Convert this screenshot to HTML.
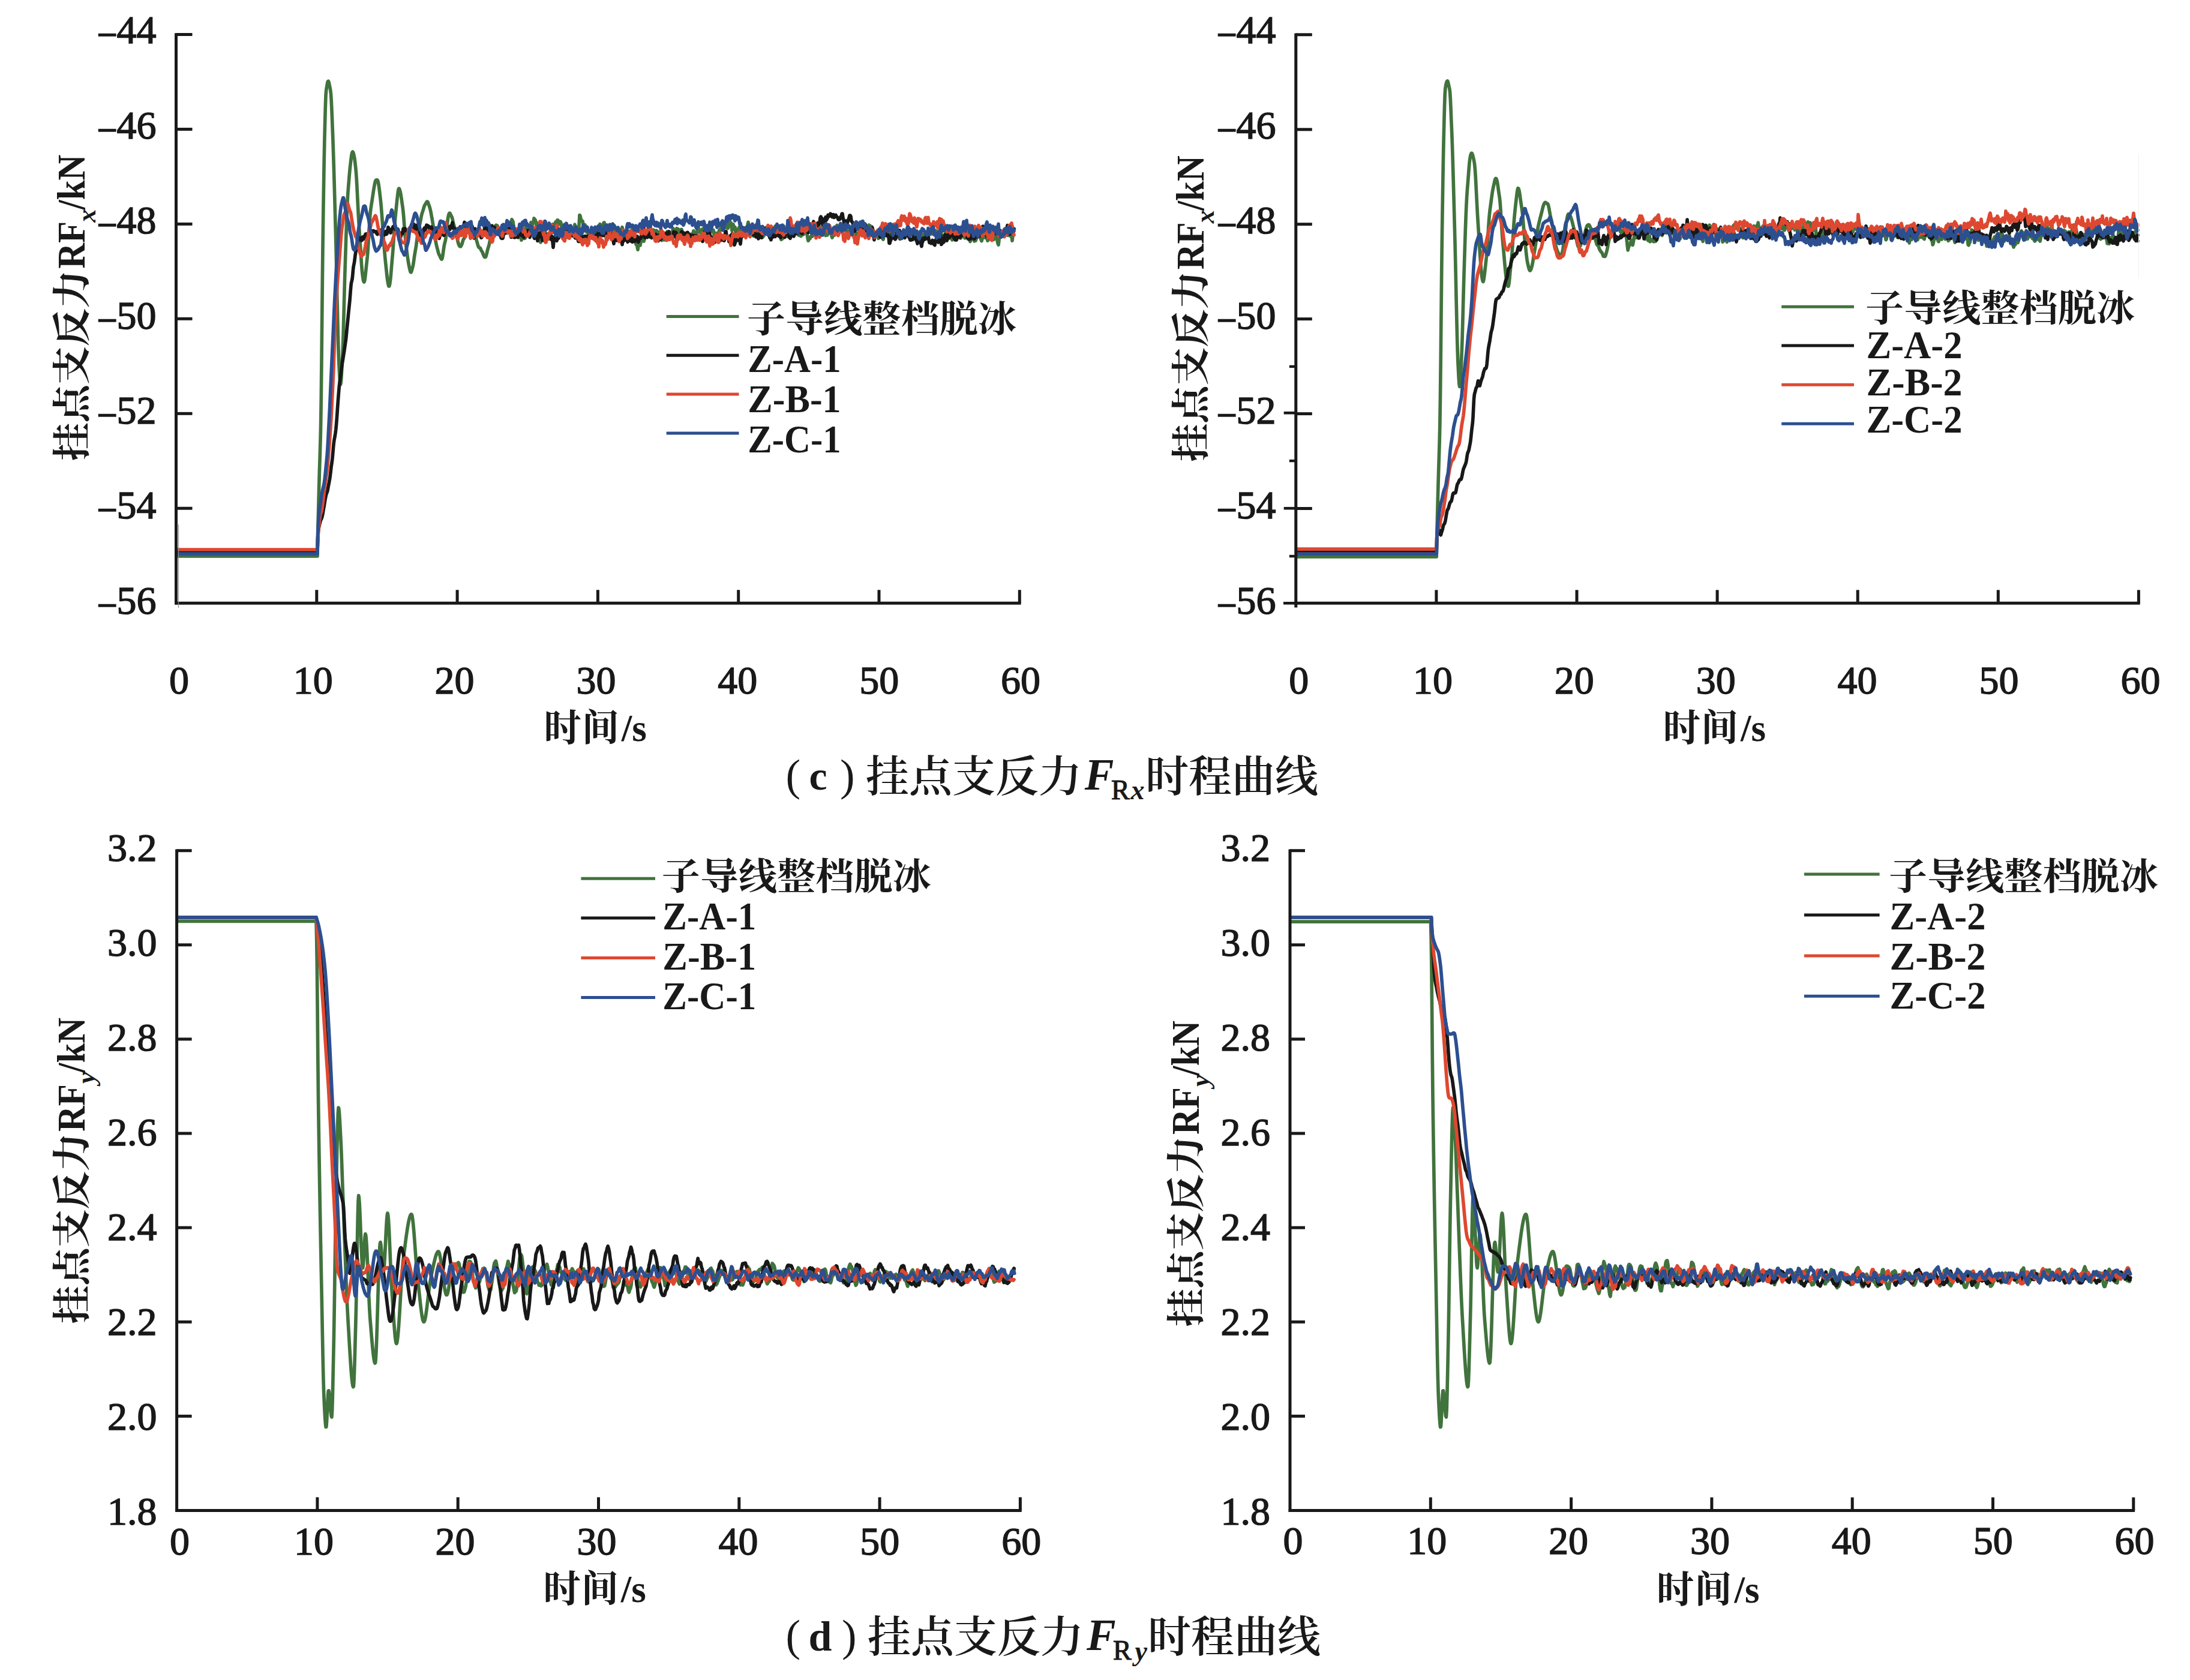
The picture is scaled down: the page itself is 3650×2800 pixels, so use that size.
<!DOCTYPE html>
<html><head><meta charset="utf-8"><title>挂点支反力时程曲线</title>
<style>html,body{margin:0;padding:0;background:#fff;width:3650px;height:2800px;overflow:hidden}svg{display:block}</style>
</head><body>
<svg width="3650" height="2800" viewBox="0 0 3650 2800">
<rect width="3650" height="2800" fill="#fff"/>
<path d="M296.0 927.0l233 0 0.7 -35.1 0.7 -30.7 0.7 -27.8 0.7 -26.4 0.7 -24.6 0.7 -21.3 0.7 -22.9 0.7 -29.4 0.7 -45.7 0.7 -62.4 0.7 -70.3 0.7 -69.1 0.7 -59.1 0.7 -48.3 0.7 -45.4 0.7 -40.8 0.7 -34.8 0.7 -28.2 0.7 -25.9 0.7 -19.6 0.7 -9 0.7 -4.1 0.7 -4.3 0.7 -3.9 0.7 -2.3 0.7 -0.4 0.7 1.4 0.7 2.7 0.7 3.3 0.7 3.6 0.7 3.8 0.7 5.5 0.7 10.4 0.7 14.2 0.7 17 0.7 18 0.7 18.5 0.7 20.8 0.7 22.5 0.7 23.8 0.7 24.9 0.7 25.7 0.7 25.9 0.7 25.8 0.7 29 0.7 31.7 0.7 32.5 0.7 31.5 0.7 29 0.7 25.4 0.7 20.2 0.7 14 0.7 11.9 0.7 8.9 0.7 3.7 0.7 -2.8 0.7 -8.5 0.7 -12.6 0.7 -14.4 0.7 -14.4 0.7 -17.4 0.7 -23.1 0.7 -26.6 0.7 -27.8 0.7 -26.4 0.7 -22.7 0.7 -21.8 0.7 -22 0.7 -21.2 0.7 -19.3 0.7 -16.9 0.7 -13.9 0.7 -10.4 0.7 -8.9 0.7 -8.8 0.7 -8.6 0.7 -7.9 0.7 -6.8 0.7 -6.1 0.7 -5.9 0.7 -5.6 0.7 -4 0.7 -2.2 0.7 -0.7 0.7 0.8 0.7 2 0.7 2.8 0.7 3.6 0.7 4.6 0.7 5.8 0.7 6.6 0.7 7.1 0.7 9.9 0.7 12.2 0.7 13.7 0.7 14.3 0.7 14.1 0.7 13.2 0.7 11.1 0.7 10.9 0.7 10.9 0.7 10.8 0.7 10.8 0.7 11 0.7 10.6 0.7 9.1 0.7 7.1 0.7 5.4 0.7 4.3 0.7 3.1 0.7 1.1 0.7 -1 0.7 -3.3 0.7 -5.3 0.7 -6.7 0.7 -6.8 0.7 -6.5 0.7 -6.3 0.7 -6.5 0.7 -8.8 0.7 -10.8 0.7 -11.9 0.7 -11.9 0.7 -11.3 0.7 -10 0.7 -8.3 0.7 -6.3 0.7 -4.7 0.7 -4.6 0.7 -4.5 0.7 -4.4 0.7 -4.8 0.7 -4.7 0.7 -4.5 0.7 -4 0.7 -3.9 0.7 -3.6 0.7 -2.7 0.7 -1.5 0.7 -0.4 0.7 -0.1 0.7 0 0.7 0.4 0.7 1.4 0.7 2.8 0.7 4.1 0.7 4.9 0.7 5.6 0.7 6 0.7 5.9 0.7 6.5 0.7 7.8 0.7 8.8 0.7 9.4 0.7 10.4 0.7 10.9 0.7 10.4 0.7 9 0.7 7.9 0.7 8.2 0.7 8.2 0.7 7.2 0.7 6.4 0.7 6.7 0.7 6.9 0.7 6.4 0.7 5.2 0.7 4.1 0.7 3.5 0.7 2.1 0.7 -0.1 0.7 -2.4 0.7 -4.1 0.7 -5.6 0.7 -7.4 0.7 -8.5 0.7 -8.7 0.7 -8.2 0.7 -7.4 0.7 -8.8 0.7 -10.4 0.7 -11.1 0.7 -10.7 0.7 -9.4 0.7 -8.1 0.7 -7.1 0.7 -7.1 0.7 -7.2 0.7 -6.9 0.7 -6.6 0.7 -6.2 0.7 -5.4 0.7 -3.9 0.7 -1.6 0.7 0.5 0.7 1.7 0.7 2.5 0.7 3.2 0.7 4 0.7 4.7 0.7 5 0.7 4.9 0.7 4.6 0.7 5.7 0.7 7.4 0.7 8.8 0.7 9.4 0.7 9.4 0.7 8.6 0.7 7.5 0.7 6.4 0.7 5.5 0.7 5.6 0.7 5.3 0.7 5.1 0.7 4.7 0.7 4.3 0.7 3.7 0.7 3.3 0.7 3.2 0.7 2.8 0.7 1.8 0.7 0.1 0.7 -1.5 0.7 -2.5 0.7 -2.5 0.7 -2.6 0.7 -3.2 0.7 -4.4 0.7 -5 0.7 -4.9 0.7 -4.5 0.7 -4.1 0.7 -4 0.7 -4.4 0.7 -5.1 0.7 -5.5 0.7 -5.4 0.7 -4.8 0.7 -4.1 0.7 -3.4 0.7 -3.2 0.7 -3.1 0.7 -3 0.7 -2.9 0.7 -3.7 0.7 -3.9 0.7 -3.5 0.7 -2.7 0.7 -2.1 0.7 -2.1 0.7 -2.2 0.7 -2.5 0.7 -2.5 0.7 -1.8 0.7 -1.2 0.7 -1.1 0.7 -1.1 0.7 -1.3 0.7 -1.2 0.7 -0.8 0.7 0 0.7 1.1 0.7 1.8 0.7 2 0.7 1.9 0.7 2 0.7 2.3 0.7 2.8 0.7 3.4 0.7 3.7 0.7 3.9 0.7 3.7 0.7 4.1 0.7 4.4 0.7 4.1 0.7 3.5 0.7 3.9 0.7 4.8 0.7 5.2 0.7 4.8 0.7 4 0.7 3.6 0.7 3.3 0.7 2.7 0.7 2.6 0.7 2.6 0.7 2.8 0.7 2.2 0.7 1.4 0.7 1.3 0.7 1.5 0.7 1.6 0.7 1.4 0.7 1.2 0.7 0.5 0.7 -1.2 0.7 -3.3 0.7 -4.6 0.7 -5.2 0.7 -4.9 0.7 -4.2 0.7 -3.1 0.7 -2.6 0.7 -2.9 0.7 -4.8 0.7 -6.3 0.7 -7.2 0.7 -7.3 0.7 -6.5 0.7 -5 0.7 -3.4 0.7 -2.5 0.7 -1.6 0.7 -0.3 0.7 0.8 0.7 1.5 0.7 1.5 0.7 1.2 0.7 1.3 0.7 2.1 0.7 2.9 0.7 3.3 0.7 2.9 0.7 2.5 0.7 2.5 0.7 2.3 0.7 2.2 0.7 2.6 0.7 3.2 0.7 3.6 0.7 3.4 0.7 3.1 0.7 3.1 0.7 2.9 0.7 2.4 0.7 1.9 0.7 1.3 0.7 0.8 0.7 0.4 0.7 -0.1 0.7 -0.8 0.7 -1.3 0.7 -1.7 0.7 -2.1 0.7 -2.7 0.7 -2.2 0.7 -1.4 0.7 -0.9 0.7 -1.3 0.7 -2.2 0.7 -2.8 0.7 -2.7 0.7 -2.4 0.7 -2.6 0.7 -2.7 0.7 -2.4 0.7 -2.2 0.7 -1.9 0.7 -1.5 0.7 -0.9 0.7 -0.2 0.7 0.7 0.7 1.4 0.7 1.8 0.7 1.5 0.7 0.9 0.7 0.7 0.7 1.4 0.7 2.5 0.7 2.8 0.7 2.3 0.7 2.1 0.7 2.2 0.7 1.5 0.7 1.1 0.7 1.5 0.7 2 0.7 2.4 0.7 2.5 0.7 2.5 0.7 2.4 0.7 2.2 0.7 1.6 0.7 0.9 0.7 0.2 0.7 0 0.7 0.7 0.7 1.8 0.7 1.8 0.7 1.1 0.7 0.8 0.7 1.3 0.7 1.9 0.7 1.9 0.7 1.7 0.7 1.4 0.7 1 0.7 0.2 0.7 -0.2 0.7 -0.7 0.7 -1.8 0.7 -2.8 0.7 -3.1 0.7 -3 0.7 -2.6 0.7 -2.2 0.7 -2.3 0.7 -2.8 0.7 -3.2 0.7 -3.5 0.7 -3.2 0.7 -2.5 0.7 -1.8 0.7 -1.4 0.7 -1.2 0.7 -1.7 0.7 -2.1 0.7 -1.8 0.7 -1.4 0.7 -1.1 0.7 -1.4 0.7 -2.3 0.7 -2.5 1.2 -0.8 1 0.5 1 0.7 1 2.2 1 1.2 1 1.6 1 0.9 1 0.6 1 -1.3 1 3.4 1 -5 1 -2.3 1 0.5 1 3.4 1 -1.6 1 2.4 1 -8 1 4.3 1 -4.8 1 -3.8 1 2 1 1.2 1 -2.8 1 3.5 1 -1.6 1 -2.1 1 -4.5 1 2 1 1.6 1 7.7 1 10.2 1 5 1 -6 1 0.3 1 8.6 1 -0.8 1 -2.5 1 3.9 1 -4.7 1 -1.4 1 1.7 1 2.7 1 6.1 1 -2.7 1 -0.6 1 -6.2 1 -2.7 1 9.3 1 -0.1 1 -11.6 1 -7.1 1 -2.1 1 1.1 1 -0.8 1 8.5 1 -8.4 1 3.8 1 -3.5 1 -6.4 1 2.5 1 2.8 1 -5.7 1 -0.1 1 -6.2 1 1.3 1 1.1 1 3.5 1 7.3 1 -5.1 1 0.1 1 3.6 1 1.9 1 7.5 1 10.1 1 8.5 1 -7.7 1 -5.7 1 3.8 1 -8.7 1 9 1 -8.2 1 -0.6 1 2.3 1 5 1 -2.4 1 2.8 1 -0.2 1 -3.5 1 -0.4 1 -0.6 1 7.5 1 -4.1 1 -6.6 1 -7.5 1 1.6 1 -6 1 0.3 1 6.3 1 -5.4 1 -4.8 1 7.6 1 2.1 1 -12.9 1 0.2 1 3.2 1 3 1 -2.8 1 -1 1 2.5 1 6.5 1 -1.5 1 3.3 1 -3.5 1 1.2 1 -4 1 2.6 1 5.5 1 2 1 1.7 1 8.4 1 1.9 1 -6 1 -4.7 1 -0.1 1 0.9 1 2.5 1 1.9 1 1.7 1 -1.5 1 -0.1 1 -8.6 1 -7.8 1 3.5 1 6 1 2.8 1 -5.1 1 -0.2 1 -2.9 1 -1.6 1 -18.2 1 1.4 1 4.6 1 4.4 1 -0.8 1 0.5 1 5.2 1 4.6 1 -1 1 -2.7 1 3.4 1 2.6 1 6.3 1 -2.4 1 3.1 1 0.6 1 -2.2 1 2 1 2.5 1 4.5 1 -9.2 1 1.9 1 3.3 1 -4.1 1 -1.4 1 2.3 1 7.8 1 5.9 1 -13.6 1 -5.5 1 6.4 1 -5.4 1 -5.2 1 -2.5 1 -2.3 1 12 1 0.7 1 -3.2 1 -3.1 1 -4.1 1 -4.2 1 -0.7 1 8.6 1 9.2 1 -1 1 -7.3 1 2.1 1 -2 1 3 1 -4.5 1 -4.6 1 0.2 1 8.3 1 3.6 1 -2 1 -3.6 1 1.1 1 5.2 1 8 1 -9.9 1 3.6 1 1.4 1 0.1 1 -1.6 1 6.2 1 -1.7 1 -3.1 1 -0.2 1 -0.6 1 -1 1 -5.4 1 -4.3 1 4.2 1 5.8 1 -2.4 1 0.6 1 7.1 1 -5 1 3.1 1 -9.2 1 8.4 1 7.5 1 -5.3 1 -7.6 1 1.4 1 3.2 1 1.2 1 -3.9 1 -6.5 1 9.3 1 2.1 1 -1.1 1 3 1 2.8 1 9.9 1 -5.8 1 9.1 1 5.5 1 -9.1 1 -0.7 1 -5.6 1 8.3 1 -6.3 1 -0.6 1 -1.9 1 -7.8 1 3.7 1 6 1 -3.3 1 -2.5 1 -9.7 1 -1.2 1 6.1 1 -0.4 1 -1.6 1 0.2 1 0.4 1 4.8 1 -3 1 0.8 1 -1.2 1 -2.3 1 -0.2 1 -5.9 1 1.2 1 3.9 1 -1.9 1 4.9 1 -7 1 1.3 1 1.3 1 1.8 1 3.9 1 -6.2 1 3.1 1 10.1 1 -1.9 1 3 1 -6.7 1 6 1 -4.1 1 0.5 1 3.5 1 -5.8 1 -5.3 1 3 1 -5.8 1 3.8 1 3.9 1 0.2 1 -2.5 1 3.4 1 -1.1 1 -1.3 1 -5 1 -2.5 1 -4 1 3.6 1 2.2 1 6.6 1 -2.5 1 -6.2 1 -3.8 1 6.1 1 -5.2 1 4.5 1 4.4 1 -1.2 1 -5.7 1 -1 1 -0.2 1 5.9 1 4.2 1 -1.8 1 2.1 1 3.1 1 -4.2 1 -2 1 -0.5 1 -0.8 1 0 1 0.7 1 3.8 1 -3.1 1 3.4 1 4.8 1 -0.2 1 0.7 1 -9.3 1 -0.5 1 -3.9 1 2.9 1 4.9 1 -4.9 1 0.9 1 3 1 -4.5 1 -11 1 2.1 1 7.1 1 1 1 -3 1 5.2 1 -2.5 1 -2.7 1 -1.7 1 1.8 1 -0.6 1 -5.1 1 3.6 1 1.7 1 -1.1 1 -1 1 5.6 1 -11 1 3.4 1 14.5 1 -7.2 1 0.5 1 -2.1 1 -1.6 1 1.7 1 0.3 1 -1.5 1 8 1 0.3 1 -3.6 1 1.8 1 2.6 1 -2.5 1 -1.7 1 -0.2 1 -1.4 1 -3.7 1 1.6 1 -3.4 1 -10.3 1 1.5 1 5.2 1 -1.4 1 -3 1 -1.2 1 7.8 1 -4.4 1 -0.2 1 0.5 1 -5.8 1 10.6 1 -3.3 1 -2.2 1 -1 1 2.4 1 -5.8 1 4.4 1 9.3 1 -4.8 1 -5.8 1 5.8 1 -1.7 1 0.8 1 7.8 1 0.7 1 6.4 1 -5.8 1 0.7 1 -7.7 1 -2 1 4.7 1 -3.6 1 2.7 1 0.9 1 1.5 1 -3 1 -1.4 1 1 1 1 1 -1 1 -1.6 1 5 1 -7.3 1 -2.8 1 -4.5 1 4.2 1 3.8 1 2.3 1 -1 1 3.7 1 -0.5 1 -1.1 1 10.9 1 0.7 1 -1.7 1 -8 1 4.4 1 -5.1 1 4.9 1 2.6 1 -12.7 1 8.2 1 5.9 1 -3.9 1 0 1 1.4 1 5 1 1.6 1 -0.4 1 -4.9 1 2.6 1 -9.4 1 -3.4 1 0.6 1 -1.8 1 2.1 1 4.4 1 4.9 1 1.4 1 -2 1 -2.8 1 -8.4 1 5.6 1 5.9 1 -7.8 1 0 1 1.1 1 2.8 1 -2 1 -7.6 1 4.9 1 2.3 1 2.5 1 -4 1 -0.5 1 3.8 1 3.2 1 3.5 1 -3 1 9.7 1 -3.8 1 2.7 1 -4.8 1 -2.4 1 2.7 1 -1.2 1 1.9 1 -5.2 1 -0.5 1 5.1 1 -9.1 1 4.1 1 -3.3 1 1.9 1 -3.7 1 -2.7 1 -0.7 1 0.2 1 5.6 1 -2.6 1 -6 1 1.5 1 8.7 1 -2.2 1 2.6 1 -1.8 1 -1.2 1 -1.4 1 8.2 1 0.4 1 -8.1 1 5.3 1 4.1 1 -4.3 1 -3.6 1 -0.8 1 6.1 1 -2.4 1 -0.5 1 -4.5 1 -3 1 3.7 1 5.7 1 6.4 1 4.9 1 -1.8 1 -2.1 1 0.2 1 -3.3 1 0.3 1 -3.2 1 2.5 1 -5 1 0.4 1 1.4 1 0.1 1 -2.2 1 -0.7 1 0.5 1 -0.6 1 1.4 1 -0.9 1 -3.1 1 -6 1 7.3 1 -4.8 1 -3.2 1 5.4 1 -2.4 1 -3.8 1 3.1 1 4.8 1 1.6 1 5.3 1 -3.7 1 -6 1 9.1 1 -7.5 1 -5 1 4.8 1 3.9 1 -5.8 1 2.9 1 8 1 2.9 1 -3.2 1 -5.5 1 1.9 1 2.7 1 -3.7 1 0.7 1 -4.8 1 -8.9 1 4.1 1 5.9 1 -4.1 1 -2.1 1 4.4 1 -1.8 1 3.8 1 -4.9 1 1.7 1 -1.9 1 3.3 1 -4.2 1 1.1 1 0 1 3.4 1 0.7 1 2.3 1 -1.5 1 0.2 1 4.8 1 -1 1 -0.6 1 -6.7 1 4.8 1 -4 1 -2.6 1 -2.3 1 1.8 1 8.1 1 4.8 1 0.2 1 0.8 1 -4.9 1 2.2 1 0.4 1 2.6 1 -8.6 1 -1.4 1 4.7 1 0.5 1 -1.7 1 0.8 1 0 1 -1.7 1 5 1 -7.1 1 1.6 1 -8.5 1 7.3 1 -4.8 1 0.6 1 -1.9 1 -3.8 1 1 1 0.1 1 2.3 1 3.7 1 -4.5 1 6.4 1 -0.5 1 4.6 1 0.5 1 0.8 1 -1.4 1 1.4 1 -0.2 1 2.1 1 3.5 1 2.5 1 -2.8 1 -5.3 1 -4.2 1 3.9 1 2.7 1 0.9 1 5.5 1 1 1 -4.8 1 -5.7 1 1.6 1 -4.6 1 -6.4 1 1.9 1 -0.3 1 0.8 1 -7.7 1 0.9 1 9.2 1 5.9 1 -4.2 1 -1.8 1 -0.9 1 -4.3 1 -4.5 1 4.6 1 -0.5 1 -0.5 1 8.7 1 -5.7 1 7.2 1 7.3 1 -5.9 1 -2 1 1.5 1 5.7 1 0.7 1 -1.9 1 -6.4 1 7.1 1 0.6 1 0.1 1 -5.8 1 2.1 1 1.6 1 0.7 1 -1 1 -4.9 1 5.6 1 -0.8 1 -5.9 1 3.3 1 1.5 1 -2.5 1 -5.4 1 7 1 2.6 1 -7.7 1 6.5 1 5.5 1 -5.5 1 6.1 1 3.3 1 -6.4 1 2.2 1 0.4 1 -6.3 1 1.5 1 2.5 1 -1.4 1 -3.9 1 -0.2 1 8.5 1 4.8 1 -3.7 1 -1.9 1 -5.6 1 -0.9 1 2 1 3.7 1 -0.5 1 -5 1 -4.7 1 -0.1 1 0.6 1 -3.3 1 0 1 6.6 1 -8.5 1 2.4 1 6.1 1 -2.7 1 3.5 1 -1.9 1 -4.5 1 1 1 0.2 1 6.2 1 1.9 1 -3.5 1 2.5 1 -5.7 1 -9.8 1 2.9 1 12.1 1 6.8 1 1.1 1 -7.6 1 5.3 1 -0.6 1 -3 1 -6.2 1 5.2 1 -2.9 1 -0.6 1 3.3 1 -1.6 1 -2.2 1 7.6 1 -7.9 1 3.7 1 2.3 1 5 1 -8.5 1 -4 1 4.4 1 -6.7 1 -6.2 1 4 1 4.1 1 0.5 1 7.9 1 -6.8 1 -0.3 1 2.7 1 4.6 1 1.4 1 -4.4 1 -1.6 1 -4.5 1 7.8 1 0.3 1 -0.1 1 2.3 1 -2.4 1 -4.6 1 0.9 1 5.1 1 2.2 1 -5.8 1 2.9 1 -0.9 1 8.4 1 -2 1 -7.5 1 4.3 1 -6.9 1 1.5 1 6.4 1 3.5 1 -6.5 1 5.8 1 -2.8 1 -3.8 1 -1.3 1 -0.3 1 -2.2 1 -1.1 1 1.3 1 0.5 1 7.9 1 2.3 1 -3.8 1 -2.1 1 0.2 1 -6.7 1 2.2 1 2.1 1 3 1 -6.9 1 6.6 1 4.9 1 -2.8 1 0.5 1 -2.7 1 -6.6 1 0.7 1 5.6 1 2.6 1 -10.6 1 3.8 1 7.6 1 -1.9 1 0 1 0 1 -3.5 1 -1.9 1 8.8 1 4.6 1 2.7 1 -7.6 1 -14.1 1 5.7 1 -0.5 1 2.6 1 -0.9 1 -7.5 1 3.4 1 -0.7 1 1.7 1 0.2 1 -0.6 1 -5 1 3.8 1 3.4 1 -2.2 1 2.5 1 -7.2 1 3.2 1 4.3 1 1.7 1 -2.6 1 9.4 1 -7.9 1 -8 1 -3" fill="none" stroke="#41733d" stroke-width="5.7" stroke-linejoin="round" stroke-linecap="round"/>
<path d="M296.0 919.0l233 0 0.7 -23.4 0.7 -9 0.7 -5.1 0.7 -3.9 0.7 -3 0.7 -3 0.7 -2.8 0.7 -2.1 0.7 -1.2 0.7 -1.5 0.7 -2.2 0.7 -2.9 0.7 -3.5 0.7 -4.1 0.7 -4 0.7 -3.8 0.7 -4.4 0.7 -4.6 0.7 -3.8 0.7 -3.4 0.7 -3.1 0.7 -2.2 0.7 -1.3 0.7 -2.2 0.7 -3.7 0.7 -4.2 0.7 -3.6 0.7 -3.5 0.7 -3.9 0.7 -4.4 0.7 -5.4 0.7 -6.2 0.7 -5.9 0.7 -4.7 0.7 -4.8 0.7 -6.6 0.7 -8.2 0.7 -8.2 0.7 -6.9 0.7 -5 0.7 -3.7 0.7 -3.7 0.7 -4.7 0.7 -5.7 0.7 -7.1 0.7 -8.8 0.7 -9.9 0.7 -10.4 0.7 -9.9 0.7 -9.1 0.7 -8.7 0.7 -8 0.7 -6.1 0.7 -4.9 0.7 -5 0.7 -5.6 0.7 -5.6 0.7 -5.2 0.7 -4.9 0.7 -4.3 0.7 -4.2 0.7 -4.5 0.7 -4.4 0.7 -4.4 0.7 -5 0.7 -5 0.7 -4.6 0.7 -5 0.7 -6.9 0.7 -7.8 0.7 -7.1 0.7 -6.9 0.7 -7.1 0.7 -7.3 0.7 -6.9 0.7 -6.8 0.7 -7 0.7 -8.4 0.7 -9.3 0.7 -8 0.7 -5 0.7 -2.5 0.7 -3.3 0.7 -6.6 0.7 -8.1 0.7 -6 0.7 -3.4 0.7 -3.5 0.7 -5.3 0.7 -5.8 0.7 -4.8 0.7 -4.2 0.7 -3.9 0.7 -3.1 0.7 -2.4 0.7 -2.7 0.7 -3.5 0.7 -3.5 0.7 -1.9 0.7 0.1 0.7 0.6 0.7 -0.1 0.7 0.4 0.7 2 0.7 2 0.7 -0.4 0.7 -2.9 0.7 -2.7 0.7 0.2 0.7 2.3 0.7 0.6 0.7 -2.3 0.7 -2.9 0.7 -1.8 0.7 -0.9 0.7 -0.2 0.7 0.9 0.7 1.6 0.7 1 0.7 -0.3 0.7 -1.8 0.7 -3 0.7 -3.7 0.7 -2.6 0.7 0 0.7 2.1 0.7 2.5 0.7 2.1 0.7 1.7 1.7 -5.5 1 -0.3 1 0.2 1 0.7 1 0.6 1 0.8 1 -1 1 3.6 1 1 1 -4.6 1 -0.3 1 1.5 1 2.3 1 -0.3 1 -5.7 1 8.3 1 -0.9 1 -2.4 1 4.2 1 -3.5 1 2.2 1 -3 1 -2.7 1 4.8 1 -0.8 1 -6.2 1 -4.7 1 3.3 1 3.5 1 -1.6 1 4.2 1 -4.8 1 -1.8 1 -0.2 1 -3.4 1 2.2 1 -1.8 1 -4.9 1 4.4 1 10.4 1 -1.2 1 -1.1 1 -4.2 1 3.4 1 5.7 1 -1.5 1 -0.7 1 5.8 1 -4.8 1 -2 1 1.9 1 -8.2 1 4.1 1 -4.3 1 -0.3 1 1.2 1 2.6 1 0.1 1 -0.5 1 -0.2 1 3.8 1 0.6 1 -3.9 1 -2.1 1 -5.5 1 -2.9 1 4.7 1 -0.3 1 0.2 1 -4.9 1 11.7 1 -9.1 1 2.8 1 3.1 1 -6.9 1 0.7 1 -2.5 1 2.9 1 3.1 1 9.6 1 3 1 -1 1 4.4 1 -1 1 -7.3 1 -4.1 1 -2.6 1 -1 1 3.9 1 -4.3 1 -3.9 1 0.4 1 2.5 1 -1.5 1 2.5 1 1.7 1 5.9 1 -0.9 1 -7.8 1 4.3 1 4.4 1 -1.8 1 3.5 1 -0.2 1 0.2 1 -1.2 1 2.3 1 0.8 1 -5.6 1 1.1 1 2.9 1 8.7 1 -3.6 1 -2 1 -2 1 -3.3 1 -0.1 1 4.6 1 -2.2 1 3.6 1 -5.6 1 -4 1 -2.8 1 -0.8 1 1.7 1 6.8 1 1.6 1 -11 1 2.6 1 1.3 1 -5.6 1 -0.4 1 -0.9 1 -4.4 1 9.4 1 0.3 1 -0.2 1 1.4 1 3.4 1 6.7 1 -5.5 1 -1 1 -4.2 1 0.9 1 -1.7 1 -0.4 1 -2 1 1.6 1 5.6 1 1.7 1 -2.6 1 -5 1 -1.2 1 -7.7 1 9.1 1 -0.1 1 2.1 1 4 1 -2.2 1 3.8 1 -2.7 1 1 1 -3.3 1 1.5 1 2 1 -7.4 1 -0.9 1 3.1 1 7.2 1 9.2 1 -9.8 1 -5.7 1 3.5 1 -1.6 1 3 1 1.5 1 -3.2 1 -0.7 1 -1.7 1 6.9 1 0.8 1 6.4 1 -0.6 1 -8.3 1 -1.5 1 0.6 1 -1 1 -8.4 1 5.2 1 7.1 1 -5.3 1 -0.8 1 -1.7 1 -2.7 1 6.7 1 -0.4 1 -0.3 1 1.9 1 -2.1 1 -8.5 1 5.2 1 -1.2 1 1.1 1 -2.3 1 1 1 6.7 1 -1.3 1 -0.7 1 1.5 1 2.7 1 -1 1 -6.6 1 4.8 1 5.2 1 5.1 1 1 1 -6 1 6 1 -5.4 1 -2.8 1 -5.1 1 -0.6 1 5.2 1 -5.1 1 -0.5 1 5 1 -0.1 1 -10.7 1 2.4 1 4.2 1 8.7 1 2.9 1 -7.5 1 1 1 4.3 1 2 1 -2.4 1 3 1 -6.1 1 -7.5 1 4.7 1 7.9 1 0.6 1 -10.9 1 0.1 1 3.6 1 -8.2 1 11.6 1 0.8 1 -12 1 9.4 1 1.4 1 4.5 1 -3.3 1 -2.8 1 1.4 1 2.5 1 -2.5 1 -2.9 1 -4.2 1 5.4 1 1.6 1 4.6 1 -5.9 1 -3 1 -1.4 1 3.6 1 -2.5 1 0.1 1 9.4 1 1.5 1 -8.5 1 -2 1 6.2 1 -1.6 1 10 1 -6.5 1 -0.6 1 -6.7 1 3.2 1 4.3 1 -2.7 1 -1.3 1 9.8 1 -3.6 1 -4.7 1 -1.4 1 2.3 1 4 1 -6.4 1 0 1 -0.5 1 6.2 1 -1.9 1 2.9 1 -0.7 1 -3 1 4.5 1 0.8 1 -5.3 1 8.5 1 9.7 1 -10.9 1 -1.7 1 -4.7 1 4.4 1 -1 1 3 1 -4.1 1 -4.7 1 4.5 1 -5.4 1 -4.7 1 1.5 1 -2.4 1 3 1 -1.5 1 -1.3 1 1.6 1 -4.2 1 4.4 1 -5.5 1 9.9 1 -2.7 1 -3.7 1 -1 1 4.2 1 -1 1 0.9 1 3.5 1 -4.6 1 -0.4 1 3.2 1 2.2 1 -3.2 1 0.7 1 1.1 1 3.7 1 1.3 1 -7.8 1 1.2 1 2.6 1 4.9 1 4.7 1 -2.9 1 1.5 1 1.7 1 -8.7 1 -1.4 1 0.8 1 1.5 1 0.4 1 -0.4 1 5.8 1 -7.1 1 0.3 1 4.5 1 -1.4 1 -3.6 1 0.7 1 1.4 1 -1.7 1 0.9 1 -4.1 1 0.5 1 -5.8 1 0 1 1 1 7.2 1 -2.8 1 1.8 1 -1.4 1 3.1 1 0.5 1 -1.4 1 2.2 1 -7.7 1 7 1 6.1 1 -10.8 1 -1.2 1 -3.4 1 3.2 1 -2.6 1 6.8 1 -3 1 -5.2 1 1.5 1 1.6 1 6.8 1 5 1 -4.3 1 -3.9 1 1.2 1 1.2 1 -6.6 1 8.8 1 -0.2 1 -6.7 1 10.4 1 -4.3 1 5.9 1 5.2 1 -9.2 1 -2.6 1 2.6 1 1.3 1 2.6 1 -1.6 1 -1.2 1 -0.1 1 0.5 1 -0.8 1 4.4 1 -0.4 1 -1.1 1 7.1 1 -7.9 1 2.3 1 -4.3 1 1.4 1 0.3 1 0.6 1 -0.8 1 -5.4 1 9.4 1 -7.7 1 -7.9 1 0.1 1 13.7 1 0.3 1 -4.9 1 3.5 1 3 1 -3.8 1 -2.5 1 2 1 3.2 1 -3.2 1 -3.2 1 4.6 1 -6.7 1 2.9 1 6.8 1 -3.3 1 -2.6 1 -1.4 1 0.8 1 -6.7 1 -7.7 1 2.5 1 -10.3 1 4.5 1 15.6 1 1.3 1 -4.8 1 0.8 1 1.9 1 1.5 1 -6.5 1 -1.9 1 2.1 1 4.1 1 1.3 1 -0.8 1 2.4 1 -4.9 1 1.3 1 -2.1 1 0.1 1 6.8 1 -4.4 1 -2.7 1 3.1 1 -0.7 1 6.1 1 2.7 1 -1.8 1 -8.3 1 2.1 1 5.5 1 -5.5 1 3.5 1 -0.8 1 -9.3 1 5.9 1 -0.1 1 0 1 1.6 1 -4.5 1 -1.7 1 1.6 1 -1.2 1 1.4 1 -4 1 11.3 1 -3.4 1 2.4 1 0.1 1 -1 1 -0.6 1 -2.3 1 -6.3 1 3.4 1 5 1 -7.4 1 0.8 1 11.8 1 0.1 1 -1.1 1 -5.8 1 -0.1 1 2.1 1 -0.5 1 -3.4 1 -5 1 0.7 1 0.2 1 8.5 1 -5.5 1 -1.3 1 1.4 1 0 1 1.3 1 -3.8 1 -0.2 1 10.8 1 -5.2 1 -1.1 1 -0.5 1 1.3 1 3 1 1.6 1 -5.1 1 2.7 1 -0.5 1 4.4 1 -6.1 1 3.9 1 2.2 1 -5.6 1 3.9 1 0.4 1 -3.6 1 1.9 1 4.2 1 -2.4 1 -2.8 1 1.2 1 3.5 1 2.8 1 -2.2 1 -1.3 1 -1.1 1 -12.2 1 -3.9 1 -0.6 1 8 1 -7 1 6.8 1 4 1 -5.3 1 3 1 5.3 1 4 1 -4.4 1 6.3 1 2.8 1 -2.3 1 -0.4 1 2.3 1 -3.8 1 -2.3 1 -0.4 1 2.8 1 -1.7 1 2.3 1 -0.3 1 1.5 1 -5.9 1 1.2 1 1.2 1 0.2 1 1.2 1 -2.7 1 1.3 1 2.5 1 -5.8 1 -9 1 -0.7 1 7.9 1 -0.1 1 2.6 1 1.2 1 5.5 1 -1.5 1 -8.5 1 1.8 1 -2.2 1 -2.4 1 6.6 1 0.2 1 4 1 7.5 1 -2.7 1 -3.5 1 -6.8 1 -1.9 1 7.4 1 -3 1 -0.2 1 -0.6 1 3.5 1 6.3 1 -9.3 1 -3.5 1 0.2 1 -2.6 1 -7.9 1 -3.7 1 3.8 1 2 1 -1.4 1 -0.5 1 1.2 1 2.7 1 0.3 1 -4.5 1 3.7 1 4.2 1 -2.2 1 -4.5 1 2.6 1 2.6 1 1.1 1 -6 1 6.1 1 -0.9 1 2.7 1 1.7 1 -4.6 1 0.3 1 4.2 1 3.2 1 -4.8 1 -4.1 1 2.3 1 4.3 1 0.6 1 -7.5 1 -2.7 1 -0.9 1 -1.6 1 -3 1 1.8 1 3.2 1 0.5 1 -1.1 1 -3.5 1 0.8 1 2.1 1 8.1 1 4 1 -0.6 1 4 1 -4.3 1 -1.8 1 -2.4 1 3.6 1 -1.8 1 0.7 1 0.6 1 -3.5 1 -3 1 3.3 1 0.9 1 0.5 1 0.9 1 -3.5 1 0.1 1 6.2 1 -2.3 1 -6.4 1 -4.5 1 1.3 1 3.6 1 3.7 1 3.9 1 -7.8 1 -0.7 1 -0.1 1 1.9 1 -0.7 1 0.1 1 7.1 1 0 1 1.9 1 -5.2 1 1.3 1 -0.2 1 -8.6 1 1.8 1 7.7 1 -2.8 1 -7.6 1 1 1 -1.1 1 1.9 1 4.1 1 -5.8 1 4.2 1 -7.3 1 -1.6 1 8.2 1 0.5 1 1.2 1 0.4 1 -4.3 1 -4.6 1 -11.1 1 1.6 1 5.9 1 1.8 1 1.7 1 -1.9 1 5.9 1 3.5 1 -4.6 1 -0.8 1 -0.8 1 0.7 1 -3 1 -3 1 1.1 1 -2.3 1 -5.9 1 4.1 1 0.8 1 0.3 1 -1.2 1 3.6 1 -0.2 1 -5 1 1.6 1 0.9 1 -2.9 1 -7.9 1 -2.2 1 2.3 1 0.3 1 10.1 1 -7.8 1 -0.1 1 5.6 1 -3.7 1 -5.9 1 5.3 1 -1.9 1 -1.7 1 -5.2 1 0.3 1 1.9 1 -0.9 1 -3.5 1 0.8 1 1.2 1 3.5 1 -1.3 1 -2.7 1 4.8 1 -2.5 1 1.5 1 -3.2 1 3 1 0 1 1.4 1 2.7 1 0.8 1 -0.4 1 -0.8 1 -3.6 1 1.8 1 -6.6 1 -0.5 1 7 1 3.3 1 5.8 1 -0.7 1 0.3 1 -3.6 1 2.2 1 1.9 1 -3.4 1 -2.9 1 -2.9 1 -3.9 1 -0.1 1 1.6 1 8 1 1 1 0.9 1 4.4 1 0.1 1 6.7 1 3.4 1 -6.2 1 -6.9 1 -1.3 1 10.8 1 -3.9 1 -4.9 1 5.4 1 -6.1 1 3.3 1 2.3 1 -0.9 1 -0.1 1 9.4 1 -6.9 1 0 1 -1.5 1 -4.2 1 4.7 1 6.3 1 3.9 1 -1.7 1 2.4 1 0.2 1 1.4 1 -6.8 1 8.3 1 -1.6 1 -3.4 1 -7.5 1 5.7 1 9.3 1 5.1 1 -9.8 1 -1.8 1 3.7 1 -1.4 1 -4.1 1 -0.2 1 0.2 1 3.6 1 2.4 1 2.8 1 -3.2 1 -3.3 1 -2.7 1 -0.4 1 -4.4 1 8.4 1 -2.3 1 2.1 1 -3.7 1 6.4 1 0.8 1 -1.2 1 -0.5 1 3.1 1 10.9 1 0.2 1 -4.3 1 -1.6 1 -4.5 1 -4.8 1 0.4 1 5 1 1.5 1 -2.7 1 4.5 1 -1.5 1 -5.3 1 -7.8 1 3.4 1 0.9 1 -4.8 1 0 1 14.3 1 -1.9 1 -3.9 1 5 1 -1.7 1 -3.6 1 -0.9 1 3 1 2.2 1 -4.6 1 -1.3 1 0.2 1 -8.7 1 8.6 1 2.6 1 2.4 1 1.7 1 2.7 1 0.3 1 -0.4 1 -0.7 1 0.2 1 -2.9 1 1.3 1 -7.2 1 5.5 1 2.4 1 -4 1 4.7 1 7.1 1 -4.4 1 -6.5 1 -5.9 1 10.4 1 3 1 3.6 1 4.2 1 -6.7 1 -3.1 1 -3.9 1 0.1 1 0 1 1.8 1 -2 1 -5.3 1 1.3 1 5.2 1 -5.2 1 6.2 1 5.4 1 -1.8 1 -0.3 1 3.4 1 -3 1 -2.3 1 0.7 1 5.4 1 1 1 1.1 1 -6.9 1 -2.7 1 -0.6 1 1.4 1 -1.2 1 5.4 1 -1.2 1 -6.8 1 -7.2 1 6 1 12.7 1 -1.9 1 -0.7 1 -1.2 1 -0.1 1 -9 1 -3.4 1 1.5 1 5.9 1 2.4 1 -2.2 1 -4.6 1 -3.8 1 5.5 1 -2 1 0.1 1 -0.2 1 -1.6 1 -0.8 1 0.1 1 -0.4 1 5.5 1 1.4 1 1.7 1 -7 1 7.3 1 -2.3 1 -2.5 1 -3 1 -1.7 1 -1.1 1 6.4 1 -2.8 1 0.5 1 -2.1 1 -6.3 1 -1.1 1 1.3 1 5.2 1 -1.2 1 0.5 1 1.7 1 -0.3 1 5 1 -6.2 1 7.1 1 1.8 1 -6.5 1 5.4 1 0.1 1 -0.9 1 -7 1 1.6 1 -3 1 3.3 1 6.4 1 -6 1 -8.7 1 1.3 1 3.6 1 6.7 1 -5.7 1 -3 1 7.8 1 -1.6 1 -2.4 1 -3 1 5.2 1 -6.6 1 -8.9 1 0.6 1 1.5 1 3 1 2.8 1 -4.1 1 3.1 1 10.4 1 -4.4 1 -2.6 1 0.8 1 -2.8 1 5.4 1 1.3 1 -4.4 1 3.3 1 -2.8 1 0.3 1 -3.2 1 -1.5 1 -0.6 1 6 1 0.3 1 -0.6 1 -3.2 1 -0.8 1 2.3 1 3.4 1 -1.8 1 -4.3 1 2.8 1 3.7 1 -4.1 1 3.6 1 -3.6 1 0.4 1 -4.1 1 3.4 1 -5.2 1 3.2 1 -2.4 1 -6.5 1 3 1 9.5 1 0.7 1 1.4 1 -6.5 1 -10.1 1 8.4 1 0.1 1 0 1 0.4 1 -1.2" fill="none" stroke="#181818" stroke-width="5.7" stroke-linejoin="round" stroke-linecap="round"/>
<path d="M296.0 916.0l233 0 0.7 -18.1 0.7 -10 0.7 -7.2 0.7 -6.5 0.7 -6.4 0.7 -5.8 0.7 -4.2 0.7 -2.2 0.7 -1.3 0.7 -2.5 0.7 -3.9 0.7 -4.7 0.7 -5 0.7 -5.7 0.7 -6.4 0.7 -6 0.7 -5.5 0.7 -5.2 0.7 -4.9 0.7 -4.6 0.7 -4.7 0.7 -5.2 0.7 -5.7 0.7 -6.3 0.7 -7.3 0.7 -8.1 0.7 -8.4 0.7 -8.5 0.7 -9 0.7 -10 0.7 -10.5 0.7 -10.8 0.7 -11.8 0.7 -13.4 0.7 -14.3 0.7 -14.2 0.7 -14.1 0.7 -15.5 0.7 -18.6 0.7 -20.6 0.7 -20.4 0.7 -18.5 0.7 -16.6 0.7 -14.9 0.7 -12.8 0.7 -11.5 0.7 -10.6 0.7 -9.4 0.7 -8.9 0.7 -8.9 0.7 -8.6 0.7 -8.4 0.7 -8.5 0.7 -9.2 0.7 -9.3 0.7 -9 0.7 -8.4 0.7 -6.9 0.7 -4.9 0.7 -4 0.7 -4.8 0.7 -5.3 0.7 -4.2 0.7 -2.4 0.7 -1.4 0.7 -1.2 0.7 -1.4 0.7 -2.3 0.7 -3.2 0.7 -3.9 0.7 -3 0.7 -0.9 0.7 1.7 0.7 2.8 0.7 2.9 0.7 2.5 0.7 1.8 0.7 1.2 0.7 1.8 0.7 3.5 0.7 4.7 0.7 4.6 0.7 4.1 0.7 3.9 0.7 3.8 0.7 3.4 0.7 2.9 0.7 2.4 0.7 2.4 0.7 2.4 0.7 2.1 0.7 1.2 0.7 1.1 0.7 2 0.7 3.3 0.7 3.8 0.7 3.4 0.7 3.1 0.7 3.2 0.7 3.1 0.7 2.5 0.7 1.8 0.7 1.7 0.7 2 0.7 0.9 0.7 -0.7 0.7 -1.4 0.7 -0.8 0.7 0.1 0.7 -0.6 0.7 -2.3 0.7 -3.7 0.7 -3.6 0.7 -3.1 0.7 -3.7 0.7 -4.3 0.7 -3.3 0.7 -1.4 0.7 -0.8 0.7 -1.9 0.7 -3.8 0.7 -4.4 0.7 -3.9 0.7 -2.5 0.7 -1.1 0.7 -1 0.7 -2.5 0.7 -3.2 0.7 -2.2 0.7 -0.9 0.7 -0.9 0.7 -1.5 0.7 -1.8 0.7 -1.3 0.7 -1.2 0.7 -1.5 0.7 -1.5 0.7 -1 0.7 0.8 0.7 2.3 0.7 3 0.7 3.4 0.7 4 0.7 3.9 0.7 3.2 0.7 2.3 0.7 1.8 0.7 1.3 0.7 1.5 0.7 2.2 0.7 2.2 0.7 1.3 0.7 0.6 0.7 0.6 0.7 1.2 0.7 2 0.7 2.7 0.7 2.3 0.7 1.2 0.7 1.1 0.7 2.3 0.7 3.2 0.7 3.1 0.7 2.3 0.7 1.4 0.7 0.2 0.7 -0.9 0.7 -1.8 0.7 -2.1 0.7 -2 0.7 -1.1 0.7 0.3 0.7 -0.1 0.7 -1.9 0.7 -2.2 0.7 -0.7 0.7 -0.2 0.7 -1.5 0.7 -2.7 0.7 -2.6 0.7 -1.8 0.7 -1.3 0.7 -1.7 0.7 -1.7 0.7 -1.5 0.7 -1.3 0.7 -1.3 0.7 -0.6 0.7 0 0.7 0.7 0.7 0.7 0.7 0 0.7 -0.4 0.7 0.8 0.7 2.6 0.7 3.2 0.7 2.7 0.7 2.2 0.7 2 0.7 1.7 0.7 0.8 0.7 0.3 0.7 0.3 0.7 0.6 0.7 0.3 0.7 -0.1 0.7 -0.2 0.7 -0.1 0.7 -1.2 0.7 -2.6 0.7 -2.9 0.7 -2.3 0.7 -1.3 0.7 -1.1 0.7 -2.1 0.7 -3.4 0.7 -3.7 0.7 -2.7 0.7 -0.9 0.7 0.6 0.7 1 0.7 0.5 0.7 0.1 0.7 0.2 0.7 0.6 0.7 1.2 0.7 1.2 0.7 0.4 0.7 -0.1 0.7 0.1 0.7 0.3 0.7 0.1 0.7 0.3 0.7 1.1 0.7 1.4 0.7 0.9 0.7 1 0.7 2.1 0.7 3.2 0.7 2.8 0.7 1 0.7 -1.3 0.7 -1.5 0.7 0 0.7 1.9 0.7 2.7 0.7 2.2 0.7 1.3 0.7 -0.1 0.7 -1.6 0.7 -3.1 0.7 -3.4 0.7 -2.1 0.7 -0.5 0.7 0.5 0.7 0.2 0.7 -1.4 0.7 -2.5 0.7 -2 0.7 -0.4 0.7 -0.3 1.3 -3.7 1 -0.1 1 0.3 1 0.1 1 0.2 1 1.4 1 2.5 1 2.9 1 -2.3 1 -1.9 1 7 1 1.7 1 2.3 1 -0.4 1 -1.7 1 -5.5 1 4.4 1 -4.6 1 0.9 1 -7 1 7.3 1 -5.3 1 -8.4 1 6.5 1 0.9 1 -2.7 1 -3.5 1 7.6 1 -7.3 1 -0.5 1 -9 1 9.8 1 3.6 1 1 1 4.9 1 -2.9 1 3.9 1 0.7 1 0.8 1 -2.4 1 5.5 1 1.4 1 -0.9 1 -1.2 1 -3.7 1 -2 1 1 1 0.7 1 -4.6 1 4.8 1 7.3 1 -3.4 1 -5.9 1 3.2 1 -9.2 1 3.5 1 5.7 1 -1 1 -2.8 1 -5.9 1 -0.9 1 8.1 1 2.3 1 2.3 1 -9.1 1 -4.5 1 0.3 1 -2.6 1 5.8 1 3.2 1 2 1 7.5 1 -0.5 1 -9.1 1 -0.9 1 8 1 0.6 1 -6.8 1 1.4 1 0.7 1 -1.2 1 1.1 1 -1.4 1 5 1 -3.5 1 -10.4 1 0.3 1 2.2 1 6.2 1 -4 1 5.8 1 2.9 1 -7.3 1 3.2 1 1.1 1 1.6 1 -5.7 1 2.3 1 -0.1 1 7.3 1 -4.8 1 5.1 1 -2.8 1 2.2 1 1.2 1 3.2 1 2 1 1.4 1 -1.6 1 -8 1 -4.8 1 4.9 1 -7.1 1 1.1 1 -2.6 1 -1.1 1 0.3 1 -5 1 1.9 1 2 1 5 1 1.8 1 -1.1 1 -0.8 1 5.5 1 -3.9 1 -8.8 1 3.6 1 0.7 1 -3.6 1 3.4 1 -0.7 1 -0.7 1 3.8 1 -1.4 1 -1 1 3 1 -3.2 1 8.3 1 -3.2 1 0.4 1 3.1 1 -1.2 1 -5.2 1 1.2 1 3.1 1 0.1 1 -7.3 1 1.1 1 -4.1 1 0.2 1 3 1 -1.2 1 -4.1 1 0 1 1.4 1 -3.6 1 3.2 1 -1.6 1 8.1 1 -1.4 1 0.9 1 -1 1 6.2 1 1.1 1 1 1 -1.2 1 0.7 1 -2.5 1 0.3 1 -4.1 1 -1.6 1 0.7 1 -1.1 1 -2.5 1 -3.5 1 1.7 1 3.7 1 -2.7 1 -1.3 1 -1.5 1 5.5 1 -3.4 1 1.3 1 -0.2 1 1.4 1 -10.8 1 -3.2 1 4.5 1 -4.2 1 6.5 1 4.7 1 5.6 1 5.1 1 -2.6 1 8.5 1 6.6 1 -0.2 1 -10.5 1 1 1 4.8 1 -9.8 1 2.7 1 -2.6 1 -3.6 1 -9.7 1 -1.4 1 3.6 1 7.1 1 1.8 1 -3.7 1 4.1 1 0.1 1 -4.8 1 -3.3 1 -4 1 1.6 1 3.7 1 8.9 1 1 1 -1.7 1 2.4 1 -3.5 1 -3 1 10.1 1 2.8 1 -3.2 1 6.2 1 0.8 1 -4.3 1 -10 1 4.9 1 1.8 1 -6.1 1 0.1 1 5.7 1 3.5 1 -5.6 1 -5 1 -3.9 1 -2.2 1 2.6 1 5.2 1 0.4 1 4.7 1 -7.8 1 0.4 1 6.3 1 3.5 1 -0.2 1 -3.7 1 2.3 1 6.1 1 -3.4 1 0 1 5 1 1 1 0.9 1 4.1 1 -8.4 1 3 1 -1 1 2.9 1 -5.6 1 2.7 1 -0.4 1 8.1 1 -4.9 1 2.1 1 -10.5 1 -2.9 1 0.3 1 -8.1 1 2.3 1 9.8 1 -0.1 1 -3.2 1 4.9 1 0.3 1 -0.4 1 -2.9 1 5.7 1 -1.7 1 5.4 1 -3.6 1 9.7 1 -9.4 1 -5.6 1 1.5 1 5.8 1 -0.2 1 -2.7 1 6.3 1 4.7 1 -5.4 1 0.7 1 0.3 1 -4.2 1 -9.5 1 6.2 1 -5.4 1 -1.5 1 -0.2 1 -10.9 1 10.3 1 3.3 1 3.6 1 -3.4 1 1.8 1 -2.4 1 -7.5 1 3.2 1 0.7 1 2.5 1 -2.4 1 -1.6 1 4.8 1 1.2 1 3.8 1 2.7 1 -7.8 1 -1 1 4.7 1 -2.9 1 -9.6 1 1.8 1 -3.9 1 1.5 1 2.4 1 1.4 1 0.1 1 1.8 1 2.1 1 4.4 1 -3.8 1 -6 1 6.8 1 -3.3 1 -6.6 1 0.4 1 4.6 1 1.6 1 -0.8 1 -6.5 1 4.6 1 6.2 1 -13.8 1 -1.9 1 5.3 1 1.3 1 -2.1 1 2.7 1 -0.1 1 -1.5 1 2.6 1 0.3 1 2.3 1 -0.2 1 -5.8 1 0.8 1 -1.9 1 2.9 1 3.5 1 1 1 -5.1 1 2.1 1 -3.2 1 -2.4 1 -0.9 1 -0.7 1 2 1 -3.4 1 4.9 1 0.6 1 6.4 1 -3.6 1 3.2 1 4 1 2.9 1 4.6 1 0.6 1 -6.4 1 -0.6 1 6.2 1 -3.2 1 -3.9 1 -0.2 1 2.6 1 -2.9 1 -10.8 1 2.4 1 1.4 1 0.2 1 8.2 1 1.5 1 -3 1 4.2 1 -2.6 1 5.4 1 -0.6 1 -2.2 1 -0.4 1 -2.2 1 4.2 1 -3.3 1 1.4 1 -3.9 1 0.4 1 4.4 1 3.1 1 4.1 1 -3.4 1 1.3 1 2.5 1 4.5 1 -7.5 1 -8 1 -2.6 1 3.4 1 1.1 1 -4.5 1 -0.8 1 2 1 4.6 1 2.2 1 -4.7 1 0.3 1 8.5 1 2.5 1 -5.7 1 -5.8 1 0.3 1 3.3 1 -7 1 2.2 1 9.3 1 -5.2 1 3.4 1 8.9 1 -6.5 1 2.1 1 -6.5 1 -3.9 1 4.5 1 0 1 0.7 1 -6.8 1 4.7 1 0.5 1 0.7 1 -3.5 1 -3.9 1 7.1 1 0.3 1 -0.6 1 -0.9 1 -1.4 1 -4 1 -4.4 1 1.6 1 3.9 1 -5.6 1 5.6 1 5.6 1 -2.9 1 6.2 1 -8.9 1 3.9 1 -4.7 1 9.5 1 7 1 -6.8 1 -5.8 1 0.6 1 6.8 1 2 1 -2.3 1 -4.8 1 -3.7 1 -1.2 1 -2.7 1 -1.3 1 9.4 1 3 1 0.8 1 -0.5 1 -10.1 1 -4.9 1 6.7 1 -0.9 1 -2.6 1 4.4 1 -0.9 1 3.3 1 -1.3 1 -4.4 1 1.6 1 -0.4 1 2.9 1 -1.2 1 -2.2 1 4.7 1 -0.6 1 0.6 1 3.7 1 7.2 1 -5.9 1 -5 1 -4.4 1 -4.1 1 4.1 1 -0.2 1 -2.4 1 2.9 1 -1 1 -1.2 1 -2.3 1 5.1 1 -3 1 -5 1 2.3 1 3 1 -3.5 1 4.8 1 -5.6 1 -3.9 1 8.3 1 -1.2 1 1.2 1 0.9 1 3.1 1 -3.3 1 -0.8 1 -6.7 1 0.1 1 -1.7 1 3.9 1 7 1 -7.6 1 1.5 1 -1.2 1 0.4 1 -5.4 1 -3 1 -3.3 1 7.7 1 -3.1 1 -3 1 -4 1 8.9 1 0.2 1 -4.4 1 2.4 1 1.7 1 3.2 1 -7.6 1 7.2 1 3.3 1 0.8 1 -6.3 1 -0.6 1 1.1 1 6.6 1 -0.8 1 -0.1 1 -2.6 1 -4.1 1 -7 1 3.8 1 6.7 1 -2.9 1 -5.7 1 -0.6 1 1.4 1 1.1 1 1.2 1 0.4 1 2.5 1 2.7 1 -2.3 1 -4 1 7.8 1 -7.3 1 -3.1 1 6.4 1 2.4 1 -1.4 1 2.5 1 -3.3 1 -0.8 1 -0.7 1 7.1 1 0 1 2.3 1 -5.9 1 1.8 1 -2.3 1 2.2 1 -5.7 1 -0.9 1 -10.2 1 -2.2 1 0.6 1 3 1 -9 1 3.5 1 7.6 1 1.7 1 1.1 1 1.6 1 -1.3 1 3.2 1 0.9 1 -6.4 1 4.1 1 -6.5 1 -2.6 1 5.2 1 2.8 1 1.6 1 -2.9 1 2.9 1 0.7 1 4.7 1 -3.7 1 -4.5 1 -1.5 1 5.4 1 5.1 1 -11.7 1 2 1 7.7 1 -0.8 1 -5.8 1 -1.9 1 -1.8 1 -1.2 1 3.4 1 4.3 1 -1.1 1 -6.1 1 2.6 1 1 1 4.4 1 -7.9 1 -1 1 5.5 1 19.2 1 -2.2 1 -6.5 1 1.3 1 -7.6 1 5.4 1 8.4 1 -8.8 1 -6.5 1 1.7 1 1.1 1 1.3 1 -0.6 1 -2.8 1 -3.2 1 4.7 1 -0.2 1 -4.8 1 5.1 1 -0.5 1 4.1 1 -5.1 1 -5.7 1 1.7 1 11.6 1 1.5 1 -1.1 1 -0.5 1 -5.4 1 6.6 1 -2.8 1 0 1 3.9 1 -2.6 1 -6 1 6.4 1 0.5 1 3.5 1 -2.9 1 -1.6 1 -6.4 1 -1.4 1 1 1 5.4 1 -1.7 1 4.8 1 10.2 1 -0.2 1 2.4 1 -10.5 1 -2.8 1 2.7 1 2.9 1 -2.9 1 5.9 1 -7.7 1 3.2 1 -7.3 1 -0.2 1 5.2 1 0.4 1 -0.4 1 1.3 1 3.4 1 0.8 1 8.3 1 -2.1 1 -3.9 1 -2.9 1 11.1 1 -7.4 1 -6.6 1 -3.5 1 -5 1 3.7 1 -4.7 1 1.8 1 8.1 1 -6 1 -1.8 1 7.5 1 -3.6 1 7.2 1 -5.2 1 0.4 1 -1.9 1 -0.1 1 4.3 1 3.7 1 -6.2 1 -8 1 -2.6 1 8.4 1 -4.9 1 -0.7 1 7.7 1 3.8 1 0.9 1 -5.2 1 -4.1 1 6.9 1 -1.9 1 -3.8 1 -4.4 1 2.2 1 -2.4 1 -0.2 1 1.6 1 -5.5 1 -1.9 1 -1.4 1 -4 1 4.8 1 6.3 1 -1 1 -6.5 1 -2.6 1 5.4 1 0.4 1 1.9 1 4.6 1 -3.3 1 3.4 1 -1.4 1 -0.5 1 -5.6 1 0.9 1 1.4 1 -1.3 1 0.1 1 1.1 1 4.2 1 -11.1 1 7.2 1 -2.1 1 -6.5 1 -1.7 1 -2.2 1 6.7 1 1.7 1 -0.7 1 0.3 1 -13.3 1 -2.7 1 3.1 1 4 1 -1.7 1 -4.8 1 4.8 1 3.5 1 -5 1 6.8 1 3.5 1 0.4 1 -2 1 -7.9 1 -8.4 1 1.5 1 3.3 1 4.3 1 4.2 1 -1.3 1 1.8 1 2 1 -8.9 1 4.7 1 3.9 1 3.6 1 2.9 1 -6 1 -8.1 1 3.2 1 -2.6 1 3.2 1 -2.1 1 1.1 1 3.4 1 -1.2 1 2.3 1 0.9 1 0.7 1 -5 1 -4.5 1 -1 1 8.6 1 1.2 1 -7.4 1 -2.4 1 9 1 0.9 1 2 1 -0.7 1 3.7 1 -2.4 1 -1.2 1 2 1 -6.1 1 2.9 1 1.9 1 -0.2 1 1.9 1 -3.4 1 -2.9 1 10.1 1 -6 1 -5.3 1 -4.3 1 4 1 -0.6 1 -2.1 1 9.9 1 0.2 1 -7.4 1 7.3 1 -1.1 1 4.9 1 1.6 1 2.2 1 0.5 1 2.2 1 -5.9 1 -1.8 1 -0.2 1 2 1 8.4 1 -4.1 1 1.8 1 -3.2 1 -0.9 1 2.7 1 -3.3 1 5.2 1 3.5 1 -3.3 1 -1.1 1 -1.1 1 3.7 1 1.6 1 -1.3 1 -6 1 -1.1 1 -2.3 1 4.2 1 2.1 1 -1.3 1 0.8 1 3.8 1 2.2 1 0.8 1 -4.4 1 -1.9 1 -0.2 1 -1.4 1 4.7 1 4.7 1 -8.9 1 -9 1 0.6 1 0.9 1 4.9 1 1.4 1 3.7 1 -5.8 1 -1.5 1 3.2 1 -5.6 1 4.2 1 6.4 1 -1 1 -1.3 1 -6.4 1 -3.4 1 5 1 5.2 1 -4.2 1 -2.2 1 2.7 1 11.1 1 -8.7 1 0 1 0.4 1 4.3 1 -7.4 1 0.5 1 5 1 -3.3 1 7.7 1 4.2 1 -5.4 1 -8.9 1 6 1 5.4 1 6.7 1 0.8 1 -4.5 1 -6.5 1 -3.8 1 -1.8 1 -2.8 1 -0.6 1 -0.1 1 3.5 1 3.8 1 -5.2 1 10.2 1 -0.5 1 0 1 -2.9 1 0.8 1 3.7 1 -5.7 1 -2.9 1 2.4 1 0.8 1 6.3 1 -2.5 1 -0.5 1 -2.7 1 -1.3 1 2 1 -2.7 1 -0.7 1 -10.8 1 5.6 1 2.4 1 -5.4 1 -6.3 1 5.5 1 3.4 1 7.6 1 3.3" fill="none" stroke="#de4830" stroke-width="5.7" stroke-linejoin="round" stroke-linecap="round"/>
<path d="M296.0 923.0l233 0 0.7 -33.9 0.7 -15.3 0.7 -9.7 0.7 -8 0.7 -6.5 0.7 -5.2 0.7 -4.2 0.7 -4.5 0.7 -5.2 0.7 -5.2 0.7 -4.1 0.7 -3.4 0.7 -2.9 0.7 -2.9 0.7 -3 0.7 -3.4 0.7 -4.6 0.7 -5.8 0.7 -6.6 0.7 -7 0.7 -7.3 0.7 -7.2 0.7 -7.6 0.7 -9.3 0.7 -11.7 0.7 -13.5 0.7 -13.6 0.7 -12.9 0.7 -13.4 0.7 -14.9 0.7 -16.3 0.7 -16.3 0.7 -15.6 0.7 -14.9 0.7 -15 0.7 -14.7 0.7 -14.6 0.7 -15.3 0.7 -15.9 0.7 -15.8 0.7 -14.5 0.7 -13.3 0.7 -13.1 0.7 -13.6 0.7 -13.3 0.7 -12.1 0.7 -10.9 0.7 -10.5 0.7 -10.6 0.7 -10.6 0.7 -10.7 0.7 -10.3 0.7 -8.7 0.7 -6.8 0.7 -6.2 0.7 -5.6 0.7 -4.3 0.7 -2.9 0.7 -2.7 0.7 -2.9 0.7 -2.4 0.7 -0.2 0.7 2.5 0.7 4.4 0.7 5.4 0.7 5 0.7 3.7 0.7 3.3 0.7 3.6 0.7 3.6 0.7 2.9 0.7 2.6 0.7 2.2 0.7 1.8 0.7 2.4 0.7 4.2 0.7 5.5 0.7 4.4 0.7 2.7 0.7 2.3 0.7 3 0.7 4.3 0.7 5.2 0.7 4.9 0.7 3.5 0.7 2.1 0.7 1.1 0.7 0.6 0.7 -0.5 0.7 -1.5 0.7 -1.7 0.7 -1.5 0.7 -1.8 0.7 -3.7 0.7 -6.1 0.7 -7.2 0.7 -6.5 0.7 -4.7 0.7 -3.4 0.7 -3.2 0.7 -3.5 0.7 -3.2 0.7 -2.7 0.7 -2.3 0.7 -2.6 0.7 -3.1 0.7 -3.2 0.7 -3.6 0.7 -3.6 0.7 -2.7 0.7 -1 0.7 -0.1 0.7 0 0.7 0.9 0.7 2.9 0.7 3.7 0.7 3.1 0.7 2.3 0.7 2 0.7 1.9 0.7 2.3 0.7 2.9 0.7 4.1 0.7 5.5 0.7 5.9 0.7 4 0.7 1.7 0.7 1 0.7 2.2 0.7 3 0.7 2.7 0.7 2.5 0.7 3 0.7 4.1 0.7 3.9 0.7 2.7 0.7 2 0.7 2.1 0.7 1.9 0.7 0.8 0.7 -0.4 0.7 -0.7 0.7 -0.6 0.7 -0.6 0.7 -1 0.7 -1.3 0.7 -1.7 0.7 -1.5 0.7 -0.5 0.7 -0.8 0.7 -2.3 0.7 -4 0.7 -5.7 0.7 -7.2 0.7 -7 0.7 -4.2 0.7 -1 0.7 0.1 0.7 -0.7 0.7 -1.9 0.7 -2 0.7 -1.6 0.7 -1.3 0.7 -1.3 0.7 -2.1 0.7 -2.8 0.7 -2.8 0.7 -1.8 0.7 -0.1 0.7 0.9 0.7 1 0.7 -0.1 0.7 -1.3 0.7 -2.1 0.7 -2.7 0.7 -3.3 0.7 -2.1 0.7 1.1 0.7 4 0.7 4.4 0.7 3.5 0.7 3.3 0.7 3.8 0.7 3.4 0.7 2.3 0.7 1.9 0.7 2.5 0.7 1.9 0.7 0.2 0.7 -0.1 0.7 2.2 0.7 5 0.7 5.4 0.7 3.7 0.7 2.3 0.7 2.3 0.7 3.1 0.7 3.1 0.7 2.9 0.7 2.7 0.7 2.5 0.7 1.5 0.7 0.8 0.7 0.9 0.7 1.7 0.7 1.7 0.7 1 0.7 -0.2 0.7 -1.2 0.7 -2.4 0.7 -3.4 0.7 -3.8 0.7 -3.3 0.7 -2.7 0.7 -2.3 0.7 -2.6 0.7 -4.2 0.7 -6.2 0.7 -6.5 0.7 -4.5 0.7 -2.4 0.7 -1.1 0.7 -0.7 0.7 -1.1 0.7 -2.5 0.7 -3.2 0.7 -2.7 0.7 -2.2 0.7 -2.4 0.7 -2.8 0.7 -2.7 0.7 -2 0.7 -0.6 0.7 0.5 0.7 1.4 0.7 1.6 0.7 2.1 0.7 2.7 0.7 3 0.7 3 0.7 2.6 0.7 2.5 0.7 2.8 0.7 3 0.7 2.4 0.7 1 0.7 0.4 0.7 1.3 0.7 3.1 0.7 4.6 0.7 5.1 0.7 4.3 0.7 2.3 0.7 0.7 0.7 1 0.7 3.4 0.7 4.5 0.7 2.5 0.7 -0.2 0.7 -1.3 0.7 -1.3 0.7 -1.3 0.7 -1.2 0.7 -1.3 0.7 -1.9 0.7 -2 0.7 -1.6 0.7 -1.9 0.7 -2.7 0.7 -2.7 0.7 -1.9 0.7 -1.5 0.7 -1.6 0.7 -1.7 0.7 -1.5 0.7 -1.6 0.7 -1.5 0.7 -1.1 0.7 -1.4 0.7 -2.1 0.7 -1.8 0.7 -0.4 0.7 0.8 0.7 0.5 0.7 -0.4 0.7 -0.7 0.7 -0.1 0.7 -0.2 0.7 -1.2 0.7 -2.5 0.7 -3.1 0.7 -2.7 0.7 -1.5 0.7 -0.1 0.7 0.8 0.7 0.9 0.7 0.3 0.7 -0.5 0.7 -0.4 0.7 0.7 0.7 1.8 0.7 2.3 0.7 2.3 0.7 2.5 0.7 2.8 0.7 2.1 0.7 0.8 0.7 -0.1 0.7 0.1 0.7 0.8 0.7 0.9 0.7 0.6 0.7 1.2 0.7 2.4 0.7 2.2 0.7 0.3 0.7 -1.5 0.7 -1.9 0.7 -0.4 0.7 1.2 0.7 1.1 0.7 -0.8 0.7 -1.9 0.7 -1.8 0.7 -1.6 0.7 -0.9 0.7 0.8 0.7 1.8 0.7 1.1 0.7 -0.3 0.7 -1.1 0.7 -1.5 0.7 -1.8 0.7 -1.7 0.7 -0.9 0.7 0.4 0.7 0.7 1.1 -2.3 1 -0.1 1 0.1 1 -0.7 1 -0.3 1 -1.4 1 -1.7 1 -0.3 1 -0.1 1 -0.9 1 -0.3 1 -0.5 1 -1.1 1 5.2 1 -2.2 1 -3.1 1 -1.3 1 2.2 1 -3.2 1 -0.8 1 6.7 1 8.5 1 -0.2 1 2.4 1 0.2 1 5.4 1 -2.3 1 -1.9 1 -1.5 1 -0.2 1 -4.5 1 -0.7 1 -1.3 1 -5.9 1 -4.4 1 4.7 1 -6.8 1 -4.1 1 6 1 2.3 1 4.5 1 -1.6 1 -12 1 3.8 1 3.5 1 -2.6 1 8 1 -0.9 1 -3.3 1 2 1 7.4 1 10.1 1 0.3 1 -9.4 1 3.9 1 -4.2 1 2.6 1 -1 1 2.1 1 1.2 1 2.4 1 -2 1 3.7 1 -3 1 -2.3 1 6.4 1 -3.9 1 -4.4 1 -0.2 1 0.2 1 -4.5 1 -3.3 1 0.2 1 -1.3 1 1.9 1 7.5 1 -0.9 1 -0.9 1 -8.3 1 -5.8 1 4.8 1 3.7 1 -2.5 1 0.5 1 -2.3 1 4.1 1 -1 1 2.7 1 3.5 1 -3.3 1 -0.6 1 3.3 1 5.6 1 -0.5 1 4 1 -0.9 1 -0.3 1 -3.4 1 1.3 1 -4.4 1 -8.3 1 9.7 1 0.1 1 -6 1 -5 1 -2.2 1 4.9 1 -3.8 1 -3.2 1 -0.9 1 0 1 8 1 -3.2 1 2.2 1 1.9 1 0.4 1 -0.9 1 2.6 1 -0.9 1 7.6 1 -7.7 1 8.6 1 6.2 1 -7.9 1 7.1 1 2.3 1 -7.4 1 3 1 -5.9 1 0.5 1 -2.5 1 -3.9 1 -1 1 0.9 1 -1.8 1 5.1 1 1.5 1 2 1 -3.5 1 -4.4 1 0.2 1 5.7 1 -13.5 1 0.3 1 13.8 1 -0.8 1 -3 1 1.6 1 -0.2 1 -8.5 1 2.8 1 5.1 1 1.8 1 1.8 1 -2.6 1 -2.4 1 0.4 1 5.1 1 0.1 1 3.4 1 5.2 1 -0.8 1 -6.5 1 5.6 1 -6.6 1 -1.7 1 11.1 1 -5.7 1 -6.1 1 0.6 1 6.4 1 4.9 1 -3.6 1 -8.7 1 -5.6 1 2.5 1 3.6 1 -3.4 1 -6.3 1 5.1 1 2.6 1 -3.4 1 6.2 1 3.3 1 -3.4 1 -6.5 1 1.8 1 2.4 1 1.7 1 4.7 1 -1.3 1 -0.8 1 0.2 1 -3.8 1 -2.9 1 4.6 1 0.9 1 3.7 1 -0.7 1 -0.7 1 3.8 1 -4.4 1 -3.9 1 8.7 1 -0.9 1 -7.3 1 -7 1 2.5 1 7.4 1 -2.6 1 -1.6 1 1.4 1 -3.9 1 0.7 1 6.3 1 -0.4 1 0.6 1 0.3 1 1.6 1 -2 1 -6.2 1 2.3 1 6.2 1 -2.3 1 3.4 1 -6.6 1 -3.6 1 5.3 1 -0.5 1 -1.2 1 -2 1 -3.2 1 7.5 1 -1.4 1 -4.4 1 -1.1 1 8.3 1 1.1 1 2.2 1 -0.2 1 -0.3 1 -5.3 1 -6.2 1 4.5 1 1.2 1 -7.8 1 3.1 1 5.9 1 -5.7 1 6 1 -6.3 1 -3.3 1 3.7 1 1.9 1 2.6 1 -9.7 1 1.3 1 1.1 1 0.8 1 3.9 1 -0.7 1 1.1 1 0.5 1 3 1 -5 1 2.1 1 4.5 1 0.5 1 0.2 1 3.9 1 0.4 1 -0.2 1 -0.6 1 2.7 1 -0.9 1 -5.9 1 1.9 1 -0.4 1 -2.2 1 -7.8 1 -4.4 1 2.7 1 2.8 1 -5.5 1 5.1 1 -0.9 1 0.4 1 -0.1 1 -2.1 1 0.5 1 4.3 1 3.3 1 -3.4 1 -0.7 1 -3.2 1 3.1 1 5.5 1 -0.2 1 -5.7 1 -1.6 1 -2.6 1 -1.3 1 3.9 1 -0.3 1 3.5 1 -11.8 1 -1.4 1 3.6 1 5.3 1 -0.5 1 -5.3 1 -7.3 1 8.4 1 -1.4 1 8.3 1 -3.5 1 -4.9 1 2.1 1 5.1 1 -7.3 1 -7 1 -4.7 1 7.2 1 2 1 6.7 1 -0.2 1 2.2 1 -4.7 1 -0.7 1 6.1 1 -2.6 1 -2.3 1 2.8 1 2.9 1 -3.6 1 6.5 1 -5.1 1 -7.9 1 0.4 1 4.9 1 1.3 1 1.2 1 2.3 1 1.6 1 -2.7 1 -4.5 1 -4.3 1 9.2 1 -3.1 1 -0.2 1 0.8 1 3.9 1 -1.8 1 2 1 -6.4 1 -1.4 1 1.4 1 -0.2 1 -0.3 1 -5.7 1 1.9 1 -2.7 1 -0.9 1 8.7 1 -2.1 1 -4.4 1 0.4 1 3.9 1 -1.4 1 0.1 1 3.2 1 -2.1 1 -3.6 1 8.3 1 -2.2 1 -3.2 1 -9.6 1 -3.3 1 10.4 1 0.4 1 0.3 1 0.7 1 1.7 1 1.3 1 -2.4 1 -7.9 1 0.7 1 6.5 1 6.9 1 -0.5 1 -6.6 1 -1.9 1 5.8 1 2 1 4.6 1 2 1 -2.5 1 -5.9 1 -2.6 1 2.6 1 1.8 1 -2 1 0.6 1 -2.5 1 4.2 1 -1.7 1 -3 1 -0.7 1 3.6 1 4.7 1 6.7 1 -1.7 1 -0.2 1 -6.1 1 8.5 1 -2.3 1 -6.3 1 -5.8 1 4.8 1 7.8 1 -3.4 1 -4.5 1 -5.5 1 2.8 1 1.3 1 -1.7 1 -4.6 1 0.1 1 3.9 1 7.8 1 -13.4 1 8.9 1 1.5 1 -3.6 1 1.9 1 0.2 1 0.3 1 -4.9 1 -1.8 1 15.8 1 -2.8 1 -11.4 1 4.3 1 -4.1 1 -1.1 1 -6.9 1 -0.7 1 7.4 1 -7.5 1 -1.2 1 3.5 1 1.9 1 -5.8 1 2.8 1 0.7 1 -4.7 1 0.5 1 4.6 1 0.8 1 3.7 1 -8.3 1 6.3 1 -0.7 1 -3.6 1 2.9 1 -2.4 1 5.3 1 6.6 1 -2 1 5.9 1 1.9 1 -1.3 1 1.9 1 2.6 1 0.3 1 -2.6 1 1.8 1 2.7 1 -5.8 1 -0.8 1 5.8 1 -0.8 1 -8.6 1 7.7 1 6.4 1 -2.7 1 -5.3 1 -1.4 1 -6.3 1 5.4 1 0.5 1 0.5 1 -2.9 1 1.1 1 -2.3 1 3.9 1 -3.4 1 -9.3 1 0.6 1 9.7 1 4.9 1 1 1 -4.9 1 1.5 1 -1.1 1 -1.1 1 3 1 5.4 1 -1.9 1 5.6 1 -7.6 1 2.9 1 5.1 1 0.8 1 -3.2 1 -6.3 1 4.9 1 6.7 1 -2.1 1 -2.1 1 -1.8 1 -2.9 1 -1.6 1 -1.2 1 5.2 1 -2.7 1 -2 1 -1.7 1 -2.9 1 -3.5 1 4.1 1 -1.1 1 0.2 1 3.7 1 2.6 1 -7.1 1 3.3 1 4.3 1 -8.4 1 2.7 1 -1.1 1 5 1 3.8 1 -3.5 1 2.8 1 0.2 1 0.1 1 -17.7 1 4.8 1 5.6 1 3.7 1 7.1 1 -0.3 1 -5.7 1 -2.1 1 8.2 1 -2.9 1 -4.1 1 2.5 1 1.9 1 -4.4 1 -0.3 1 -8.9 1 8.7 1 7.1 1 -5.1 1 -9.3 1 -3 1 3.4 1 -3.8 1 -1.3 1 -3.4 1 4 1 6.1 1 -3.8 1 -2.6 1 -1.8 1 4 1 2.6 1 -2.9 1 -8.3 1 8.3 1 0.7 1 2.3 1 -0.3 1 9.2 1 4.9 1 -1.6 1 1.9 1 -4.5 1 -3.9 1 -4.9 1 5.1 1 4.6 1 6.1 1 -7 1 2.4 1 2.8 1 -1.7 1 -0.1 1 1.7 1 -6.5 1 1.2 1 2.6 1 5.5 1 -0.1 1 -3.2 1 -3.1 1 -10.4 1 4.1 1 -3.3 1 -3 1 6.9 1 -1.4 1 -2.2 1 -1.6 1 8.1 1 5.5 1 -2.2 1 1.8 1 0.8 1 -4.1 1 -3 1 -1.7 1 -0.3 1 -1 1 0.9 1 -0.4 1 3.6 1 -3.8 1 6 1 -5.7 1 -1 1 2.9 1 -5.6 1 -3.1 1 10.4 1 2.2 1 -9.8 1 5.5 1 -1.9 1 1.2 1 3.3 1 -10.3 1 1 1 6.2 1 -1.6 1 0.1 1 -2.4 1 0.3 1 2.4 1 3.9 1 -0.8 1 4.4 1 4.4 1 -14.3 1 2 1 -1.8 1 -4.1 1 2.3 1 -3.7 1 -1.5 1 6.4 1 5.8 1 -4.8 1 -0.1 1 -3.5 1 -1.9 1 -1.5 1 5.4 1 1.2 1 -8 1 -0.1 1 8.7 1 -2.7 1 -2.1 1 7.8 1 -0.8 1 -0.4 1 1.4 1 2.1 1 9.5 1 -13.2 1 4.1 1 6.7 1 -0.8 1 -6 1 1.1 1 2.3 1 5.6 1 2.5 1 -0.7 1 -3.9 1 3 1 -2.2 1 -3.6 1 0.2 1 3.4 1 -1.6 1 -4.6 1 -2.9 1 1.8 1 7.9 1 -3.6 1 1.2 1 5.7 1 0.4 1 -4 1 -4.8 1 -5.3 1 -0.4 1 0.5 1 0.1 1 -3.2 1 5.1 1 2.3 1 -3.4 1 -7.8 1 -1.2 1 7 1 -5.2 1 8 1 9.6 1 -10.1 1 -5.4 1 6.3 1 -2.7 1 -1 1 -4.3 1 5.7 1 8.9 1 -3.2 1 -0.7 1 4.2 1 3.7 1 3.8 1 0.1 1 -1.6 1 -8.5 1 -1 1 -3.4 1 8.6 1 -6.3 1 -0.5 1 6.2 1 -4.4 1 -7 1 -2 1 0.8 1 7.9 1 6.9 1 -11.1 1 7.6 1 0.4 1 -6.4 1 1.1 1 -0.4 1 -3.5 1 2 1 8 1 -1.7 1 -3.6 1 -0.6 1 4 1 3.1 1 4.4 1 1.9 1 -7.2 1 -5.6 1 1.5 1 -2.7 1 -3.6 1 2.6 1 -1.3 1 2 1 1.4 1 3.7 1 1.1 1 -3.4 1 4.9 1 -4.1 1 -7.4 1 3.8 1 6.4 1 -0.6 1 -7.4 1 0.4 1 -2.6 1 4.2 1 -6.8 1 3 1 9.7 1 1.5 1 -3.3 1 4.3 1 3.8 1 -4.7 1 0 1 -5.3 1 -0.7 1 8.9 1 -5.9 1 -8.1 1 -5.5 1 6.1 1 2.4 1 0.5 1 -4 1 3.2 1 -2.3 1 -3.4 1 1.8 1 -2 1 -1.7 1 2.1 1 5.2 1 -2.8 1 -4.1 1 0.6 1 -0.1 1 0.1 1 0.6 1 -0.4 1 6.1 1 -6.7 1 -0.4 1 -1.1 1 3.6 1 1.6 1 1.7 1 -3.8 1 3.6 1 -2.9 1 7.9 1 -3.3 1 4.3 1 -1.1 1 -8.6 1 7 1 -7.4 1 -8.4 1 7.9 1 4.5 1 3.4 1 -13.2 1 -4.7 1 10.5 1 0.7 1 -1.6 1 4.7 1 6 1 -4.4 1 0.8 1 -5.4 1 -2.2 1 6.1 1 10.6 1 0.7 1 -3.1 1 -3.8 1 2.3 1 0 1 -6.7 1 5.2 1 6.9 1 -9.5 1 1.9 1 -1.8 1 0.4 1 2.9 1 -5 1 2.9 1 -1.6 1 0.9 1 -5.6 1 4.2 1 -4.1 1 -4.2 1 -3.1 1 -2.9 1 8.7 1 -2.4 1 7.5 1 3.2 1 -11.9 1 3.7 1 -0.6 1 3 1 0.5 1 -4.5 1 5.9 1 -1.5 1 3.7 1 -5.3 1 -1.3 1 2.6 1 8.8 1 -10.9 1 -5.8 1 12.2 1 1.8 1 3.7 1 3.2 1 0.9 1 -4.5 1 -0.3 1 2.1 1 -2.1 1 -8.6 1 6.8 1 -7.9 1 3 1 3 1 -6.3 1 -0.1 1 8 1 -0.6 1 -10 1 3.2 1 3.7 1 2.7 1 -3.6 1 -0.3 1 -1.4 1 2.8" fill="none" stroke="#2c4f8f" stroke-width="5.7" stroke-linejoin="round" stroke-linecap="round"/>
<path d="M2162.3 927.8l231.9 0 0 -0.8 0.7 -35.4 0.7 -30.8 0.7 -27.4 0.7 -26 0.7 -24.5 0.7 -21.8 0.7 -23.3 0.7 -29.3 0.7 -45 0.7 -61.7 0.7 -70.2 0.7 -69.6 0.7 -59.5 0.7 -48 0.7 -45 0.7 -40.8 0.7 -34.9 0.7 -28.7 0.7 -26.8 0.7 -21.1 0.7 -9.9 0.7 -4.4 0.7 -3.5 0.7 -2.4 0.7 -1.6 0.7 -0.5 0.7 1 0.7 2.7 0.7 3.4 0.7 3.2 0.7 3 0.7 5.1 0.7 11.1 0.7 15.6 0.7 17.4 0.7 16.8 0.7 17.2 0.7 20.5 0.7 23.2 0.7 24.7 0.7 25.4 0.7 25.7 0.7 26.4 0.7 26.8 0.7 29.7 0.7 32 0.7 32.6 0.7 31.6 0.7 29.2 0.7 25.1 0.7 19.4 0.7 13.7 0.7 13.1 0.7 10.1 0.7 3.8 0.7 -3.9 0.7 -9.6 0.7 -12.9 0.7 -14.5 0.7 -15.1 0.7 -18.6 0.7 -23.7 0.7 -26.2 0.7 -26.9 0.7 -25.9 0.7 -22.8 0.7 -22.4 0.7 -22.4 0.7 -21.1 0.7 -18.9 0.7 -16.5 0.7 -13.8 0.7 -10.6 0.7 -8.9 0.7 -8.9 0.7 -9 0.7 -9.3 0.7 -8.6 0.7 -6.9 0.7 -4.7 0.7 -3.2 0.7 -2.2 0.7 -1.5 0.7 -0.1 0.7 1.2 0.7 2.1 0.7 2.5 0.7 2.8 0.7 3.1 0.7 3.9 0.7 5.5 0.7 7.7 0.7 11.5 0.7 13.3 0.7 13.8 0.7 13.9 0.7 13.5 0.7 12.4 0.7 10.7 0.7 11.1 0.7 11.6 0.7 11.6 0.7 11 0.7 10.2 0.7 9.5 0.7 8.7 0.7 7.8 0.7 6.3 0.7 4.5 0.7 2.9 0.7 1 0.7 -1.7 0.7 -3.9 0.7 -5.3 0.7 -5.8 0.7 -6.1 0.7 -6.4 0.7 -6.5 0.7 -6.2 0.7 -8 0.7 -10 0.7 -11.2 0.7 -11.5 0.7 -11.2 0.7 -9.8 0.7 -8.3 0.7 -6.5 0.7 -5.2 0.7 -5.2 0.7 -5.1 0.7 -5.3 0.7 -5.1 0.7 -4.8 0.7 -4.1 0.7 -3.5 0.7 -3 0.7 -3.2 0.7 -3.4 0.7 -3 0.7 -2 0.7 -0.8 0.7 0.3 0.7 1.4 0.7 2.3 0.7 3.4 0.7 4.6 0.7 5.1 0.7 5.1 0.7 4.7 0.7 4.4 0.7 5.9 0.7 8.5 0.7 10.8 0.7 11.6 0.7 11.4 0.7 10.7 0.7 9.8 0.7 8.5 0.7 7.2 0.7 7.3 0.7 7.9 0.7 8.2 0.7 7.9 0.7 7.3 0.7 6.8 0.7 6 0.7 4.8 0.7 3.6 0.7 2.7 0.7 1.7 0.7 0 0.7 -2.4 0.7 -4.7 0.7 -6.7 0.7 -7.6 0.7 -7.6 0.7 -7.1 0.7 -6.6 0.7 -6.5 0.7 -8.2 0.7 -10.5 0.7 -11.8 0.7 -12 0.7 -11 0.7 -9.5 0.7 -7.7 0.7 -7 0.7 -6.7 0.7 -6.2 0.7 -6.2 0.7 -6 0.7 -5.4 0.7 -4 0.7 -2 0.7 0.3 0.7 1.6 0.7 2.8 0.7 4.2 0.7 5 0.7 5.2 0.7 4.9 0.7 4.7 0.7 4.5 0.7 5.2 0.7 6.4 0.7 7.8 0.7 8.8 0.7 8.7 0.7 7.9 0.7 7.1 0.7 6.6 0.7 6 0.7 6.4 0.7 6.6 0.7 5.8 0.7 4.7 0.7 3.7 0.7 3.2 0.7 2.9 0.7 2.7 0.7 2.1 0.7 1.2 0.7 0.2 0.7 -0.9 0.7 -1.6 0.7 -2 0.7 -2.4 0.7 -2.9 0.7 -3.6 0.7 -4.2 0.7 -4.6 0.7 -4.5 0.7 -4.1 0.7 -4 0.7 -4.3 0.7 -4.6 0.7 -4.8 0.7 -5.4 0.7 -5.7 0.7 -5.3 0.7 -4.5 0.7 -3.8 0.7 -3.3 0.7 -3 0.7 -2.8 0.7 -3.1 0.7 -2.8 0.7 -2.6 0.7 -2.7 0.7 -2.7 0.7 -2.7 0.7 -2.9 0.7 -3 0.7 -2.6 0.7 -2 0.7 -1.7 0.7 -1.3 0.7 -0.9 0.7 -0.4 0.7 0.2 0.7 0.7 0.7 0.6 0.7 0.4 0.7 0.1 0.7 0.6 0.7 1.7 0.7 2.8 0.7 3.5 0.7 3.9 0.7 3.9 0.7 3.8 0.7 3.4 0.7 2.7 0.7 2.4 0.7 3.1 0.7 4.2 0.7 5.1 0.7 5.2 0.7 4.8 0.7 4.5 0.7 4.1 0.7 3.7 0.7 3.4 0.7 3.3 0.7 2.9 0.7 2.7 0.7 2 0.7 1.6 0.7 1.6 0.7 1.5 0.7 1.3 0.7 1.1 0.7 1.4 0.7 1.8 0.7 1.6 0.7 0.3 0.7 -1.7 0.7 -2.9 0.7 -2.7 0.7 -2.9 0.7 -3.8 0.7 -5 0.7 -5.4 0.7 -4.7 0.7 -4 0.7 -4.8 0.7 -5.7 0.7 -6.2 0.7 -6.4 0.7 -5.9 0.7 -4.3 0.7 -3 0.7 -2 0.7 -1.1 0.7 0.2 0.7 0.7 0.7 0.8 0.7 0.9 0.7 1.4 0.7 1.8 0.7 2.1 0.7 2.4 0.7 2.6 0.7 2.8 0.7 2.8 0.7 2.8 0.7 2.4 0.7 2.1 0.7 1.9 0.7 2.3 0.7 2.9 0.7 3.9 0.7 4.4 0.7 4.1 0.7 3.4 0.7 3 0.7 2.2 0.7 0.9 0.7 -0.1 0.7 -0.2 0.7 -0.4 0.7 -0.8 0.7 -1.5 0.7 -1.9 0.7 -1.6 0.7 -1.5 0.7 -1.6 0.7 -2 0.7 -2.1 0.7 -2 0.7 -2.2 0.7 -2.4 0.7 -2.2 0.7 -2.5 0.7 -2.7 0.7 -2.6 0.7 -2.3 0.7 -1.9 0.7 -1.2 0.7 -0.6 0.7 -0.4 0.7 -0.2 0.7 0.2 0.7 0.8 0.7 1.4 0.7 1.5 0.7 1.5 0.7 1.3 0.7 1.5 0.7 1.6 0.7 1.6 0.7 1.5 0.7 1.5 0.7 1.9 0.7 2.1 0.7 2 0.7 2 0.7 1.7 0.7 2 0.7 2.5 0.7 2.6 0.7 1.9 0.7 0.9 0.7 0.4 0.7 0.6 0.7 1.5 0.7 2.2 0.7 2 0.7 1.4 0.7 1.1 0.7 1.1 0.7 0.9 0.7 0.6 0.7 0.9 0.7 1.6 0.7 2 0.7 1.6 0.7 0.8 0.7 0.1 0.7 0 0.7 0 0.7 -0.9 0.7 -2 0.7 -2.6 0.7 -2.5 0.7 -2.5 0.7 -3.2 0.7 -3.9 0.7 -4 0.7 -3.6 0.7 -3 0.7 -2.6 0.7 -2 0.7 -1.6 0.7 -1.4 0.7 -1.5 0.7 -1.6 0.7 -1.7 0.7 -1.7 0.7 -1.9 0.7 -1.8 0.7 -1.7 0.7 -1.7 0.7 -1.5 1.2 -1.4 1 0.4 1 0.4 1 1 1 -0.3 1 1.9 1 2.1 1 1.8 1 1.7 1 2.9 1 -0.3 1 -2.5 1 1.5 1 4.8 1 0.5 1 0.1 1 1.4 1 -2.8 1 1.5 1 8 1 9.4 1 8.3 1 -4.8 1 -2.4 1 -1.5 1 -1.7 1 -4.4 1 -1.5 1 7 1 0.7 1 -4.7 1 -6.3 1 -7.2 1 -2.4 1 6.7 1 1.8 1 -0.8 1 -11.2 1 3.7 1 -1.6 1 1.5 1 -1.9 1 4.6 1 -4.9 1 0 1 2.7 1 -1.7 1 -5.8 1 3.7 1 6.6 1 7.4 1 -2.4 1 -2.2 1 0.9 1 4.9 1 1.4 1 -4.9 1 -2.7 1 9.3 1 -1.2 1 -2.2 1 0.1 1 1.1 1 1.6 1 0.5 1 -3.2 1 -0.1 1 3 1 -2.7 1 0.1 1 -3 1 -4.8 1 -9.9 1 0.5 1 5.1 1 -3.6 1 -1.1 1 1.9 1 7.6 1 -5.2 1 -4.6 1 5.4 1 -10 1 -2.8 1 -2.3 1 -4.1 1 6.5 1 1.6 1 -3.1 1 1.1 1 6.2 1 -0.2 1 -0.7 1 -1.8 1 9.3 1 -1.6 1 -2.7 1 3.6 1 4.9 1 -6.5 1 -1.6 1 5.2 1 2.2 1 2.1 1 4.4 1 1.4 1 -0.1 1 -0.4 1 -0.9 1 -7.3 1 -3.1 1 1.9 1 3.8 1 -8.1 1 0.3 1 1.9 1 -4.7 1 2.7 1 -0.5 1 -2.7 1 -2.6 1 1.2 1 0.6 1 -3 1 4.1 1 -7 1 3.9 1 2.1 1 -8.3 1 7.7 1 3.1 1 -1.3 1 1.9 1 1.6 1 1.8 1 -10 1 5.1 1 -2.2 1 7.7 1 4.6 1 1.1 1 1.2 1 2.5 1 -11.7 1 -2 1 12.5 1 5.7 1 -7.7 1 -4.8 1 -2.9 1 -1.9 1 -0.4 1 -1.8 1 2 1 -4 1 0.6 1 -3.1 1 -3.2 1 4.2 1 3.5 1 -4.7 1 5.7 1 4.1 1 -4 1 -9.9 1 1.4 1 0.7 1 11.8 1 1.5 1 -5 1 1.3 1 -4.1 1 7.5 1 1.4 1 -0.2 1 -1 1 -3.1 1 4.7 1 5.7 1 6.7 1 -9.1 1 -3.1 1 9.7 1 -3.4 1 1.4 1 -4.4 1 8.9 1 -8.1 1 -4.7 1 -4.4 1 4.4 1 8.3 1 -2.2 1 -1.1 1 -4.2 1 -5.8 1 -4.5 1 -5.1 1 -1.2 1 1.5 1 -3.5 1 1.4 1 6.6 1 -0.1 1 1.2 1 -5.3 1 5.1 1 -1.7 1 3 1 7.5 1 0.5 1 -8.6 1 1.7 1 12.5 1 -2.5 1 -4.1 1 1.5 1 -0.4 1 -7 1 2.8 1 -0.9 1 3.4 1 5.2 1 -5.6 1 -7.1 1 5.9 1 -6.1 1 6.4 1 3.8 1 0.7 1 -12.8 1 -3 1 3.8 1 3.3 1 -4.5 1 -0.5 1 -2.9 1 1.9 1 -6.7 1 6.8 1 5.1 1 -3.3 1 2.3 1 -1.1 1 -0.5 1 -0.7 1 -2.7 1 8.8 1 1.2 1 1.7 1 -8.3 1 0.6 1 4.3 1 -4.8 1 2.3 1 -4.6 1 6.5 1 -2.7 1 -1 1 1.9 1 -1.6 1 3.9 1 -1.3 1 2.7 1 0.6 1 6.4 1 0.9 1 -7.3 1 -2.4 1 1.9 1 -0.3 1 -4.9 1 3.7 1 -7.5 1 -0.8 1 -4.2 1 1.9 1 1.5 1 5.3 1 -2.2 1 -6.4 1 6.9 1 4 1 -6.6 1 1.5 1 0.2 1 -1.3 1 2.8 1 -4.6 1 4.7 1 -1.2 1 -6.4 1 6.7 1 1.9 1 -2.2 1 -2.2 1 2.9 1 -3 1 1.6 1 4.7 1 -2.6 1 -5.7 1 1.9 1 3.6 1 5.3 1 -2.4 1 -2 1 3.8 1 3.8 1 -6.1 1 4.4 1 0.3 1 -7.4 1 0 1 -2.8 1 -8.1 1 6.9 1 0.5 1 0.1 1 0.1 1 1.3 1 -8.2 1 1.4 1 2.8 1 0.6 1 -3.4 1 11.6 1 -4.5 1 0.2 1 2.2 1 3.2 1 -9.7 1 1.6 1 -1.3 1 6 1 12.5 1 -3.5 1 3.2 1 6.5 1 -3.1 1 1.7 1 -2 1 -0.1 1 -1.7 1 -9.5 1 3.5 1 3.1 1 0.3 1 0.5 1 -1.7 1 -0.2 1 5.7 1 -3.7 1 -8.3 1 3.7 1 -8 1 -0.9 1 -0.7 1 -2.7 1 4.2 1 -0.6 1 -5 1 -3.4 1 6.1 1 7.2 1 -1.2 1 -3.2 1 5 1 -3.4 1 8.3 1 3.1 1 -2.7 1 -7 1 0.6 1 0.4 1 -0.8 1 2.8 1 -0.3 1 0.9 1 3.8 1 -8 1 -6.6 1 10 1 9 1 -3.6 1 -5.1 1 1.5 1 6.1 1 -1.9 1 -6.9 1 -0.8 1 5.1 1 3.5 1 -5.6 1 -6.6 1 3.5 1 3.1 1 -4.5 1 -2.1 1 -1.4 1 -2 1 2.6 1 3.1 1 -4 1 -1.8 1 4.4 1 5 1 -1.6 1 -0.6 1 -2.3 1 2.7 1 -5.6 1 7.3 1 1.1 1 3.1 1 -2 1 -2.7 1 -2.4 1 3.3 1 1 1 2.1 1 -8.1 1 0.6 1 1.6 1 3.7 1 6.4 1 -1.7 1 2.2 1 7.2 1 -3.5 1 -8 1 3.7 1 -3.4 1 -0.4 1 1.5 1 -0.7 1 4.9 1 -1.4 1 -10.2 1 -0.6 1 1.1 1 -3.9 1 -2.2 1 4.4 1 -0.6 1 -3.5 1 7.5 1 -2 1 -0.6 1 4.1 1 6.8 1 5.4 1 -1.7 1 -7.1 1 -5.7 1 4.4 1 2.6 1 0.1 1 -10.5 1 3.3 1 3.1 1 3.5 1 7.2 1 -9.9 1 -4.6 1 4.2 1 2.9 1 -0.1 1 -4.7 1 6.1 1 2.4 1 -2.4 1 2.7 1 -0.7 1 -3.9 1 -2 1 2.5 1 1.2 1 -0.4 1 1.2 1 -3.5 1 -5.9 1 -1.2 1 3.8 1 1.3 1 7.8 1 0.6 1 -7 1 4 1 3.7 1 7.8 1 -7.3 1 0.3 1 -2 1 3.5 1 -6.7 1 2.3 1 -0.4 1 -1.1 1 1.2 1 5 1 -5.8 1 -0.7 1 5.7 1 0.6 1 -5 1 -2.4 1 -3.7 1 6.6 1 0.5 1 -5.1 1 1.9 1 2.3 1 2.1 1 1 1 1 1 -7.1 1 -4.9 1 2.6 1 -3.3 1 7 1 -4.1 1 -1.8 1 -2.6 1 8.5 1 1.5 1 2.1 1 4.2 1 -2 1 9.2 1 -2.1 1 -5.9 1 -5.8 1 4 1 -6.7 1 -1.6 1 2.6 1 2.4 1 7.1 1 0.6 1 -9.4 1 0.8 1 0.7 1 1.5 1 3 1 -5 1 -3.3 1 -2.2 1 -0.6 1 3 1 7.6 1 -1.4 1 0.5 1 -2.7 1 2.5 1 3.8 1 -1.4 1 -1.1 1 -7.7 1 1.8 1 4.3 1 -3.9 1 2 1 -2.5 1 3 1 4.2 1 4.2 1 -11.5 1 -1.2 1 -2.3 1 3.4 1 4.9 1 -1.4 1 -1.9 1 4.5 1 -5.2 1 5.1 1 1.9 1 2 1 -9.2 1 -0.8 1 -2 1 6.3 1 0.7 1 -2.6 1 1 1 0.9 1 1 1 10 1 0.9 1 -4.6 1 0 1 -5 1 -3.1 1 -12.9 1 0.6 1 3.6 1 1.5 1 -2.4 1 2.9 1 5.2 1 3 1 -3.7 1 -4.7 1 4.2 1 7.1 1 -3.9 1 -3.1 1 1.6 1 -2.2 1 4.4 1 2.1 1 -7.6 1 10.5 1 -0.1 1 -3.2 1 3.7 1 0.7 1 -2.5 1 9.3 1 -1.1 1 -5.8 1 -9 1 5.7 1 3.4 1 1.7 1 -0.5 1 -1.5 1 1.6 1 0.6 1 -6 1 2.9 1 -7.2 1 -0.3 1 1.7 1 -2.6 1 -2.3 1 -1.7 1 10.2 1 -10.6 1 0.7 1 2.1 1 -1.5 1 6 1 -2.5 1 -4.2 1 5.5 1 -1.2 1 8.2 1 -4 1 0.2 1 -2.8 1 -3.1 1 5.7 1 2.2 1 -3.9 1 2.1 1 -5.5 1 4.3 1 8.4 1 -2 1 0.6 1 1.3 1 3.4 1 2.6 1 -4.8 1 1.2 1 -1.5 1 -5.1 1 -3.7 1 1.4 1 5 1 -3 1 -3.2 1 -5.8 1 -4 1 -1.9 1 -1.7 1 5 1 -2.5 1 0.9 1 2.9 1 5.1 1 3.4 1 -2.4 1 0.4 1 -0.1 1 0.6 1 -5 1 -4.2 1 4.2 1 1.2 1 -0.6 1 -1.8 1 -0.3 1 5.7 1 -1.7 1 3.2 1 -6.3 1 9.5 1 -0.8 1 -3.5 1 -6.2 1 -0.1 1 2.3 1 0.3 1 5.9 1 -3 1 5.1 1 -5.7 1 -4.8 1 -1.4 1 -5 1 -0.7 1 3.5 1 -3.8 1 7.5 1 1.9 1 -7.1 1 -0.7 1 -7.6 1 6 1 6.7 1 0.7 1 -3.9 1 2.4 1 -10.5 1 3.4 1 -2.8 1 3.8 1 3.4 1 2.7 1 0.1 1 -5 1 5 1 -0.7 1 2 1 -3.6 1 -1.3 1 2.9 1 0.1 1 -2.1 1 2.7 1 -0.7 1 -5.3 1 1.1 1 5 1 -4.8 1 -1.3 1 3.4 1 -2.1 1 3.1 1 3.6 1 -1.1 1 -3.7 1 0.6 1 -1.3 1 2.4 1 2.5 1 -1.9 1 -1.9 1 -3.2 1 -8.7 1 -0.6 1 1.8 1 -2.1 1 4.5 1 1 1 1.6 1 5.4 1 3.4 1 0.7 1 5.5 1 4.8 1 -0.7 1 -9.9 1 1.3 1 8.6 1 -4.9 1 -5.6 1 0.9 1 4.5 1 -3.1 1 -1.6 1 -1.5 1 1.3 1 -1.9 1 7.2 1 -3.7 1 -0.4 1 -6.2 1 -0.5 1 1.1 1 -5.7 1 -4.5 1 1.5 1 7.5 1 1.9 1 -4.8 1 2.6 1 0.9 1 -3.8 1 2.9 1 4 1 -6.3 1 -4.8 1 13 1 5.9 1 -5.9 1 7.5 1 -4 1 -5.6 1 -0.5 1 1.8 1 -3.6 1 -1.1 1 -1.2 1 7 1 6.7 1 1.2 1 6.7 1 -4.4 1 -2.5 1 7.3 1 -4.2 1 -6.1 1 0.8 1 -0.4 1 0.8 1 -3.4 1 -1.4 1 5.2 1 6.6 1 -2 1 -1.4 1 6 1 -6.7 1 -0.8 1 -2.3 1 -13.5 1 -0.3 1 7.5 1 1.2 1 0.7 1 -0.2 1 -3 1 2.9 1 -6.4 1 -2.1 1 2.3 1 3.5 1 -3.3 1 4.6 1 1 1 -0.1 1 0.7 1 2.7 1 -12.5 1 3.1 1 2.3 1 -0.3 1 -0.1 1 3.1 1 3.4 1 -1.4 1 5.5 1 -7.4 1 -6 1 7.3 1 8.9 1 -0.6 1 1.1" fill="none" stroke="#41733d" stroke-width="5.7" stroke-linejoin="round" stroke-linecap="round"/>
<path d="M2162.3 919.0l231.9 0 0.7 -28.3 0.7 -2.4 0.7 -0.7 0.7 -0.8 0.7 -1.8 0.7 -1.8 0.7 0.4 0.7 3.5 0.7 3.8 0.7 0.8 0.7 -2 0.7 -2.6 0.7 -2 0.7 -2.1 0.7 -3.1 0.7 -3.2 0.7 -2.1 0.7 -1 0.7 -1 0.7 -1.8 0.7 -3 0.7 -3.9 0.7 -4.1 0.7 -4.2 0.7 -3.7 0.7 -2.2 0.7 -0.9 0.7 -1.1 0.7 -2.3 0.7 -2.8 0.7 -2.6 0.7 -2 0.7 -1.1 0.7 -0.5 0.7 -0.9 0.7 -2.1 0.7 -3.1 0.7 -3.6 0.7 -3 0.7 -1.7 0.7 -0.5 0.7 -0.1 0.7 0 0.7 0.3 0.7 -0.2 0.7 -1.9 0.7 -3.6 0.7 -4 0.7 -3.4 0.7 -2 0.7 -1 0.7 -1.2 0.7 -1.8 0.7 -1.6 0.7 -1.1 0.7 -0.8 0.7 -0.1 0.7 0.1 0.7 -1 0.7 -2.6 0.7 -3.4 0.7 -3.6 0.7 -3.6 0.7 -2.9 0.7 -2 0.7 -1.4 0.7 -1.6 0.7 -1.9 0.7 -1.7 0.7 -1.9 0.7 -3.2 0.7 -4.6 0.7 -4.7 0.7 -3.5 0.7 -2 0.7 -1.4 0.7 -2.2 0.7 -3.4 0.7 -3.7 0.7 -3.6 0.7 -4.3 0.7 -6 0.7 -7.1 0.7 -6.3 0.7 -5.6 0.7 -5.8 0.7 -9.5 0.7 -14.7 0.7 -14.2 0.7 -7.3 0.7 -3.3 0.7 -2.4 0.7 -2.8 0.7 -2.8 0.7 -1.4 0.7 -0.7 0.7 -2.3 0.7 -4.5 0.7 -3.4 0.7 0.7 0.7 3.7 0.7 3.3 0.7 0.4 0.7 -2.4 0.7 -3.2 0.7 -2.6 0.7 -2 0.7 -1.7 0.7 -1.6 0.7 -2.5 0.7 -3.4 0.7 -3.1 0.7 -2.1 0.7 -1.9 0.7 -1.9 0.7 -0.7 0.7 0.3 0.7 -0.3 0.7 -2.4 0.7 -5.1 0.7 -7.5 0.7 -8.4 0.7 -7 0.7 -4.8 0.7 -3.7 0.7 -3.5 0.7 -3.9 0.7 -4.7 0.7 -5 0.7 -4.1 0.7 -2.5 0.7 -2.2 0.7 -3.3 0.7 -4.6 0.7 -5 0.7 -5.2 0.7 -4.9 0.7 -5.1 0.7 -6.1 0.7 -6.8 0.7 -5.7 0.7 -3.1 0.7 -0.8 0.7 -0.1 0.7 -0.7 0.7 -0.8 0.7 -0.3 0.7 -0.1 0.7 -0.8 0.7 -1.8 0.7 -1.9 0.7 -0.9 0.7 -0.2 0.7 -1.1 0.7 -2 0.7 -1.5 0.7 -0.5 0.7 -0.3 0.7 -1.6 0.7 -2.7 0.7 -3.1 0.7 -2.9 0.7 -2.9 0.7 -2.7 0.7 -2.3 0.7 -1.6 0.7 -1.4 0.7 -2.2 0.7 -3.7 0.7 -4.8 0.7 -4.2 0.7 -2.1 0.7 -0.6 0.7 -0.3 0.7 -1.1 0.7 -2.4 0.7 -3.3 0.7 -3.3 0.7 -2.4 0.7 -2 0.7 -2.8 0.7 -2.7 0.7 -0.9 0.7 1.3 0.7 0.8 0.7 -1.4 0.7 -2.4 0.7 -1 0.7 0.4 0.7 0 0.7 -1.3 0.7 -2.2 0.7 -2.8 0.7 -3.1 0.7 -2.2 0.7 0.5 0.7 2.4 0.7 2.1 0.7 0.1 0.7 -1.8 0.7 -2.3 0.7 -2.8 0.7 -2.6 0.7 -1 0.7 0.5 0.7 0 0.7 -1.6 0.7 -1.4 0.7 0 0.7 0.7 0.7 0.3 0.7 0.3 0.7 0.7 0.7 0.9 0.7 0.3 0.7 -0.5 0.7 -1 0.7 -1.5 0.7 -1.7 0.7 -1.2 0.7 -1 0.7 -0.2 0.7 1.2 0.7 2.5 0.7 2.8 0.7 2.2 0.7 0.8 0.7 -0.5 0.7 -0.8 0.7 -1.6 0.7 -3.1 0.7 -3.8 0.7 -2.8 0.7 -1.2 0.7 0.5 0.7 1.7 0.7 1.7 0.7 0.8 0.7 -0.4 0.7 -1.2 0.7 -1.2 0.7 -0.9 0.7 -0.4 0.7 0.4 0.7 1.3 0.7 1.6 0.7 1.3 0.7 0.2 0.7 -1.8 0.7 -2.7 0.7 -1.5 0.7 0.5 0.7 1 0.7 0.1 0.7 -0.5 0.7 0.4 0.7 1.7 0.7 1.3 1.2 -4.4 1 0.1 1 -0.4 1 -0.5 1 -0.6 1 -1.3 1 -0.7 1 0.5 1 0.1 1 -0.7 1 -3.4 1 1.7 1 -2.8 1 6.7 1 4.5 1 -10.4 1 4.3 1 3.5 1 -2.4 1 4.7 1 -7.9 1 2.6 1 7 1 2.8 1 -8.8 1 -5 1 6.5 1 4 1 -5.5 1 -6.7 1 0.9 1 14.7 1 -7 1 -9.7 1 0.8 1 12.3 1 1.9 1 -6 1 -1.9 1 4.1 1 0.2 1 -5.1 1 -6.6 1 5.7 1 5.8 1 -12 1 -2 1 0.8 1 3.1 1 9.5 1 -2 1 -7.3 1 -0.3 1 4.6 1 0.4 1 4.1 1 -1 1 -3.8 1 10.1 1 -4.1 1 6.9 1 -1.6 1 -3.5 1 -5.9 1 5.7 1 7.2 1 -2.9 1 -11.2 1 -8.2 1 6.1 1 -4.4 1 0.8 1 -0.1 1 8.2 1 -2.5 1 2.4 1 -0.1 1 -0.9 1 3.9 1 -1.2 1 -1.9 1 -2 1 1.8 1 -3.5 1 3.8 1 -3.5 1 -10.4 1 4.9 1 8.8 1 12 1 -0.5 1 -4.3 1 5.2 1 -3.5 1 5.1 1 -5.6 1 -5.8 1 -3.7 1 4.6 1 3.7 1 -1 1 7.7 1 -12.2 1 2.1 1 -1.1 1 -4.7 1 -3.3 1 -1.2 1 5.4 1 1.2 1 -3.8 1 -2.5 1 -0.5 1 3.8 1 -3.4 1 5.5 1 9.5 1 -8.4 1 0.2 1 5.4 1 -1.1 1 -2.5 1 2 1 -1.2 1 -1 1 -2.9 1 3.1 1 -1.5 1 -1.6 1 0.4 1 -1.3 1 -1.3 1 1.3 1 -3.4 1 -5.9 1 5.2 1 3.8 1 1.9 1 1.3 1 2.2 1 -0.7 1 -3.6 1 -7.5 1 -0.6 1 -10.7 1 4.3 1 11.2 1 -3.7 1 -0.3 1 3.2 1 1.4 1 -1.6 1 -0.1 1 -2.7 1 6.9 1 4.2 1 -0.1 1 -4 1 -4.1 1 -1 1 -2.5 1 -1 1 5.9 1 0.1 1 7.9 1 -4.9 1 -1.8 1 -10.5 1 2.7 1 5 1 0.4 1 -1.4 1 -0.7 1 -4.8 1 -1.1 1 0.6 1 -0.9 1 6.9 1 -5.5 1 -0.1 1 6.2 1 8.2 1 -1.8 1 0.5 1 0.7 1 4.1 1 -5.4 1 -10.3 1 -1.2 1 4.6 1 0.2 1 -2.8 1 3 1 2.2 1 -5.1 1 4.9 1 -2.9 1 -15.2 1 6.4 1 7.1 1 -1.8 1 0.7 1 3.6 1 -0.5 1 -7 1 -4.6 1 11.8 1 4.6 1 -2.4 1 -2 1 -0.5 1 -2.7 1 -3.7 1 3.8 1 2.4 1 -2.5 1 3.4 1 6 1 3.7 1 -2.5 1 2.2 1 -7.2 1 -1.3 1 4 1 -5.4 1 -4 1 -3.3 1 2 1 -2.1 1 -4.7 1 0.9 1 7.7 1 2.9 1 -4.4 1 -1.7 1 -2.5 1 -12.2 1 11.5 1 10 1 -0.2 1 -5.2 1 -0.7 1 -4.2 1 2.8 1 5.5 1 0.3 1 9.5 1 0.1 1 -2.8 1 -2 1 -3.2 1 -0.4 1 -4.9 1 7.7 1 2.2 1 -1 1 -2.6 1 3.6 1 -5.2 1 -2.8 1 -3.7 1 -2.3 1 -3.8 1 2.9 1 1.9 1 0.2 1 -2.9 1 -0.9 1 3.2 1 4.6 1 4.3 1 -5.2 1 2.2 1 -2.1 1 -1.9 1 0.4 1 9.8 1 -4.2 1 -1.3 1 2.1 1 -4.8 1 1.1 1 4.2 1 -1.9 1 5.7 1 5.4 1 -7.2 1 2.3 1 0.6 1 -8 1 2.6 1 -2.5 1 -6.1 1 3.8 1 3.7 1 0.1 1 -3.2 1 3.8 1 -3.2 1 -2.4 1 -2.7 1 2.2 1 4.5 1 1.3 1 4.3 1 -2.1 1 0.2 1 5.3 1 -8.3 1 1.4 1 4 1 -1.7 1 2.8 1 0.3 1 -4.4 1 10.1 1 -3 1 2.2 1 5.3 1 -5.1 1 -1 1 0.4 1 -4.1 1 2.2 1 -2.5 1 -3.6 1 -1.7 1 1.7 1 -8.4 1 1.9 1 0.7 1 5.6 1 6 1 -4.6 1 -0.8 1 -5.7 1 6.1 1 -4.7 1 1.4 1 2.2 1 -1.1 1 7.1 1 2.3 1 -3.6 1 -9.5 1 -2 1 8.3 1 7.6 1 -10.1 1 3.3 1 10.8 1 0.4 1 -0.2 1 -2.2 1 0 1 -1.3 1 -4.9 1 -8 1 4.6 1 3 1 -7.1 1 2 1 -3.1 1 -0.9 1 5.7 1 -3.1 1 -4.6 1 1.9 1 9.5 1 -1.3 1 -3.7 1 4.3 1 0.2 1 3.2 1 -9.2 1 -5.3 1 -0.9 1 1.8 1 1.4 1 -0.2 1 -0.3 1 -0.1 1 7.4 1 1.6 1 -5.6 1 6.9 1 -0.7 1 -4.4 1 -11.3 1 -5.2 1 2.3 1 -11.6 1 2.8 1 0.6 1 -0.6 1 -0.1 1 2.9 1 1.9 1 1.4 1 -3.1 1 2.5 1 2.6 1 -1.7 1 -2.6 1 4.3 1 7.8 1 1.9 1 2.7 1 3.8 1 5.3 1 3.8 1 10.5 1 -4.6 1 -4.2 1 -1.3 1 -4.7 1 1.6 1 3.6 1 1.3 1 -6 1 -3 1 1.4 1 -2.1 1 -0.5 1 3.4 1 1.4 1 -5 1 5.1 1 -6.3 1 -5.6 1 5.8 1 1 1 -1.2 1 -6 1 6.4 1 0.9 1 -7.9 1 -0.2 1 8.5 1 6.4 1 -3.4 1 -8.5 1 7.1 1 -6.3 1 2.1 1 3 1 7.2 1 1.4 1 -3.4 1 0.3 1 -3.1 1 4.2 1 4.5 1 -5.5 1 -4 1 2.7 1 -6.6 1 -1.7 1 -1.3 1 -2.9 1 -4.1 1 0.1 1 -0.4 1 -1.1 1 -5 1 6 1 4.3 1 6.9 1 -1 1 -9.7 1 1.7 1 8.1 1 0 1 -3.2 1 -1.3 1 0.9 1 -1.2 1 -2.3 1 5.9 1 3.2 1 -5.2 1 -1.8 1 -6.8 1 1.8 1 1.2 1 8.7 1 1.1 1 -8 1 -1.3 1 -1.6 1 0.3 1 -1.1 1 6.7 1 -3.6 1 -1.7 1 1.4 1 4.9 1 6.1 1 -2.4 1 -2.5 1 -3.8 1 -1 1 4.7 1 3.7 1 0.9 1 -4.8 1 -4.7 1 2 1 3.4 1 1.9 1 0.7 1 3.2 1 -0.3 1 1 1 1.7 1 -1.6 1 1.5 1 -5.7 1 -1.3 1 4.6 1 -4.1 1 1.7 1 -12.2 1 5.3 1 5.1 1 6 1 -4.8 1 -6.5 1 -0.1 1 -3.5 1 0.2 1 4.3 1 1.8 1 2.2 1 -12.5 1 7.9 1 8.2 1 4 1 -2.4 1 -0.1 1 4 1 6.7 1 -9 1 -10 1 -0.6 1 3.3 1 -2 1 4.6 1 -0.9 1 -1.1 1 -0.2 1 -5.4 1 0.9 1 2.1 1 1 1 0.3 1 1.7 1 3.9 1 -10.2 1 6.7 1 -1.5 1 -4.8 1 1.7 1 -1.3 1 1.4 1 3 1 1.1 1 -0.6 1 0.1 1 -6.5 1 6.3 1 -3 1 -3.1 1 7.6 1 -0.3 1 -0.6 1 1.5 1 -1.3 1 -2.5 1 5.2 1 1.5 1 -3.4 1 -2.2 1 -6.2 1 9.2 1 -4.5 1 -1.7 1 7.2 1 3.3 1 -1.4 1 1 1 -2.4 1 0.1 1 4.4 1 -11.3 1 2.4 1 6.1 1 3.9 1 -2.7 1 -4.2 1 -1.2 1 1.3 1 -2.8 1 1.5 1 0.1 1 -4.6 1 0.2 1 2.1 1 2.8 1 0.9 1 -8.4 1 -3.7 1 8.5 1 -3.7 1 6.4 1 -3.9 1 -0.8 1 0.9 1 -2.1 1 4.5 1 -3.2 1 -10.9 1 4.8 1 -1.8 1 4.7 1 0.9 1 -4.8 1 1.5 1 1.1 1 2.5 1 0 1 0.2 1 7 1 -0.2 1 -6.8 1 3.1 1 -0.3 1 0.1 1 -6.6 1 7.3 1 7.7 1 -9.6 1 4 1 7.5 1 -2.5 1 0.4 1 -5.1 1 -5.5 1 1.8 1 5.1 1 -2.5 1 1.5 1 -2.1 1 -5.4 1 -1.8 1 10.4 1 -5.8 1 -0.8 1 3.9 1 -0.3 1 -0.6 1 2.9 1 0.3 1 -3.9 1 -1.5 1 4.9 1 -3.4 1 -3.2 1 1.6 1 7.1 1 3.9 1 -6.9 1 -0.5 1 4.9 1 1.8 1 0.6 1 -5.2 1 -3.6 1 4 1 -6 1 -1 1 1.5 1 3.5 1 -3.4 1 4.6 1 10.5 1 -0.7 1 -1.1 1 0.6 1 0.8 1 -9.1 1 1.1 1 3.1 1 -2.8 1 1.1 1 -2 1 1.8 1 0.4 1 -0.3 1 -2 1 -4.9 1 -8.9 1 6.8 1 1.9 1 0.2 1 -0.5 1 5.9 1 -0.4 1 -1.8 1 1.6 1 0.3 1 -4.5 1 4.3 1 -1.1 1 -0.5 1 -4.7 1 -1.9 1 -2.4 1 1.3 1 3.7 1 0.2 1 -0.3 1 -4.1 1 6 1 6.1 1 -3.4 1 0.2 1 -2.1 1 3.3 1 -2.2 1 0.7 1 2.2 1 6.2 1 -4.8 1 4.2 1 -7.5 1 4 1 2.5 1 -3.4 1 3.7 1 0.4 1 -7.2 1 -3.2 1 -4.2 1 -5.1 1 2.6 1 3.6 1 0.7 1 -3.9 1 -2.8 1 0.1 1 0.4 1 3.7 1 -3.9 1 -8.5 1 6.9 1 2.8 1 -7.6 1 7.7 1 1.8 1 2.8 1 -4.3 1 -0.3 1 0.5 1 1.9 1 1.6 1 -3.3 1 -0.4 1 -4.3 1 0.7 1 3.1 1 3.3 1 2.1 1 2.1 1 -8.1 1 -0.8 1 2.4 1 2.2 1 -5 1 -4.5 1 3 1 -5 1 0.3 1 5.9 1 -0.5 1 -4.9 1 9.8 1 -1.1 1 -4.1 1 -12.8 1 4.2 1 1.1 1 -4.7 1 -2.5 1 0.5 1 0.4 1 -1.1 1 -4.5 1 4.2 1 3.8 1 10.7 1 -5.5 1 -4.2 1 0.6 1 -3.1 1 6.6 1 6.4 1 2.7 1 2.1 1 -8.7 1 -3 1 4.8 1 2.5 1 0.5 1 3.1 1 -4.8 1 0.9 1 2.6 1 -1.1 1 4.3 1 2.1 1 -6.1 1 -4.6 1 5.9 1 -5.6 1 0.5 1 -1.2 1 3.5 1 2.7 1 4.7 1 -2.6 1 2 1 5.1 1 5.8 1 -6 1 -5 1 4.1 1 9.5 1 -11.7 1 -3.3 1 5.7 1 1.9 1 0 1 -6.1 1 3.9 1 2.6 1 7.1 1 -2.1 1 -9.2 1 7.5 1 -1.9 1 -0.1 1 -2.1 1 -4.4 1 2.9 1 -2 1 2.5 1 -2.1 1 0.1 1 -4.6 1 0 1 6.8 1 -3.1 1 9.5 1 2.3 1 -2.7 1 -0.4 1 -2.8 1 0.8 1 -4.8 1 5.9 1 -1 1 -1.7 1 -4.1 1 9.1 1 4.4 1 -5.7 1 0.4 1 6.3 1 -4.8 1 -5.9 1 -4.6 1 9.2 1 -2.6 1 3.1 1 2 1 -1.6 1 -1.5 1 -2.7 1 1.2 1 -0.1 1 -1.5 1 -5.5 1 0.9 1 4.6 1 8.9 1 -2 1 -5 1 9.9 1 2.3 1 -3.3 1 4.2 1 -4.1 1 -0.1 1 1.8 1 -3.8 1 -4.5 1 -1 1 0.9 1 3.3 1 0.5 1 1.3 1 9.4 1 -1 1 -0.9 1 -2.3 1 -0.4 1 -3.7 1 -4.5 1 -2.5 1 -7.1 1 2.3 1 1.6 1 -0.6 1 -2 1 1.4 1 2.3 1 -4.6 1 0.1 1 6.6 1 -5.8 1 -1 1 1.6 1 3.8 1 -1.8 1 -3.2 1 -0.1 1 1.7 1 6.9 1 0.9 1 3.9 1 -0.4 1 -3.2 1 3 1 -1.4 1 3.8 1 -1.6 1 -0.4 1 1.9 1 -6 1 -3.3 1 2.3 1 1.2 1 8.2 1 -9.6 1 -4.1 1 0.5 1 6.2 1 -8.9 1 2.2 1 2.8 1 1.1 1 2.5 1 1.5 1 -8.3 1 0.5 1 3.2 1 0.6 1 -0.2 1 -7.4 1 -4.8 1 9 1 6.3 1 -3.1 1 -0.1 1 -4 1 -1.2 1 1.1 1 -6.1 1 5.4 1 1.6 1 1.6 1 -1.9 1 5.6 1 1.7 1 -0.6 1 -6.3 1 -2.4" fill="none" stroke="#181818" stroke-width="5.7" stroke-linejoin="round" stroke-linecap="round"/>
<path d="M2162.3 915.2l231.9 0 0.7 -23.8 0.7 -5.4 0.7 -3.9 0.7 -2.3 0.7 -0.9 0.7 -0.5 0.7 -1.3 0.7 -2.9 0.7 -4.5 0.7 -4.4 0.7 -3.1 0.7 -1.7 0.7 -1.2 0.7 -2 0.7 -2.8 0.7 -3.6 0.7 -4.3 0.7 -4.5 0.7 -4 0.7 -4.4 0.7 -5.6 0.7 -6.1 0.7 -4.8 0.7 -3.7 0.7 -3.7 0.7 -4.3 0.7 -4.9 0.7 -5.1 0.7 -4.6 0.7 -4.5 0.7 -4.2 0.7 -3.3 0.7 -2.5 0.7 -2.7 0.7 -2.8 0.7 -2.2 0.7 -0.9 0.7 -0.5 0.7 -0.9 0.7 -1.2 0.7 -1.3 0.7 -1.7 0.7 -2.2 0.7 -2.3 0.7 -1.9 0.7 -2 0.7 -2.5 0.7 -2.5 0.7 -2 0.7 -1.8 0.7 -1.6 0.7 -0.8 0.7 -1.1 0.7 -2.4 0.7 -3.7 0.7 -4.6 0.7 -5.3 0.7 -5.8 0.7 -5.6 0.7 -5.1 0.7 -4.4 0.7 -3.8 0.7 -3.8 0.7 -4.7 0.7 -6 0.7 -7.1 0.7 -8 0.7 -8.5 0.7 -8.6 0.7 -8.5 0.7 -8.4 0.7 -7.9 0.7 -7.5 0.7 -8 0.7 -9.1 0.7 -9.5 0.7 -8.3 0.7 -7 0.7 -7.1 0.7 -7.5 0.7 -6.8 0.7 -6.1 0.7 -6.1 0.7 -6.3 0.7 -6.6 0.7 -7.1 0.7 -7.1 0.7 -6.9 0.7 -6.7 0.7 -6.2 0.7 -6.1 0.7 -6.4 0.7 -6.8 0.7 -6.4 0.7 -5.4 0.7 -4.5 0.7 -4 0.7 -3.4 0.7 -2.5 0.7 -2.2 0.7 -2.3 0.7 -2.6 0.7 -2.6 0.7 -2.1 0.7 -2.6 0.7 -3.5 0.7 -3.7 0.7 -3.2 0.7 -3 0.7 -3.4 0.7 -3.9 0.7 -3.5 0.7 -2.8 0.7 -1.9 0.7 -1.2 0.7 -1 0.7 -1.8 0.7 -2.8 0.7 -3.1 0.7 -2.8 0.7 -3 0.7 -3.3 0.7 -3.3 0.7 -2.9 0.7 -2.4 0.7 -1.8 0.7 -1.8 0.7 -1.9 0.7 -1.4 0.7 -0.7 0.7 -0.9 0.7 -1.9 0.7 -2.2 0.7 -1.8 0.7 -1.4 0.7 -1.8 0.7 -2.8 0.7 -3.1 0.7 -2.4 0.7 -1 0.7 -0.2 0.7 -0.4 0.7 -0.9 0.7 -0.7 0.7 -0.6 0.7 -0.8 0.7 -0.4 0.7 1 0.7 2.5 0.7 3.7 0.7 3.7 0.7 2.7 0.7 2.2 0.7 2.3 0.7 2.9 0.7 3.8 0.7 4.5 0.7 5.3 0.7 5.8 0.7 5.4 0.7 4.9 0.7 4.6 0.7 3.6 0.7 1.9 0.7 0.9 0.7 0.7 0.7 0.7 0.7 1 0.7 0.7 0.7 -0.2 0.7 -1.5 0.7 -2.1 0.7 -2.1 0.7 -2 0.7 -1.4 0.7 -0.6 0.7 0.1 0.7 -0.1 0.7 -0.4 0.7 -1.4 0.7 -2.5 0.7 -3.1 0.7 -2.6 0.7 -1.4 0.7 -1.2 0.7 -1.7 0.7 -1.7 0.7 -0.7 0.7 0.6 0.7 0.9 0.7 0.6 0.7 -0.1 0.7 -0.4 0.7 -0.4 0.7 -0.6 0.7 -0.9 0.7 -1.1 0.7 -0.5 0.7 0 0.7 0.4 0.7 0.7 0.7 0.2 0.7 -0.5 0.7 -1.3 0.7 -1.1 0.7 -0.7 0.7 -0.5 0.7 -0.6 0.7 -0.6 0.7 0.2 0.7 1.7 0.7 2.7 0.7 2.3 0.7 1.1 0.7 0.4 0.7 1 0.7 2 0.7 2.9 0.7 3 0.7 2.3 0.7 1.5 0.7 0.4 0.7 0.1 0.7 0.8 0.7 2.2 0.7 3.3 0.7 3.6 0.7 2.6 0.7 1.6 0.7 1.3 0.7 2.2 0.7 2.9 0.7 2.4 0.7 1.1 0.7 0 0.7 -0.4 0.7 -0.3 0.7 -0.1 0.7 0.3 0.7 -0.1 0.7 -0.7 0.7 -1.3 0.7 -1.9 0.7 -2.8 0.7 -3 0.7 -2.3 0.7 -1.3 0.7 -0.9 0.7 -1.2 0.7 -2.3 0.7 -3.2 0.7 -3.2 0.7 -2.9 0.7 -2.9 0.7 -2.3 0.7 -1.5 0.7 -1.5 0.7 -2.4 0.7 -2.3 0.7 -1.5 0.7 -1.5 0.7 -2.1 0.7 -2.7 0.7 -2.7 0.7 -1.5 0.7 0.7 0.7 2.5 0.7 2.9 0.7 1.7 0.7 0 0.7 -1.1 0.7 -0.6 0.7 1.1 0.7 2.4 0.7 2.5 0.7 2.1 0.7 3 0.7 4.3 0.7 4.4 0.7 3.7 0.7 3.8 0.7 3.2 0.7 2 0.7 1.3 0.7 2 0.7 2.9 0.7 2.7 0.7 1.9 0.7 1.4 0.7 1.2 0.7 0.5 0.7 -0.3 0.7 -0.2 0.7 0.3 0.7 -0.1 0.7 -1 0.7 -1.4 0.7 -0.5 0.7 0.3 0.7 0 0.7 -0.6 0.7 -0.8 0.7 -1.7 0.7 -3.2 0.7 -3.6 0.7 -2.8 0.7 -2.1 0.7 -2.2 0.7 -2.5 0.7 -2.7 0.7 -2.4 0.7 -2.4 0.7 -2.6 0.7 -3 0.7 -2.6 0.7 -1.6 0.7 -0.7 0.7 -0.4 0.7 -1.3 0.7 -2.1 0.7 -1.7 0.7 -0.1 0.7 0.8 0.7 0.6 0.7 0.2 0.7 0.4 0.7 0 0.7 -0.9 0.7 -0.9 0.7 0.7 0.7 2.5 0.7 3.4 0.7 3.4 0.7 3.3 0.7 3 0.7 2.7 0.7 2.7 0.7 3.1 0.7 3.7 0.7 3.8 0.7 3 0.7 1 0.7 -1 0.7 -2 0.7 -1 0.7 1.6 0.7 3.8 0.7 3.1 0.7 1.2 0.7 -0.1 0.7 -0.6 0.7 -1.6 0.7 -2.3 0.7 -1.9 0.7 -0.4 0.7 0 0.7 -1.2 0.7 -2.2 0.7 -2.4 0.7 -2.5 0.7 -2.7 0.7 -2.6 0.7 -2.1 0.7 -1.7 0.7 -1.9 0.7 -2.8 0.7 -3.7 0.7 -4.2 1.2 0.6 1 -0.2 1 0 1 -0.2 1 -0.2 1 -2.3 1 0.6 1 0.3 1 -2.1 1 -5 1 -2.1 1 4.7 1 -6 1 -2.4 1 -5.5 1 -3.5 1 2.5 1 0.9 1 -3.5 1 0.3 1 4.9 1 -1.3 1 0.3 1 0.8 1 3.5 1 0.5 1 0.8 1 1.8 1 5 1 5.2 1 -2.9 1 0.1 1 10.6 1 -3.4 1 -9.3 1 -5.1 1 6.6 1 -5.8 1 -2.5 1 -7 1 10.5 1 3.1 1 -5.7 1 -3 1 -2.5 1 -6.5 1 -0.6 1 6.2 1 -3 1 0.8 1 2.4 1 4.6 1 0 1 3.7 1 1.9 1 -2.8 1 2.4 1 4.5 1 3.1 1 -0.6 1 -1.4 1 -5.6 1 0.9 1 2.7 1 -1.8 1 0.5 1 2.2 1 3.4 1 -7.2 1 2.9 1 -1.5 1 -5 1 -5.1 1 0.3 1 -1.1 1 2.8 1 -3.1 1 -2.7 1 -3.5 1 2.5 1 -7.9 1 9.4 1 -8.7 1 -0.3 1 2.7 1 2.2 1 10.6 1 -1 1 2.2 1 8.4 1 -2.1 1 -10.1 1 -1.6 1 3.3 1 0 1 -0.7 1 -2.7 1 3.6 1 -0.5 1 -3.4 1 -1.5 1 3.4 1 0.3 1 -5.1 1 -2.5 1 1.2 1 -3.5 1 2.7 1 1.1 1 -6 1 -1 1 -2 1 6.1 1 5.8 1 -0.3 1 3.9 1 -0.2 1 -0.8 1 6 1 -3.8 1 0.7 1 -3.7 1 -2.5 1 3.3 1 -6.9 1 -0.5 1 7.4 1 -1.7 1 -4.1 1 -0.2 1 -1.3 1 6.5 1 3.2 1 -1.7 1 0.9 1 1.5 1 -4.5 1 -4.2 1 1.1 1 5.2 1 2.3 1 0.6 1 -2.1 1 6 1 6.6 1 -2.2 1 2.5 1 -2.9 1 -1.3 1 6.1 1 3.5 1 -1.5 1 0.8 1 -6.1 1 -5 1 -2.5 1 6.4 1 3.8 1 -8.9 1 -5.2 1 3.6 1 0 1 -1.7 1 -1.9 1 6.6 1 -5.5 1 -2.1 1 -3.4 1 7.3 1 5 1 -4 1 -7.3 1 4.1 1 -3.8 1 1.8 1 1.1 1 3.6 1 -1 1 -3.2 1 2.2 1 5.1 1 -6.7 1 5.6 1 11.4 1 -4.4 1 -3.3 1 6 1 1.7 1 -6 1 0.9 1 0.4 1 4.4 1 -1.2 1 -2.3 1 3.4 1 -2.4 1 6.3 1 -3.7 1 -7.4 1 0.7 1 2.9 1 -3.8 1 -7.1 1 -0.1 1 0.6 1 0.2 1 -1.9 1 12.4 1 11.5 1 -8.5 1 -2.1 1 0.4 1 2.3 1 -3 1 0.9 1 0.6 1 -9 1 5.4 1 9.1 1 -2.2 1 -4 1 -3.5 1 -8.2 1 8.5 1 0.4 1 4.4 1 -1.6 1 -2.1 1 -9 1 -0.1 1 10.4 1 -6.8 1 -2.3 1 5.6 1 -1.4 1 0.6 1 3.3 1 -4.9 1 -3.6 1 -3.1 1 -5 1 5.7 1 0.6 1 0.1 1 7.1 1 -10.9 1 -2.4 1 -0.9 1 0.7 1 3.1 1 -2.4 1 4.7 1 6 1 -9.5 1 -4 1 1.6 1 6.1 1 -1.7 1 -1 1 -1.6 1 2.8 1 11 1 0.4 1 -9.4 1 -1.8 1 1.8 1 2.1 1 6.4 1 2.3 1 -5.8 1 -2.3 1 8 1 2.4 1 -8.1 1 4.2 1 -2.4 1 -1.1 1 1.8 1 7.1 1 -3.8 1 -5 1 2 1 0.9 1 -4.6 1 4.3 1 -5.6 1 -0.2 1 2.9 1 -14.5 1 11.2 1 2.3 1 -4.1 1 3.7 1 -2.6 1 -2.4 1 2.6 1 -2.5 1 -1.3 1 0.7 1 11.2 1 -4.9 1 -8.1 1 -5.4 1 2.1 1 2.2 1 1.8 1 5.6 1 5 1 8.5 1 -1.6 1 -9.7 1 4 1 -8 1 1.8 1 -4.6 1 -3.3 1 -1.5 1 -5.1 1 -0.7 1 8.2 1 -8.1 1 4.6 1 -2.2 1 4.5 1 0.7 1 0.4 1 -1.5 1 6.1 1 7 1 -1.6 1 -0.8 1 -7.4 1 -0.9 1 1.7 1 -6.1 1 7.6 1 -1.2 1 0.4 1 4.4 1 -5.7 1 4 1 -8.3 1 -0.5 1 9.2 1 0.1 1 -9.4 1 4.6 1 6.4 1 -7.9 1 -6.6 1 2.6 1 2.1 1 -1.2 1 -3.2 1 2.6 1 5.8 1 2.6 1 -0.7 1 2.6 1 -0.9 1 -2.9 1 11.7 1 2 1 -5.2 1 -2 1 0.2 1 0.1 1 1.5 1 -1.2 1 -6.7 1 -5.1 1 1 1 8.4 1 -6.3 1 -7.2 1 -2.5 1 10.7 1 1.2 1 -0.3 1 -3.4 1 0.8 1 -0.5 1 2.5 1 3.3 1 -10.7 1 -3.8 1 8.1 1 1.5 1 -3.5 1 1.4 1 0.3 1 8.8 1 -4.9 1 -7.2 1 7.9 1 0.4 1 -8.3 1 4 1 0.6 1 -5.8 1 3 1 15.6 1 -9.5 1 3 1 2.1 1 0.6 1 -1.7 1 -5.1 1 -5.5 1 -1.4 1 4.9 1 -2.1 1 5.7 1 -0.3 1 3.4 1 -5.4 1 9.7 1 -4 1 -0.9 1 -5.5 1 5.3 1 0.5 1 2.8 1 0.8 1 2.2 1 -12.1 1 0.3 1 -1.3 1 5.2 1 5.4 1 -0.7 1 -7.3 1 -3.4 1 6.3 1 2.2 1 -6.5 1 2.6 1 -2 1 1.7 1 -2.8 1 3.5 1 -5 1 3.6 1 5.7 1 -23.2 1 9.5 1 6.4 1 4.4 1 2.6 1 0.1 1 -1.5 1 3.6 1 2.9 1 -3.8 1 8.4 1 0.2 1 3.3 1 -4.6 1 0.7 1 -1.7 1 3.1 1 -1.2 1 -7.4 1 0.9 1 -2.8 1 0.5 1 -4.1 1 0.4 1 5 1 2.9 1 -2 1 -0.9 1 -2.5 1 3.3 1 -4 1 -2.2 1 7.4 1 -5.4 1 7.8 1 -0.5 1 2.5 1 4.9 1 -10.3 1 -4.5 1 0.1 1 7.1 1 5.3 1 -4 1 -0.3 1 0.6 1 -1.2 1 -0.3 1 -7.1 1 -4.7 1 3.6 1 2.4 1 4.8 1 -4.4 1 -5.3 1 7.4 1 -0.7 1 -3.6 1 7.8 1 -5.7 1 -5.3 1 1.8 1 4.2 1 -2.1 1 -3.3 1 8.4 1 -5 1 -4 1 1.5 1 3.3 1 5.8 1 -2.5 1 -11.3 1 4.3 1 4.3 1 3 1 3.4 1 -2 1 -4.6 1 8.7 1 -3.7 1 -8.6 1 8.3 1 -2.1 1 -6.5 1 4.2 1 2.3 1 -3.1 1 -4.8 1 0.2 1 -1 1 -0.5 1 2.1 1 -4 1 4 1 3.6 1 3.1 1 -0.4 1 -1.8 1 0.6 1 3 1 7.9 1 -6.6 1 -3.6 1 2.3 1 5.2 1 -1.1 1 -8.1 1 6.1 1 -1.6 1 4.9 1 -2.2 1 -9.6 1 -3.2 1 0.5 1 3.1 1 3.1 1 0.1 1 0.1 1 0.2 1 -2.8 1 1.4 1 3.6 1 2.6 1 -5.1 1 -1.4 1 5.6 1 0.7 1 1 1 -0.9 1 1.2 1 -3.5 1 -2 1 1.2 1 -4 1 8.2 1 5.2 1 -10.6 1 -0.7 1 4 1 -3 1 2.9 1 -1.7 1 -0.3 1 3.6 1 -4.6 1 -3.2 1 -3.2 1 4.1 1 -3.6 1 -3.1 1 2.9 1 -1.6 1 4.2 1 -0.5 1 -4.9 1 0.4 1 6.8 1 -4.6 1 -3.2 1 0.2 1 -3.6 1 4.9 1 -2.2 1 5.3 1 -1.5 1 4.9 1 7.8 1 -0.8 1 -5.7 1 -0.9 1 -5 1 4.7 1 4.4 1 -0.8 1 -1 1 -4.9 1 -6.4 1 2.1 1 -0.9 1 6.4 1 -3 1 -3.1 1 -1.7 1 4.8 1 2.2 1 -2.3 1 -6.5 1 4.9 1 -4.7 1 -6.3 1 9.1 1 -1.1 1 -5.5 1 8.6 1 2.7 1 4.1 1 -3.6 1 -3.9 1 -3.4 1 10.7 1 -9.5 1 2.2 1 4.8 1 -5.2 1 -8.9 1 7.7 1 3.1 1 3.7 1 -3.6 1 2.7 1 -2.4 1 -2 1 -1.1 1 4.1 1 -4.2 1 -2.9 1 -4.8 1 -3.3 1 -4.8 1 -2.5 1 5 1 8 1 -3.3 1 0.6 1 -0.2 1 1.8 1 3 1 1.6 1 -7.7 1 8.4 1 -7.3 1 -4.8 1 1.8 1 6.7 1 0.2 1 1.2 1 -4.1 1 4.9 1 -3.5 1 -0.1 1 -3.9 1 0.2 1 0.9 1 5.8 1 -3.9 1 -14.6 1 8.7 1 1.1 1 -5.6 1 2.2 1 9.8 1 -1 1 4.5 1 -2.1 1 -10.4 1 9.3 1 -7.4 1 0.6 1 3.3 1 3.3 1 0.3 1 -2.8 1 -0.1 1 2.4 1 0 1 -5.6 1 0.7 1 -2.2 1 -5.8 1 -0.3 1 3.7 1 9 1 -4.8 1 0.2 1 -1.4 1 -5.6 1 0.5 1 -7.4 1 1.2 1 8 1 0.5 1 4.1 1 5.1 1 5.3 1 -6.6 1 -3.2 1 -5.6 1 11 1 -2.9 1 -2.4 1 4.7 1 -2.8 1 -4.2 1 -0.1 1 6 1 1 1 -4.5 1 0.6 1 7.3 1 -7.8 1 -2 1 6.3 1 -3.6 1 -2.5 1 5.7 1 1.4 1 7.8 1 -1.8 1 2.4 1 1.6 1 -2.4 1 -2 1 -9.7 1 -1.7 1 4 1 5 1 -0.3 1 1.2 1 1.3 1 -3.4 1 -1.8 1 2.9 1 6.8 1 -10.9 1 -1.9 1 3.9 1 -5 1 1.6 1 -5 1 0.2 1 -0.9 1 6 1 3.5 1 5.3 1 -1.3 1 -1.8 1 -5 1 0.5 1 -1.8 1 -4.8 1 1.4 1 6.2 1 4.9 1 3.8 1 -9.8 1 -3.6 1 7.1 1 -2.4 1 -1.6 1 0.5 1 -3.3 1 9.3 1 4.5 1 -0.7 1 -2.4 1 1.7 1 3.1 1 -4.4 1 8 1 -5.4 1 1.4 1 7.3 1 -10.6 1 -7 1 -1.4 1 -4.1 1 8.1 1 -1.8 1 -1 1 -0.5 1 5.4 1 0.5 1 -12.5 1 4.2 1 9.5 1 -0.8 1 0.9 1 -2.6 1 2.7 1 9.4 1 -0.9 1 -4.9 1 -13.1 1 8.7 1 3.1 1 -1.1 1 -3.2 1 5.6 1 0.8 1 -7.6 1 -9.4 1 8.1 1 4.2 1 0.7 1 -4.2 1 1 1 -3.6 1 -1.6 1 -0.3 1 3.4 1 3.4 1 -2.3 1 -6.3 1 4.6 1 -1.9 1 -1.1 1 -7.7 1 11.3 1 0.2 1 0.6 1 1.6 1 -4 1 -1.6 1 -3.8 1 9.7 1 -0.4 1 2 1 0.4 1 -2.9 1 0.4 1 -9.6 1 4.1 1 2.5 1 -4.2 1 1 1 -0.3 1 5.6 1 0.9 1 -5.9 1 0.9 1 3.5 1 -0.2 1 1.8 1 -0.5 1 0 1 -3.4 1 5.3 1 2 1 -6.9 1 3.8 1 0.9 1 -1.4 1 -8.5 1 5.4 1 2.3 1 4.3 1 -1.8 1 -12.6 1 5.9 1 6.4 1 1 1 -2.1 1 -6.4 1 0.2 1 3.7 1 2.1 1 -3 1 -7.3 1 -7.4 1 8.5 1 3.9 1 1.6 1 2.9 1 2.9 1 4.7 1 -5.5" fill="none" stroke="#de4830" stroke-width="5.7" stroke-linejoin="round" stroke-linecap="round"/>
<path d="M2162.3 923.0l231.9 0 0.7 -30.3 0.7 -12.7 0.7 -8.2 0.7 -6.2 0.7 -5.4 0.7 -4.4 0.7 -3.8 0.7 -4.2 0.7 -4.3 0.7 -3.7 0.7 -2.8 0.7 -2.3 0.7 -2.6 0.7 -3.3 0.7 -3.5 0.7 -3.3 0.7 -2.9 0.7 -2.2 0.7 -1.7 0.7 -1.7 0.7 -2.1 0.7 -2.4 0.7 -3.5 0.7 -5 0.7 -4.6 0.7 -2.9 0.7 -2.7 0.7 -4.9 0.7 -7 0.7 -7.7 0.7 -7.7 0.7 -7.5 0.7 -6.6 0.7 -5.5 0.7 -4.9 0.7 -4.3 0.7 -3.9 0.7 -4.2 0.7 -5.2 0.7 -5.3 0.7 -4.2 0.7 -3.3 0.7 -3.1 0.7 -3 0.7 -3 0.7 -3.1 0.7 -2.5 0.7 -1.2 0.7 -0.2 0.7 -0.4 0.7 -1.1 0.7 -2.3 0.7 -3.2 0.7 -3.7 0.7 -4.1 0.7 -4.3 0.7 -3.5 0.7 -2.6 0.7 -3.2 0.7 -5.2 0.7 -7.7 0.7 -9 0.7 -8.7 0.7 -6.6 0.7 -4.3 0.7 -4.1 0.7 -5.4 0.7 -5.9 0.7 -5.5 0.7 -5.6 0.7 -6.2 0.7 -6.5 0.7 -6.7 0.7 -7.2 0.7 -7.2 0.7 -6.2 0.7 -5.3 0.7 -5.2 0.7 -5.3 0.7 -5.6 0.7 -6.4 0.7 -8 0.7 -9 0.7 -9.9 0.7 -11.6 0.7 -13.5 0.7 -13.6 0.7 -12.8 0.7 -11.2 0.7 -8.5 0.7 -6.7 0.7 -5.6 0.7 -5.1 0.7 -4.7 0.7 -3.3 0.7 -1.9 0.7 -1.9 0.7 -2.3 0.7 -2.2 0.7 -1.7 0.7 -1.3 0.7 -1.4 0.7 -1.3 0.7 0 0.7 2.3 0.7 4.7 0.7 5.4 0.7 4.5 0.7 2.8 0.7 1.3 0.7 0.5 0.7 0.9 0.7 2.2 0.7 2.3 0.7 1.1 0.7 0.2 0.7 0.7 0.7 1.1 0.7 1 0.7 0.6 0.7 0.8 0.7 1.2 0.7 0.4 0.7 -1.6 0.7 -3.2 0.7 -3.7 0.7 -3.4 0.7 -3 0.7 -3.2 0.7 -4.4 0.7 -5.9 0.7 -5.8 0.7 -4.6 0.7 -3.5 0.7 -2.9 0.7 -1.9 0.7 -0.8 0.7 -1.2 0.7 -2.5 0.7 -2.5 0.7 -2.3 0.7 -2.6 0.7 -2.4 0.7 -1.6 0.7 -1.4 0.7 -1.6 0.7 -1.6 0.7 -1 0.7 0.1 0.7 0.7 0.7 1 0.7 1.3 0.7 1.5 0.7 1.1 0.7 0.4 0.7 0 0.7 0.4 0.7 1.3 0.7 1.8 0.7 1.8 0.7 2 0.7 2.7 0.7 3 0.7 2.5 0.7 1.3 0.7 0.7 0.7 1.8 0.7 2.6 0.7 1.6 0.7 -0.4 0.7 -1.1 0.7 0.1 0.7 1.4 0.7 1.4 0.7 0.3 0.7 -0.4 0.7 -0.5 0.7 -0.1 0.7 0.4 0.7 0.3 0.7 -0.7 0.7 -1.5 0.7 -0.9 0.7 1.1 0.7 2.2 0.7 0.9 0.7 -1.3 0.7 -2.6 0.7 -2.4 0.7 -1.5 0.7 -1.6 0.7 -2.3 0.7 -2.3 0.7 -1 0.7 0.3 0.7 0.9 0.7 0.7 0.7 0.2 0.7 -0.8 0.7 -2.5 0.7 -3.9 0.7 -3.6 0.7 -1.8 0.7 -0.4 0.7 -0.9 0.7 -2.8 0.7 -3.4 0.7 -3 0.7 -2.5 0.7 -1.7 0.7 0.1 0.7 2.1 0.7 3 0.7 2.4 0.7 1.5 0.7 1.5 0.7 2 0.7 2.5 0.7 2.4 0.7 2.7 0.7 2.9 0.7 3 0.7 3.1 0.7 3 0.7 2.5 0.7 1.1 0.7 -0.1 0.7 -0.7 0.7 -0.4 0.7 0.2 0.7 0.4 0.7 0.5 0.7 0.7 0.7 1 0.7 1.3 0.7 1.5 0.7 1.9 0.7 2.3 0.7 2 0.7 0.7 0.7 -0.3 0.7 -0.3 0.7 0.4 0.7 0.3 0.7 -1 0.7 -2.7 0.7 -3.1 0.7 -2.4 0.7 -1.6 0.7 -1.4 0.7 -1.9 0.7 -2.5 0.7 -3.1 0.7 -2.5 0.7 -1.1 0.7 -0.2 0.7 -0.3 0.7 -0.9 0.7 -0.9 0.7 -0.4 0.7 0.1 0.7 -0.4 0.7 -0.8 0.7 -0.2 0.7 0.1 0.7 -0.5 0.7 -1 0.7 -1.2 0.7 -1.5 0.7 -1.4 0.7 0.3 0.7 2.6 0.7 3.8 0.7 3.4 0.7 2.5 0.7 1.6 0.7 0.8 0.7 0.2 0.7 0.8 0.7 2.4 0.7 3.6 0.7 3.1 0.7 1.4 0.7 0.7 0.7 1.6 0.7 2.7 0.7 2.8 0.7 2.6 0.7 2.9 0.7 2.5 0.7 1.4 0.7 0.3 0.7 -0.7 0.7 -1.1 0.7 -0.7 0.7 0.7 0.7 1.1 0.7 -0.3 0.7 -2.2 0.7 -2.8 0.7 -2.2 0.7 -2.1 0.7 -2.8 0.7 -3.9 0.7 -5 0.7 -5.2 0.7 -4.6 0.7 -3.1 0.7 -1.4 0.7 -0.6 0.7 -0.9 0.7 -1.6 0.7 -1.7 0.7 -1.4 0.7 -1.4 0.7 -2 0.7 -2.2 0.7 -1.6 0.7 -0.9 0.7 -1 0.7 -1.4 0.7 -1.2 0.7 -0.7 0.7 -0.6 0.7 -1.2 0.7 -2 0.7 -1.7 0.7 -1.1 0.7 -1.3 0.7 -1.6 0.7 -0.8 0.7 1 0.7 2.8 0.7 3.9 0.7 4.1 0.7 4.5 0.7 4.9 0.7 4.6 0.7 3.9 0.7 3.6 0.7 3.4 0.7 3.4 0.7 3.8 0.7 4.8 0.7 5.1 0.7 4.3 0.7 2.5 0.7 1 0.7 0.4 0.7 0.5 0.7 1.2 0.7 1.2 0.7 0 0.7 -1.5 0.7 -2.2 0.7 -2.4 0.7 -2 0.7 -0.9 0.7 0.3 0.7 0.5 0.7 -0.9 0.7 -2.7 0.7 -3.6 0.7 -3.1 0.7 -2.3 1.3 0.1 1 0 1 -0.3 1 -0.5 1 -1.6 1 0.5 1 0.9 1 -1.3 1 -1 1 1.3 1 -0.1 1 2.9 1 -4.9 1 -2.1 1 0.4 1 -8.1 1 2.6 1 3.8 1 -7.1 1 1.7 1 6 1 -0.4 1 -5.7 1 -1.5 1 -0.5 1 0.2 1 4 1 -3.4 1 -3.1 1 0.7 1 2.9 1 -9.4 1 7 1 5.1 1 -2.1 1 0.4 1 5.9 1 2.5 1 4.5 1 -6.7 1 0.5 1 -2.4 1 6.6 1 0.6 1 -1.4 1 0.8 1 -1.1 1 -2 1 -1.8 1 1.6 1 -2.7 1 -4.7 1 -0.5 1 1.8 1 3.5 1 -4.8 1 -3.3 1 -2.3 1 7.1 1 1.3 1 1.1 1 1.8 1 0.1 1 -7.3 1 0.6 1 3.6 1 4.3 1 0.7 1 1.8 1 -0.5 1 -0.1 1 -4.4 1 -0.2 1 1.4 1 1.6 1 3.9 1 -0.5 1 0.3 1 1.5 1 3.8 1 -5.1 1 0.9 1 -3.3 1 1.2 1 -0.9 1 -4 1 -3.1 1 3.7 1 0.1 1 -1.7 1 0 1 2.3 1 8 1 -7.6 1 -5.1 1 2.1 1 7.5 1 -4 1 6.3 1 -0.8 1 1.7 1 0.6 1 1.6 1 -3.9 1 0 1 -2.7 1 -1.3 1 9.7 1 -4.7 1 5 1 2.5 1 -3.2 1 -3.5 1 5.4 1 -6.8 1 5 1 -0.3 1 -8.4 1 2.6 1 -3.8 1 0.5 1 -5.4 1 10.4 1 -1.4 1 -3.6 1 0.2 1 6.5 1 -0.8 1 -0.7 1 -1.8 1 1.2 1 1.8 1 0.4 1 7.1 1 8 1 -0.9 1 1.2 1 1.7 1 4.3 1 -10.7 1 -10 1 -4.5 1 8 1 5.5 1 1.7 1 -7.4 1 3.4 1 5.4 1 -10.5 1 -1.6 1 0.6 1 -2.7 1 0.7 1 -5.2 1 3.4 1 3.9 1 6.8 1 0.7 1 -1.2 1 -4.1 1 5.4 1 -2.8 1 0.6 1 -10 1 -1 1 4.5 1 7.5 1 -4.6 1 3.7 1 3.2 1 5.9 1 0.1 1 3.6 1 -6 1 6.1 1 -8.1 1 -6.6 1 4.1 1 -3.2 1 -2.4 1 5.9 1 -5.4 1 -2.7 1 5.5 1 2.7 1 -2.7 1 -6.6 1 7.8 1 -2 1 -0.4 1 -4.4 1 1.1 1 2.7 1 4.5 1 6.5 1 -6.4 1 -1.2 1 5.3 1 2.4 1 -2 1 -5.3 1 -5.4 1 -1.2 1 6.5 1 1.8 1 6.5 1 3.4 1 -8.2 1 -1.7 1 -1.5 1 -6.5 1 5.1 1 5.3 1 2.2 1 -13.7 1 4.2 1 1.2 1 -9.9 1 1.8 1 5.2 1 -5.4 1 1.3 1 5.6 1 5.7 1 -1.6 1 -2.1 1 2.7 1 -5.3 1 -1.7 1 4.2 1 2.5 1 2.2 1 0.7 1 -3.7 1 -6.1 1 0 1 5.8 1 3.3 1 -6.1 1 0.1 1 2.6 1 -5.1 1 4.2 1 -3.4 1 -0.5 1 3.5 1 -1.7 1 3.6 1 -6.2 1 -1.1 1 1.9 1 2.4 1 -5.5 1 2.4 1 1.5 1 0.7 1 -5.4 1 2.5 1 4.1 1 3.2 1 -5.4 1 0.6 1 -2.5 1 -8.8 1 11.6 1 2.4 1 -3.8 1 -0.2 1 1.8 1 0.1 1 -1.9 1 -1.9 1 2.5 1 3 1 -1.5 1 5.4 1 2.7 1 -2.3 1 -5.5 1 -2.4 1 -7.1 1 6.4 1 0.2 1 -5.2 1 -5.3 1 9 1 1.1 1 -4.6 1 1.7 1 -4.9 1 -5.1 1 6.3 1 1.1 1 0.8 1 -0.4 1 -4.8 1 -0.9 1 9.1 1 0 1 0.3 1 -5.5 1 -4.5 1 6.8 1 11.7 1 -2.7 1 -9.9 1 1.9 1 0.5 1 6.4 1 6 1 -6.7 1 0.8 1 -2.2 1 -3.3 1 -3.3 1 1.1 1 4.3 1 0.8 1 0.1 1 -4.2 1 1.5 1 5 1 1 1 -0.6 1 4.6 1 8.2 1 -3.8 1 1.2 1 0.6 1 -2.6 1 4.9 1 -3.3 1 0 1 -2.5 1 3.1 1 -0.9 1 0.6 1 -4.9 1 -1.7 1 1.4 1 0.4 1 -7.2 1 2.3 1 1.2 1 1.2 1 -10.8 1 2.6 1 9.6 1 0.9 1 -0.2 1 -1.5 1 0.8 1 1.2 1 -0.1 1 -7.4 1 1.9 1 8.2 1 0.2 1 -5.4 1 7.4 1 -1.4 1 -0.1 1 -3.2 1 -0.5 1 5.4 1 1.9 1 -1.5 1 3.8 1 -2 1 -7.9 1 0.1 1 1.2 1 -1 1 5.9 1 2.3 1 -6 1 3.7 1 2.5 1 -0.6 1 -9.1 1 0.4 1 5.7 1 2.8 1 -4.2 1 -4.5 1 2.7 1 -4.1 1 -2.4 1 6 1 4.4 1 0 1 -4.2 1 -5 1 -0.9 1 5.5 1 -2.9 1 4.3 1 1.5 1 -2.6 1 1.6 1 1.7 1 1.3 1 -5.1 1 -0.5 1 -1.5 1 -6.5 1 -0.5 1 -0.2 1 0.5 1 -3.6 1 3.5 1 4 1 3.9 1 -2.1 1 4 1 -2.1 1 -1.1 1 -4.8 1 0.1 1 3.1 1 -1.2 1 6.2 1 -1.1 1 5.1 1 -9.1 1 1.3 1 0.3 1 -1.2 1 -1.5 1 -6.9 1 7.4 1 5.4 1 -3.6 1 -3.9 1 3.8 1 4.3 1 2.9 1 -3.5 1 2.7 1 -5.3 1 2.2 1 -1.3 1 3.8 1 -5.6 1 -2.3 1 -8 1 -6.6 1 5.6 1 1.2 1 -2.1 1 0.5 1 -4.3 1 4.7 1 2.5 1 6.1 1 -3.7 1 -1.9 1 -2.5 1 -6.7 1 4 1 9.2 1 -1.6 1 -6 1 4.2 1 0.4 1 3.5 1 0.9 1 -0.2 1 -2.4 1 3.6 1 0.2 1 3.1 1 4.6 1 -0.6 1 0.3 1 -1 1 -7.1 1 1.6 1 4.6 1 -2.3 1 -12.4 1 2.3 1 8.8 1 7.8 1 -11.7 1 -1.9 1 1.2 1 -0.8 1 -8.8 1 -0.4 1 0.1 1 -1.3 1 1 1 4.9 1 4.1 1 -0.6 1 -0.2 1 0.1 1 -1.4 1 -1.6 1 2.3 1 8.8 1 1.3 1 -3.6 1 -3.1 1 -2.2 1 -0.7 1 -4.6 1 -3.9 1 -1.2 1 3.9 1 -4.1 1 -4 1 3.5 1 0.8 1 6.5 1 3.7 1 -1.7 1 2.2 1 2.2 1 -10.6 1 -0.9 1 5.1 1 1 1 3.8 1 3.9 1 -4.2 1 -2.9 1 11.9 1 -11.8 1 -3.7 1 4.8 1 -9.1 1 -0.2 1 4.2 1 -0.5 1 5.1 1 5.3 1 -2.2 1 -1.4 1 2.7 1 1.6 1 5.2 1 -10.9 1 3.2 1 -3.5 1 -1.5 1 -8.7 1 -0.1 1 -1.4 1 -2.3 1 4.5 1 5.2 1 -8.2 1 6.7 1 -3.1 1 -1.8 1 -3.3 1 6.7 1 5.2 1 -5.2 1 1.5 1 0.8 1 -1.2 1 0.5 1 8.4 1 0 1 -4 1 3.4 1 -6.6 1 -1.6 1 -7.6 1 -2.4 1 7.5 1 9.7 1 -1.6 1 4.2 1 2.6 1 -6.4 1 -6.2 1 0.7 1 -1.2 1 2.6 1 -0.5 1 7.2 1 0.9 1 -3.2 1 -0.6 1 1.3 1 -0.7 1 2.4 1 2.9 1 -4.2 1 0.3 1 -1.1 1 -5 1 9.2 1 -2.3 1 1.2 1 -12.5 1 -2.3 1 6.8 1 3.9 1 3.4 1 0.3 1 0.7 1 -1.7 1 7.3 1 -5.9 1 -10.3 1 0.8 1 0.2 1 0.2 1 -2.8 1 2.5 1 1.8 1 -7.6 1 5.7 1 13.4 1 5 1 0.7 1 -4.7 1 1 1 -5.6 1 -9.3 1 2.1 1 5.2 1 -2 1 -4.2 1 0.7 1 6 1 0.5 1 -0.8 1 5.9 1 -5.5 1 -0.9 1 2.6 1 0.7 1 -1.4 1 -2.9 1 13.3 1 -4.1 1 -5.1 1 -4.9 1 0.8 1 1.9 1 -1.4 1 5.4 1 0.7 1 -3.6 1 -0.4 1 7.7 1 6.2 1 -5.5 1 -0.2 1 -4.8 1 -2.3 1 5.4 1 -1.1 1 6.6 1 -7.9 1 -2.2 1 9 1 5.7 1 0.9 1 -4.1 1 -4.2 1 5 1 -3.4 1 7.8 1 -7.3 1 -1.3 1 1.4 1 6.1 1 0.7 1 -7.4 1 -4.8 1 -5.2 1 2.6 1 -7 1 11.1 1 1 1 -2.8 1 5.6 1 2.1 1 3.1 1 -2.4 1 -6.7 1 -2.5 1 -4.3 1 5 1 -4.6 1 0.4 1 -1.4 1 3.7 1 3.5 1 -3.7 1 0.9 1 -2.4 1 6.2 1 3.1 1 -2.5 1 -1.9 1 -1.9 1 6.1 1 2.3 1 -4.7 1 -1.5 1 -3.5 1 -4.4 1 0.2 1 -4.2 1 8 1 2.9 1 -4 1 -3.7 1 -2 1 -0.4 1 -2.8 1 5.1 1 1.9 1 3.3 1 3 1 -4.5 1 1.3 1 -5.2 1 -7.1 1 2.2 1 -0.6 1 2.2 1 1.7 1 0.4 1 -0.3 1 2.3 1 -2.8 1 -2 1 0.5 1 -3.2 1 7.2 1 2.7 1 -1.2 1 5.2 1 -1 1 -3.3 1 -0.3 1 -1.3 1 -5.2 1 1.9 1 1.3 1 -1.5 1 -2.4 1 1.9 1 -10.2 1 3.9 1 5.1 1 4.4 1 -9.1 1 -0.8 1 1.3 1 2.5 1 -2.2 1 -0.6 1 6.4 1 -0.4 1 -3 1 -2.4 1 1.5 1 3.6 1 6.3 1 -9.2 1 -0.3 1 1.4 1 2.7 1 2.1 1 -6.9 1 1.1 1 7.3 1 -0.7 1 1.5 1 -8.6 1 -5 1 1.8 1 0.8 1 2.9 1 -4 1 2.7 1 3.5 1 -1.1 1 -0.8 1 1.9 1 4.5 1 2.4 1 -5 1 0.8 1 8.9 1 -6.9 1 2.2 1 1.9 1 7.5 1 -0.4 1 3.6 1 -0.6 1 -6.5 1 0.1 1 -5.2 1 3.5 1 5.3 1 -0.4 1 -1.3 1 -2.3 1 -1.5 1 3.3 1 -0.8 1 0.3 1 3 1 -2.1 1 5.3 1 -4.4 1 3.3 1 -5.2 1 -4.3 1 0.8 1 3.1 1 -0.5 1 -1.4 1 -3.8 1 -5.1 1 -4.4 1 -1.9 1 -0.2 1 -3 1 8 1 2.7 1 -0.5 1 -1.7 1 3.1 1 1.6 1 -6.6 1 -1.7 1 2.2 1 0.2 1 -4.4 1 2 1 -6.2 1 7.9 1 -8.5 1 -1.4 1 1.3 1 -1.3 1 3.5 1 1.8 1 7.7 1 -1.6 1 2.3 1 -0.4 1 3 1 -3.4 1 -6.9 1 2.6 1 3.5 1 -1.9 1 -8.7 1 1.5 1 -0.8 1 2.1 1 7 1 -0.7 1 -9 1 2.4 1 8.2 1 0.7 1 -4.7 1 -8.1 1 2.8 1 2.3 1 -5.2 1 -3.8 1 -1.2 1 3.8 1 4.3 1 2.8 1 -5.3 1 -1.6 1 -2.8 1 7.4 1 -2.2 1 4.4 1 -5.2 1 2.7 1 5.1 1 -1.1 1 -6.6 1 6.9 1 5.6 1 7.3 1 -3.1 1 -2.4 1 -3.8 1 -0.2 1 -7.1 1 -7.3 1 1.2 1 3.4 1 -2.7 1 0.6 1 1.1 1 1.6 1 -13.9 1 2.1 1 6.5 1 2.6 1 8.5 1 -1.4" fill="none" stroke="#2c4f8f" stroke-width="5.7" stroke-linejoin="round" stroke-linecap="round"/>
<path d="M297.1 1535.4l229.9 0 0.7 28.1 0.7 46.3 0.7 73.2 0.7 80.2 0.7 64.4 0.7 50.9 0.7 46.7 0.7 43.3 0.7 40.4 0.7 38.3 0.7 36.7 0.7 35.7 0.7 35.5 0.7 36.8 0.7 37.3 0.7 35.3 0.7 31 0.7 24.4 0.7 16.4 0.7 14.3 0.7 12.5 0.7 9.6 0.7 5.6 0.7 -0.1 0.7 -8.3 0.7 -13.9 0.7 -15.8 0.7 -13.9 0.7 -8.3 0.7 -0.2 0.7 4.4 0.7 7.2 0.7 8.8 0.7 9 0.7 7.8 0.7 5.3 0.7 1.5 0.7 -10.6 0.7 -23.4 0.7 -30.8 0.7 -33.3 0.7 -33.4 0.7 -42.1 0.7 -48.1 0.7 -49.5 0.7 -46.6 0.7 -39.2 0.7 -33.8 0.7 -34.9 0.7 -33.1 0.7 -28.1 0.7 -20.1 0.7 -8.7 0.7 1.9 0.7 7.2 0.7 10.7 0.7 12.9 0.7 13.6 0.7 13.5 0.7 16.2 0.7 18.7 0.7 20 0.7 19.9 0.7 18.8 0.7 18.1 0.7 18.6 0.7 18.9 0.7 19 0.7 18.8 0.7 18.5 0.7 17.9 0.7 17.2 0.7 16.2 0.7 15 0.7 13.6 0.7 12 0.7 11.9 0.7 12.1 0.7 12 0.7 11.8 0.7 11.3 0.7 10.7 0.7 9.8 0.7 8.8 0.7 7.4 0.7 5.9 0.7 4.2 0.7 2.3 0.7 -0.7 0.7 -10 0.7 -18.2 0.7 -23.6 0.7 -26.2 0.7 -25.8 0.7 -27.1 0.7 -36.2 0.7 -40.9 0.7 -40.7 0.7 -35.2 0.7 -24.9 0.7 -9.4 0.7 3.5 0.7 9.4 0.7 13.9 0.7 16.7 0.7 18.2 0.7 18.1 0.7 16.4 0.7 13.4 0.7 8.6 0.7 2.5 0.7 -4.9 0.7 -10.3 0.7 -13.2 0.7 -13.1 0.7 -10.3 0.7 -4.9 0.7 1.7 0.7 6.3 0.7 9.9 0.7 12.9 0.7 15.1 0.7 16.4 0.7 17.1 0.7 16.8 0.7 16 0.7 14.2 0.7 11.7 0.7 8.8 0.7 8.5 0.7 8.5 0.7 8.4 0.7 8.1 0.7 7.7 0.7 7 0.7 6.3 0.7 5.4 0.7 4.2 0.7 3 0.7 1.4 0.7 -1.1 0.7 -7.8 0.7 -13.7 0.7 -18.5 0.7 -21.8 0.7 -23.8 0.7 -24.6 0.7 -24 0.7 -22.2 0.7 -19 0.7 -14.5 0.7 -8.7 0.7 -1.8 0.7 3.9 0.7 7.5 0.7 9.6 0.7 10.2 0.7 9.1 0.7 6.6 0.7 2.6 0.7 -2.7 0.7 -7.5 0.7 -11 0.7 -13.3 0.7 -14.5 0.7 -14.5 0.7 -13.3 0.7 -11 0.7 -7.5 0.7 -2.7 0.7 2.7 0.7 7.4 0.7 11.3 0.7 14.1 0.7 16.1 0.7 17.1 0.7 17.1 0.7 16.2 0.7 14.4 0.7 11.6 0.7 10.2 0.7 10.7 0.7 10.9 0.7 10.8 0.7 10.3 0.7 9.6 0.7 8.6 0.7 7.3 0.7 5.6 0.7 3.8 0.7 1.6 0.7 -0.9 0.7 -3.3 0.7 -5.3 0.7 -7 0.7 -8.6 0.7 -9.8 0.7 -10.8 0.7 -11.4 0.7 -11.8 0.7 -11.9 0.7 -11.7 0.7 -11.3 0.7 -10.5 0.7 -9.5 0.7 -8.2 0.7 -6.6 0.7 -5.5 0.7 -5.5 0.7 -5.6 0.7 -5.5 0.7 -5.4 0.7 -5.4 0.7 -5.2 0.7 -5.1 0.7 -4.8 0.7 -4.6 0.7 -4.3 0.7 -4 0.7 -3.7 0.7 -3.2 0.7 -2.9 0.7 -2.3 0.7 -1.9 0.7 -1.3 0.7 -0.7 0.7 -0.1 0.7 1.6 0.7 3.4 0.7 5.1 0.7 6.4 0.7 7.6 0.7 8.4 0.7 9.1 0.7 9.5 0.7 9.7 0.7 9.6 0.7 9.4 0.7 8.7 0.7 8.1 0.7 7 0.7 6 0.7 6.2 0.7 6.5 0.7 6.6 0.7 6.7 0.7 6.5 0.7 6.4 0.7 6 0.7 5.7 0.7 5.1 0.7 4.5 0.7 3.8 0.7 2.9 0.7 1.9 0.7 1 0.7 -0.3 0.7 -1.4 0.7 -2.4 0.7 -3.2 0.7 -4.1 0.7 -4.6 0.7 -5.2 0.7 -5.5 0.7 -5.9 0.7 -5.9 0.7 -6 0.7 -5.8 0.7 -5.7 0.7 -5.2 0.7 -4.8 0.7 -4.2 0.7 -3.5 0.7 -3.2 0.7 -3.3 0.7 -3.4 0.7 -3.3 0.7 -3.4 0.7 -3.3 0.7 -3.2 0.7 -3.1 0.7 -2.9 0.7 -2.8 0.7 -2.6 0.7 -2.3 0.7 -2 0.7 -1.7 0.7 -1.4 0.7 -1 0.7 -0.6 0.7 -0.2 0.7 0.7 0.7 1.7 0.7 2.5 0.7 3.4 0.7 3.9 0.7 4.5 0.7 5 0.7 5.2 0.7 5.4 0.7 5.5 0.7 5.5 0.7 5.3 0.7 5.1 0.7 4.7 0.7 4.2 0.7 3.6 0.7 2.9 0.7 2.1 0.7 1.1 0.7 0.1 0.7 -1 0.7 -2 0.7 -2.9 0.7 -3.7 0.7 -4.5 0.7 -5.2 0.7 -5.7 0.7 -6.3 0.7 -6.7 0.7 -7.1 1.5 -2.7 1.2 1.4 1.2 1.3 1.2 0.6 1.2 0.1 1.2 -1.2 1.2 -1.9 1.2 -2.5 1.2 -2.9 1.2 -1 1.2 2.1 1.2 6.4 1.2 7.4 1.2 7.7 1.2 13.4 1.2 9.3 1.2 3.3 1.2 -0.7 1.2 -4.1 1.2 -4.1 1.2 -8.4 1.2 -10.8 1.2 -12.1 1.2 -8.6 1.2 -2.9 1.2 0.1 1.2 1.2 1.2 3.7 1.2 9.9 1.2 11.2 1.2 6.5 1.2 3.8 1.2 2.5 1.2 5.5 1.2 -3.3 1.2 -4.3 1.2 -1 1.2 -2.6 1.2 1.8 1.2 -3.6 1.2 -8.1 1.2 -3 1.2 -4.1 1.2 -4.1 1.2 0.7 1.2 -1.4 1.2 1.5 1.2 6.4 1.2 4.1 1.2 8.8 1.2 8.6 1.2 4.1 1.2 3.8 1.2 0.4 1.2 -2.1 1.2 -8.6 1.2 -7.2 1.2 -10.9 1.2 -11.3 1.2 -6.1 1.2 -2 1.2 -1.4 1.2 5 1.2 9.5 1.2 10.5 1.2 8.2 1.2 6.2 1.2 5.9 1.2 3 1.2 1 1.2 -2.9 1.2 -1.5 1.2 -7.3 1.2 -5.6 1.2 -8.5 1.2 -7.7 1.2 -4.6 1.2 -5.4 1.2 -5.4 1.2 3.7 1.2 2.1 1.2 0.6 1.2 9.9 1.2 7 1.2 9 1.2 7.4 1.2 6.8 1.2 5.9 1.2 -1.6 1.2 -0.6 1.2 -5 1.2 -13.2 1.2 -9.7 1.2 -13.6 1.2 -13.4 1.2 -5 1.2 -1.3 1.2 2.4 1.2 9.1 1.2 11.6 1.2 16.1 1.2 12 1.2 4.9 1.2 7.5 1.2 1.5 1.2 -5.2 1.2 -10.5 1.2 -10.1 1.2 -8.5 1.2 -7.8 1.2 0.8 1.2 -1.2 1.2 -2.2 1.2 0.3 1.2 0.6 1.2 5.3 1.2 1 1.2 5.7 1.2 6.4 1.2 5.4 1.2 2.1 1.2 3.9 1.2 -1.5 1.2 -0.4 1.2 2.8 1.2 -1.5 1.2 -9.2 1.2 -5.9 1.2 -7.4 1.2 -5.3 1.2 -4.9 1.2 2.6 1.2 -4.6 1.2 4.4 1.2 8 1.2 7.3 1.2 7.5 1.2 1.9 1.2 5.8 1.2 0.1 1.2 -3.4 1.2 -5.1 1.2 -1.3 1.2 -8.9 1.2 -0.3 1.2 -4.8 1.2 -4 1.2 -6.4 1.2 1 1.2 1.9 1.2 2.2 1.2 7.6 1.2 1 1.2 2.8 1.2 3.4 1.2 2.7 1.2 1.2 1.2 1.1 1.2 1.1 1.2 -3.5 1.2 -2.4 1.2 -1.3 1.2 0.1 1.2 -3.9 1.2 -0.7 1.2 -4 1.2 0.1 1.2 -3.7 1.2 2.5 1.2 2.3 1.2 5.7 1.2 5.9 1.2 1.1 1.2 7 1.2 2.4 1.2 0.7 1.2 -0.5 1.2 -2.9 1.2 -3.4 1.2 -8.6 1.2 -6.6 1.2 0.2 1.2 -3.8 1.2 -1.7 1.2 5.2 1.2 5.5 1.2 4 1.2 1.9 1.2 2.2 1.2 2.8 1.2 -1.8 1.2 -2.1 1.2 0 1.2 2.1 1.2 1.3 1.2 -2.6 1.2 0.4 1.2 -2.1 1.2 -1.2 1.2 -2.6 1.2 -6.2 1.2 1.4 1.2 -3.5 1.2 -2.8 1.2 -0.7 1.2 6.4 1.2 8.1 1.2 7.2 1.2 4.5 1.2 1 1.2 -0.3 1.2 1.2 1.2 -0.8 1.2 -4.8 1.2 -8.1 1.2 -3.9 1.2 -5.1 1.2 -5.8 1.2 -0.6 1.2 4.1 1.2 4.4 1.2 7.3 1.2 2 1.2 4.9 1.2 8.3 1.2 -1.7 1.2 1.2 1.2 -0.3 1.2 -3 1.2 -0.5 1.2 -3.1 1.2 0.1 1.2 -1.7 1.2 -5.9 1.2 -3.3 1.2 -2.4 1.2 -1.1 1.2 0.3 1.2 0 1.2 1.5 1.2 3.8 1.2 5.3 1.2 7.1 1.2 -0.1 1.2 2.2 1.2 6.8 1.2 2.7 1.2 -4.4 1.2 -2.1 1.2 -5.6 1.2 -10.8 1.2 -8.3 1.2 -4.3 1.2 -3.4 1.2 -1.6 1.2 -0.1 1.2 9.2 1.2 3.7 1.2 5.9 1.2 4.8 1.2 4 1.2 1.8 1.2 2.4 1.2 -3.4 1.2 -5.5 1.2 -4.2 1.2 -2.1 1.2 -3 1.2 -1.1 1.2 0.7 1.2 -4.9 1.2 -2.6 1.2 -2.7 1.2 -2.1 1.2 5.1 1.2 1.3 1.2 6.1 1.2 6.2 1.2 3.8 1.2 1.8 1.2 4.7 1.2 2.2 1.2 -4.3 1.2 -5.2 1.2 -4 1.2 -3.9 1.2 -5.9 1.2 -5.8 1.2 -3.4 1.2 0.7 1.2 -0.7 1.2 3.7 1.2 6.4 1.2 2.5 1.2 4.2 1.2 5.9 1.2 7.4 1.2 -5.1 1.2 -6.7 1.2 -3.5 1.2 -1.7 1.2 -2.4 1.2 -3.7 1.2 -2.3 1.2 0.6 1.2 -3.8 1.2 4.7 1.2 0.7 1.2 1.8 1.2 0.5 1.2 -0.7 1.2 -1.1 1.2 5 1.2 5.5 1.2 2.9 1.2 3.9 1.2 2.7 1.2 -3.8 1.2 -2.3 1.2 -4.3 1.2 -2.4 1.2 -6.7 1.2 -2.3 1.2 -2.2 1.2 -4.7 1.2 0.1 1.2 3.6 1.2 1.9 1.2 6.3 1.2 6.9 1.2 1.5 1.2 1 1.2 2.8 1.2 0.6 1.2 -3.9 1.2 -3 1.2 -3.7 1.2 -7.7 1.2 -1.5 1.2 2.3 1.2 0.4 1.2 0.3 1.2 -2.6 1.2 3.4 1.2 1.9 1.2 -2.8 1.2 3.8 1.2 2.5 1.2 2.6 1.2 -0.5 1.2 2.9 1.2 1.3 1.2 3.8 1.2 -0.3 1.2 -3.5 1.2 -2.2 1.2 -4.7 1.2 -5.2 1.2 -0.9 1.2 -4.6 1.2 -0.7 1.2 3.3 1.2 1.1 1.2 4.3 1.2 6.7 1.2 5.8 1.2 5.3 1.2 1.3 1.2 -1.8 1.2 -3.1 1.2 -2.7 1.2 -4.4 1.2 -2.3 1.2 -6.1 1.2 -3.8 1.2 2 1.2 -1.3 1.2 -1 1.2 4.5 1.2 3.6 1.2 4.4 1.2 1.7 1.2 1 1.2 1 1.2 1 1.2 1.1 1.2 -0.9 1.2 -0.9 1.2 -2 1.2 1.6 1.2 -0.5 1.2 -4.6 1.2 -2.5 1.2 -4.9 1.2 2.1 1.2 -1.1 1.2 -2.4 1.2 2.5 1.2 2.2 1.2 6.5 1.2 6.6 1.2 4.7 1.2 -2.3 1.2 0.5 1.2 1.9 1.2 -3.6 1.2 -3.5 1.2 -5.9 1.2 -2.9 1.2 -1.8 1.2 -8.5 1.2 -4.4 1.2 3.3 1.2 0.1 1.2 5.5 1.2 2.3 1.2 4.7 1.2 6.1 1.2 4 1.2 -0.9 1.2 -2.3 1.2 -0.1 1.2 -2.5 1.2 -6.5 1.2 -3 1.2 -3.2 1.2 0.4 1.2 -3.2 1.2 -0.5 1.2 0.7 1.2 -0.9 1.2 -2.9 1.2 2.3 1.2 4.1 1.2 8 1.2 4.9 1.2 2.1 1.2 3.2 1.2 2.9 1.2 -1.9 1.2 -3.5 1.2 0.8 1.2 -6.5 1.2 -7.8 1.2 -8.5 1.2 -6.7 1.2 1.7 1.2 1.2 1.2 3.2 1.2 6.9 1.2 0.3 1.2 7.2 1.2 3.5 1.2 0.4 1.2 2.4 1.2 0.1 1.2 0.6 1.2 -0.9 1.2 -2.6 1.2 -5.4 1.2 -4.1 1.2 -1.7 1.2 -0.4 1.2 0.9 1.2 -0.4 1.2 0.6 1.2 0 1.2 -0.8 1.2 1.7 1.2 0.7 1.2 5 1.2 -0.3 1.2 2.5 1.2 4.5 1.2 1 1.2 -4.2 1.2 -2.5 1.2 0.6 1.2 -1.1 1.2 -7.4 1.2 -2.7 1.2 -3.1 1.2 1 1.2 2.7 1.2 2.7 1.2 5.1 1.2 1.2 1.2 0.9 1.2 3.8 1.2 5.6 1.2 -0.4 1.2 -4 1.2 -5.4 1.2 -1.7 1.2 -0.7 1.2 -5.4 1.2 -1.6 1.2 2.2 1.2 4.6 1.2 -1.8 1.2 -1 1.2 3.7 1.2 1.6 1.2 0.1 1.2 -2 1.2 3.6 1.2 1.3 1.2 -1.3 1.2 1.1 1.2 -0.7 1.2 6 1.2 1.4 1.2 -1 1.2 -5.3 1.2 -6.9 1.2 -2.8 1.2 -3 1.2 0.9 1.2 -2.4 1.2 1.9 1.2 6.3 1.2 3.6 1.2 3 1.2 3.6 1.2 3 1.2 -0.9 1.2 2.3 1.2 -4.3 1.2 -7.5 1.2 0.5 1.2 -1.9 1.2 -4.7 1.2 -4.2 1.2 -0.2 1.2 -0.4 1.2 3.2 1.2 1.5 1.2 4 1.2 1.2 1.2 2.7 1.2 -0.6 1.2 0.2 1.2 3 1.2 3.8 1.2 3.9 1.2 -3.2 1.2 0.9 1.2 -1.5 1.2 -3.3 1.2 1.1 1.2 -9.4 1.2 -9.1 1.2 -3.9 1.2 -2.8 1.2 2.8 1.2 1.6 1.2 4.8 1.2 3.1 1.2 8.4 1.2 7.7 1.2 2.4 1.2 4.6 1.2 -1.9 1.2 -4.6 1.2 -4.7 1.2 -6.7 1.2 -4.9 1.2 -2.5 1.2 3.1 1.2 0 1.2 1.9 1.2 2.9 1.2 0.2 1.2 2.4 1.2 3 1.2 0 1.2 -1.1 1.2 -1.6 1.2 -2.5 1.2 -0.6 1.2 -0.4 1.2 -2 1.2 4.5 1.2 0.8 1.2 0.1 1.2 -0.5 1.2 -4 1.2 -4.9 1.2 -2.4 1.2 0.6 1.2 0.8 1.2 0.5 1.2 4.4 1.2 5.3 1.2 7.8 1.2 1.4 1.2 -1.4 1.2 -3.7 1.2 -0.6 1.2 -2.9 1.2 -3.6 1.2 -2.1 1.2 -1.4 1.2 -1.7 1.2 2.2 1.2 0 1.2 -0.3 1.2 6.9 1.2 1.5 1.2 0.6 1.2 -0.2 1.2 -0.7 1.2 1.2 1.2 -2.6 1.2 -0.6 1.2 -2.1 1.2 0.3 1.2 -1.7 1.2 2.3 1.2 3.6 1.2 -2.1 1.2 0.5 1.2 -3.8 1.2 -4.1 1.2 3.5 1.2 -2.2 1.2 -1.6 1.2 6.2 1.2 4.6 1.2 2.9 1.2 0.7 1.2 1.6 1.2 4.5 1.2 3.5 1.2 -4.2 1.2 -6.5 1.2 -4.4 1.2 -5.6 1.2 -3.2 1.2 -2 1.2 -1.4 1.2 3.3 1.2 5 1.2 2.9 1.2 5.8 1.2 1.1 1.2 1.4 1.2 -2.2 1.2 -0.9 1.2 1.7 1.2 -2.8 1.2 -0.8 1.2 -3.7 1.2 4.2 1.2 -0.2 1.2 -0.8 1.2 0.9 1.2 2.8 1.2 -1.3 1.2 -4.5 1.2 -2.2 1.2 1.1 1.2 -3.2 1.2 0.7 1.2 1.7 1.2 1.4 1.2 7.1 1.2 1.1 1.2 -2.5 1.2 1.3 1.2 0.4 1.2 -4.5 1.2 -2 1.2 -4.5 1.2 -2.8 1.2 -2.2 1.2 -1.5 1.2 2.8 1.2 5.2 1.2 4.8 1.2 0.5 1.2 2 1.2 0.7 1.2 -0.8 1.2 -3.8 1.2 0.6 1.2 -3.5 1.2 0 1.2 -1.7 1.2 -1.9 1.2 -4.4 1.2 2.7 1.2 2.9 1.2 -0.1 1.2 -0.5 1.2 0.5 1.2 -0.6 1.2 1.8 1.2 3.2 1.2 -0.8 1.2 2 1.2 -1.1 1.2 0.8 1.2 4.9 1.2 1.5 1.2 -4.7 1.2 -1.5 1.2 -0.2 1.2 -4.7 1.2 -3.8 1.2 0.1 1.2 1.2 1.2 1.4 1.2 3.6 1.2 0.4 1.2 1.2 1.2 4.4 1.2 0.6 1.2 0 1.2 -1.4 1.2 -2.7 1.2 -0.1 1.2 -0.6 1.2 -4.2 1.2 -3.8 1.2 2.7 1.2 -0.5 1.2 1 1.2 0.8 1.2 2 1.2 0.8 1.2 -3.1 1.2 0.5 1.2 2.6 1.2 2.2 1.2 -0.2 1.2 -2.4 1.2 2.1 1.2 0.8 1.2 0.4 1.2 -2.4 1.2 0.3 1.2 -3.5 1.2 -2.6 1.2 -1 1.2 -1.2 1.2 -1.1 1.2 -5 1.2 1.9 1.2 0 1.2 6.7 1.2 7.3 1.2 2.4 1.2 4.6 1.2 -0.4 1.2 -1.1 1.2 -0.6 1.2 -1.5 1.2 -4.9 1.2 -1.3 1.2 -8.4 1.2 0.6 1.2 -0.7 1.2 1 1.2 2.6 1.2 1.7 1.2 -1.2 1.2 6.7 1.2 4.2 1.2 1.4 1.2 -0.3 1.2 -2.3 1.2 0.6 1.2 -4.7 1.2 1.8 1.2 1.4 1.2 -5 1.2 -1.1 1.2 -3.7 1.2 -4.4 1.2 -1.9 1.2 0.3" fill="none" stroke="#41733d" stroke-width="5.7" stroke-linejoin="round" stroke-linecap="round"/>
<path d="M297.1 1528.8l229.9 0 0.7 4.6 0.7 5.1 0.7 5.5 0.7 5.9 0.7 6 0.7 6.1 0.7 6.1 0.7 6.3 0.7 6.6 0.7 7.2 0.7 7.5 0.7 7.8 0.7 8.5 0.7 9.3 0.7 9.7 0.7 9.9 0.7 10 0.7 10.5 0.7 11.1 0.7 11.8 0.7 12.4 0.7 12.2 0.7 11.4 0.7 10.6 0.7 10.5 0.7 10.8 0.7 11.4 0.7 11.7 0.7 11.4 0.7 11.3 0.7 10.8 0.7 10.1 0.7 9.7 0.7 10.4 0.7 11.4 0.7 11.2 0.7 10.3 0.7 9.2 0.7 8.6 0.7 8.6 0.7 9 0.7 9.2 0.7 8.4 0.7 7.6 0.7 7 0.7 6.7 0.7 6.2 0.7 5.6 0.7 5 0.7 4.3 0.7 3.8 0.7 3.3 0.7 3.2 0.7 3.1 0.7 2.7 0.7 2.3 0.7 1.8 0.7 1.8 0.7 1.9 0.7 2.3 0.7 2.5 0.7 2.9 0.7 3.2 0.7 3 0.7 6.2 0.7 11.4 0.7 14.7 0.7 15.1 0.7 11.2 0.7 7.5 0.7 5.8 0.7 4.7 0.7 4.5 0.7 4.5 0.7 4.9 0.7 5.4 0.7 6.3 0.7 7 0.7 5.7 0.7 2.2 0.7 -1.5 0.7 -3.8 0.7 -5.5 0.7 -5.9 0.7 -5.8 0.7 -5.8 0.7 -5.9 0.7 -5.6 0.7 -4.7 0.7 -3.4 0.7 -2 0.7 -0.1 0.7 1.8 0.7 3.7 0.7 4.9 0.7 5.2 0.7 5.3 0.7 5.8 0.7 6.5 0.7 6.7 0.7 5.9 0.7 4.1 0.7 2.2 0.7 0.7 0.7 0.7 0.7 0.7 0.7 0.9 0.7 1.1 0.7 1.2 0.7 0.8 0.7 0.5 0.7 0.4 0.7 0.5 0.7 0.4 0.7 0.5 0.7 0.3 0.7 0.3 0.7 0.7 0.7 1.5 0.7 2.2 0.7 1.6 0.7 0.3 0.7 -0.5 0.7 -0.4 0.7 -0.2 0.7 0.1 0.7 0.3 0.7 0.1 0.7 -0.3 0.7 -0.3 0.7 0.4 0.7 0.8 0.7 0.9 0.7 0.2 0.7 -0.7 0.7 -1.6 0.7 -2.1 0.7 -2 0.7 -2.2 0.7 -2.5 0.7 -3 0.7 -3.4 0.7 -3.9 0.7 -3.6 0.7 -3.3 0.7 -3.1 0.7 -2.8 0.7 -2.5 0.7 -2.5 0.7 -2.3 0.7 -1.9 0.7 -1.2 0.7 -0.2 0.7 1.1 0.7 2.5 0.7 3.4 0.7 4 0.7 4.2 0.7 4.4 0.7 4.4 0.7 4.6 0.7 5 0.7 5.6 0.7 6.3 0.7 6.7 0.7 6.9 0.7 6.4 0.7 5.9 0.7 5.5 0.7 5.7 0.7 5.8 0.7 5.6 0.7 4.8 0.7 3.7 0.7 2.4 0.7 1.2 0.7 0.2 0.7 -0.8 0.7 -1.9 0.7 -2.6 0.7 -3.4 0.7 -4.5 0.7 -5.2 0.7 -5.6 0.7 -6 0.7 -6.3 0.7 -6.3 0.7 -6.2 0.7 -7 0.7 -7.8 0.7 -7.8 0.7 -7.2 0.7 -6.9 0.7 -6.8 0.7 -6.9 0.7 -6.3 0.7 -5.6 0.7 -4.4 0.7 -3.2 0.7 -2.1 0.7 -1.4 0.7 -0.5 0.7 0.4 0.7 1.5 0.7 2.1 0.7 2.5 0.7 2.6 0.7 3.2 0.7 3.8 0.7 4.1 0.7 4.2 0.7 4.6 0.7 5.2 0.7 5.6 0.7 5.9 0.7 5.8 0.7 5.2 0.7 4.6 0.7 4.5 0.7 4.8 0.7 5 0.7 4.8 0.7 4.3 0.7 3.6 0.7 2.7 0.7 1.7 0.7 1.1 0.7 0.8 0.7 0.6 0.7 -0.4 0.7 -1.8 0.7 -2.9 0.7 -3.9 0.7 -4.9 0.7 -5.7 0.7 -6.2 0.7 -6.8 0.7 -7.4 0.7 -7.5 0.7 -7 0.7 -6.3 0.7 -5.8 0.7 -5 0.7 -3.7 0.7 -2.1 0.7 -0.7 0.7 0.3 0.7 0.6 0.7 0.8 0.7 1.3 0.7 2 0.7 2.4 0.7 2.5 0.7 3.1 0.7 3.9 0.7 4.2 0.7 4.1 0.7 4 0.7 4 0.7 4.1 0.7 4.1 0.7 3.6 0.7 3 0.7 2.5 0.7 2.3 0.7 2.3 0.7 2.5 0.7 2.3 0.7 2.1 0.7 2 0.7 1.8 0.7 2 0.7 2.2 0.7 2.4 0.7 2.4 0.7 2.5 0.7 2 0.7 1.4 0.7 0.6 0.7 0.2 0.7 0.6 0.7 1.1 0.7 1 0.7 0.5 0.7 0 0.7 0 0.7 -0.2 0.7 -1.2 0.7 -2.3 0.7 -3.3 0.7 -3.4 0.7 -3.5 0.7 -3.8 0.7 -4.8 0.7 -5.4 0.7 -5.8 0.7 -5.7 0.7 -5.3 0.7 -5.1 0.7 -5.1 0.7 -5.1 0.7 -5.5 0.7 -5.7 0.7 -5.5 0.7 -5.3 0.7 -4.8 0.7 -4 0.7 -2.8 0.7 -1.8 0.7 -1.6 0.7 -1.8 0.7 -1.8 0.7 -1.2 0.7 0.5 0.7 2.3 0.7 3.7 0.7 4.3 0.7 4.6 0.7 4.7 0.7 4.8 0.7 4.8 0.7 5.3 0.7 6.7 0.7 7.8 0.7 8 0.7 7.5 0.7 6.9 0.7 6.1 0.7 5.6 0.7 5.1 0.7 4.8 0.7 4.1 0.7 3.3 0.7 1.9 0.7 0.4 0.7 -0.7 0.7 -1.2 0.7 -1.9 0.7 -2.9 0.7 -4.3 0.7 -5.3 0.7 -5.5 0.7 -5.6 0.7 -5.7 0.7 -5.2 0.7 -4.4 0.7 -4 0.7 -4 0.7 -4.3 0.7 -4.8 0.7 -5.2 0.7 -5.3 0.7 -4.6 0.7 -3.9 0.7 -3 0.7 -2.5 0.7 -1.8 0.7 -0.9 0.7 -0.3 0.7 0 0.7 0.1 0.7 -0.2 0.7 -0.2 0.7 -0.2 0.7 -0.1 0.7 0.3 0.7 0.1 0.7 -0.3 0.7 -0.9 0.7 -1 0.7 -0.8 0.7 -0.4 0.7 -0.1 0.7 0.3 0.7 0.5 0.7 0.9 0.7 1.4 0.7 1.8 0.7 2.6 0.7 3.8 0.7 4.9 0.7 5.9 0.7 6.3 0.7 6.2 0.7 5.7 0.7 5.1 0.7 4.9 0.7 4.9 0.7 4.9 0.7 5.3 0.7 5.7 0.7 5.7 0.7 4.9 0.7 3.7 0.7 3 0.7 2.9 0.7 2.7 0.7 2 0.7 0.7 0.7 -0.6 0.7 -1.1 0.7 -0.9 0.7 -0.8 0.7 -0.8 0.7 -1.6 0.7 -2.6 0.7 -3.1 0.7 -3.2 0.7 -3.4 0.7 -3.9 0.7 -3.9 0.7 -3.9 0.7 -4.7 0.7 -6.2 0.7 -7.6 0.7 -7.6 0.7 -6.3 0.7 -4.9 1.6 -1.6 1.2 -1 1.2 -1.7 1.2 -1.9 1.2 -1.4 1.2 -0.1 1.2 0.3 1.2 3.1 1.2 6 1.2 9.3 1.2 9.5 1.2 11.2 1.2 10.8 1.2 9.1 1.2 9.9 1.2 0.4 1.2 -0.3 1.2 -0.3 1.2 -3.7 1.2 -6 1.2 -7.7 1.2 -9.1 1.2 -5.4 1.2 -10.4 1.2 -9.6 1.2 -7.7 1.2 -6.7 1.2 -6.3 1.2 -6 1.2 -10.6 1.2 -10.1 1.2 -2.7 1.2 -5 1.2 -0.5 1.2 2.1 1.2 0.2 1.2 -2.1 1.2 6.6 1.2 12.1 1.2 13 1.2 13.2 1.2 14.5 1.2 13.3 1.2 19.3 1.2 9.7 1.2 8.8 1.2 6.2 1.2 5.4 1.2 0.6 1.2 -7.4 1.2 -8.4 1.2 -10.7 1.2 -15.8 1.2 -11.1 1.2 -9.6 1.2 -3.4 1.2 -7.7 1.2 -7.8 1.2 -6.9 1.2 -7.9 1.2 -11.1 1.2 -3 1.2 -3.3 1.2 -4 1.2 -0.8 1.2 -0.3 1.2 -2 1.2 2.8 1.2 8.1 1.2 5.2 1.2 10.6 1.2 14.8 1.2 10.6 1.2 11.5 1.2 11.4 1.2 10.2 1.2 10.6 1.2 -0.7 1.2 0.3 1.2 -5.2 1.2 -1.2 1.2 -4.6 1.2 -5.1 1.2 -9 1.2 -0.7 1.2 -7.5 1.2 -2.6 1.2 -6.6 1.2 -2.9 1.2 -2.7 1.2 -6 1.2 -4.3 1.2 -6.9 1.2 -4.8 1.2 -2 1.2 -3.2 1.2 -6.8 1.2 -3 1.2 0.4 1.2 -0.1 1.2 9.4 1.2 12.3 1.2 6.4 1.2 6.7 1.2 12.8 1.2 10.4 1.2 6.4 1.2 8.8 1.2 8.9 1.2 -0.4 1.2 -2.3 1.2 -1.4 1.2 1.8 1.2 -1 1.2 -5.8 1.2 -3.8 1.2 -9.4 1.2 -2.4 1.2 -2.9 1.2 -2.9 1.2 -5 1.2 -10.6 1.2 -8.6 1.2 -6.4 1.2 -9.8 1.2 -12.3 1.2 -5.6 1.2 -1.1 1.2 -4.2 1.2 -1.9 1.2 3.9 1.2 7.8 1.2 7.6 1.2 8 1.2 14 1.2 18.5 1.2 9.2 1.2 10.5 1.2 7 1.2 10.6 1.2 3.9 1.2 6.8 1.2 1.5 1.2 -0.6 1.2 -3.5 1.2 -2.4 1.2 -4.2 1.2 -5.3 1.2 -12.3 1.2 -4 1.2 -3.8 1.2 -6.5 1.2 -8.9 1.2 -14.1 1.2 -5.3 1.2 -9 1.2 -8.2 1.2 -6.5 1.2 -2.5 1.2 -5.7 1.2 -3 1.2 4.1 1.2 5 1.2 10.1 1.2 7.8 1.2 11.8 1.2 11.6 1.2 9.5 1.2 7.6 1.2 6.4 1.2 10.5 1.2 4.6 1.2 4.3 1.2 1.4 1.2 -2 1.2 -1.1 1.2 -3.2 1.2 -5.6 1.2 -4.7 1.2 -1.1 1.2 -4.2 1.2 -6 1.2 -7.9 1.2 -3.1 1.2 -7.7 1.2 -6.6 1.2 -6.9 1.2 -9.2 1.2 -4.8 1.2 -3.3 1.2 -7 1.2 -3.7 1.2 -5.1 1.2 3.8 1.2 7.4 1.2 1.9 1.2 8.7 1.2 14.1 1.2 9.3 1.2 4.8 1.2 12.7 1.2 5.8 1.2 12.4 1.2 7.8 1.2 1.8 1.2 -0.1 1.2 -2.6 1.2 0.5 1.2 -5 1.2 -4.6 1.2 -4 1.2 -3.5 1.2 -3.2 1.2 -2.9 1.2 -7.9 1.2 -5.6 1.2 -7.2 1.2 -13.9 1.2 -4.4 1.2 -6.4 1.2 -8.1 1.2 -3.7 1.2 -1.2 1.2 0 1.2 -0.3 1.2 4.3 1.2 3.4 1.2 4.9 1.2 6.3 1.2 8 1.2 12.1 1.2 9.5 1.2 7.2 1.2 4.9 1.2 8.4 1.2 2.9 1.2 2 1.2 -0.1 1.2 0.4 1.2 -1.4 1.2 -5.8 1.2 -2.1 1.2 -2 1.2 -4.8 1.2 -3.3 1.2 -5.8 1.2 -5.9 1.2 -6 1.2 -7.3 1.2 -2.5 1.2 -4.3 1.2 -8.1 1.2 -4.5 1.2 -2 1.2 2.5 1.2 -2 1.2 5.8 1.2 7.3 1.2 3.4 1.2 7.5 1.2 1.8 1.2 1.8 1.2 6.7 1.2 8.9 1.2 6.1 1.2 0.5 1.2 -0.5 1.2 1.1 1.2 -3.3 1.2 3.4 1.2 -2.4 1.2 -1.3 1.2 0.4 1.2 0.2 1.2 -1.8 1.2 -2.9 1.2 0.5 1.2 -5.4 1.2 -3.8 1.2 -4.7 1.2 -6.4 1.2 -3.4 1.2 -1.6 1.2 -0.5 1.2 -7.2 1.2 -6.7 1.2 6.4 1.2 2.5 1.2 -2.4 1.2 1.4 1.2 7.1 1.2 2.7 1.2 7.3 1.2 6.4 1.2 7.4 1.2 6 1.2 5 1.2 -0.7 1.2 -1.5 1.2 1.2 1.2 0.7 1.2 3.2 1.2 0.2 1.2 -2.3 1.2 -2.7 1.2 2.8 1.2 -2.1 1.2 -4.3 1.2 -4.2 1.2 -1.7 1.2 -6.2 1.2 -2.7 1.2 -4.8 1.2 -5.4 1.2 -3.5 1.2 -6.5 1.2 -2 1.2 -2.3 1.2 0.7 1.2 1.1 1.2 2.1 1.2 5 1.2 2 1.2 6.2 1.2 7.6 1.2 0.5 1.2 7.2 1.2 3.6 1.2 3 1.2 1 1.2 4 1.2 -0.8 1.2 2.8 1.2 -1.7 1.2 -1.4 1.2 -2.3 1.2 4.6 1.2 -2 1.2 -2.7 1.2 -4.1 1.2 -1.4 1.2 2.4 1.2 -3.8 1.2 -6.1 1.2 -4.7 1.2 -8.9 1.2 -4.8 1.2 -5.3 1.2 -0.2 1.2 0.1 1.2 -0.8 1.2 -0.1 1.2 4.3 1.2 3.7 1.2 3.4 1.2 6.7 1.2 6 1.2 3.5 1.2 1.8 1.2 5.6 1.2 1.6 1.2 -0.7 1.2 2 1.2 0.7 1.2 -0.8 1.2 -0.2 1.2 -1.1 1.2 -0.4 1.2 3.2 1.2 -1.9 1.2 1.2 1.2 -4.3 1.2 -3.3 1.2 0.5 1.2 -8.2 1.2 -8.5 1.2 -7 1.2 -2.1 1.2 -1.4 1.2 -3.2 1.2 -3.4 1.2 -0.6 1.2 1.7 1.2 4.1 1.2 3 1.2 3.4 1.2 4.3 1.2 7.4 1.2 -1.3 1.2 4.7 1.2 3.3 1.2 1.4 1.2 1.5 1.2 0.3 1.2 -0.4 1.2 2.6 1.2 0.3 1.2 -0.6 1.2 -2.3 1.2 0.8 1.2 1.9 1.2 2.4 1.2 -0.5 1.2 -3.4 1.2 -5.3 1.2 -4.3 1.2 -2.8 1.2 -3.8 1.2 -4.6 1.2 -5 1.2 -2.2 1.2 -0.2 1.2 0.5 1.2 0.9 1.2 -0.8 1.2 0.9 1.2 2.9 1.2 4.1 1.2 1.1 1.2 2.1 1.2 5.3 1.2 5.2 1.2 2.4 1.2 -0.6 1.2 0 1.2 -2.9 1.2 -1 1.2 4.4 1.2 -2.1 1.2 -2.2 1.2 1.5 1.2 0.3 1.2 2.3 1.2 1.7 1.2 -1 1.2 -0.2 1.2 -1.6 1.2 -2.3 1.2 -8.7 1.2 -3.2 1.2 -3.8 1.2 -0.8 1.2 1.1 1.2 1.1 1.2 -1.4 1.2 2.4 1.2 -0.2 1.2 0.9 1.2 5.9 1.2 1.7 1.2 -0.2 1.2 5.2 1.2 2.4 1.2 -1.9 1.2 1.1 1.2 -4.3 1.2 1.5 1.2 2.5 1.2 2.1 1.2 2.8 1.2 0.5 1.2 0.7 1.2 -1 1.2 0.3 1.2 -0.4 1.2 -3 1.2 1.7 1.2 -4.6 1.2 -0.2 1.2 -1.9 1.2 -5.5 1.2 -6.2 1.2 1 1.2 0.2 1.2 -4.7 1.2 -0.1 1.2 -0.7 1.2 -2.1 1.2 0.7 1.2 5.6 1.2 2.4 1.2 2.5 1.2 6.7 1.2 0.5 1.2 1.9 1.2 0.9 1.2 3.8 1.2 0 1.2 0.8 1.2 1.8 1.2 0.4 1.2 3.2 1.2 0.2 1.2 1.6 1.2 -0.7 1.2 -5.9 1.2 -0.5 1.2 -1.7 1.2 1.2 1.2 -0.2 1.2 -3.4 1.2 -3.4 1.2 -4.6 1.2 -6.5 1.2 -1.9 1.2 -6.4 1.2 -1.2 1.2 3.8 1.2 -2.4 1.2 0 1.2 3.5 1.2 4.7 1.2 3 1.2 2.2 1.2 4.5 1.2 2.9 1.2 2.2 1.2 3.8 1.2 -1.5 1.2 5 1.2 -0.1 1.2 0.5 1.2 1.7 1.2 3.6 1.2 3.3 1.2 -0.9 1.2 -0.1 1.2 0.6 1.2 -1.7 1.2 -3.8 1.2 -2 1.2 -4.8 1.2 -4.4 1.2 -5.9 1.2 -3.4 1.2 -5.3 1.2 -5.7 1.2 -2.1 1.2 -2.2 1.2 1.6 1.2 4.3 1.2 0 1.2 4.2 1.2 0.8 1.2 3.2 1.2 2.1 1.2 6.9 1.2 4.6 1.2 -0.7 1.2 4 1.2 1.5 1.2 -0.1 1.2 3.5 1.2 -1.2 1.2 1.2 1.2 3.4 1.2 4.4 1.2 2.7 1.2 -3.1 1.2 -3.2 1.2 -0.7 1.2 0.7 1.2 -6.1 1.2 -7.9 1.2 0.2 1.2 -8.1 1.2 -8.3 1.2 -3.4 1.2 -2.6 1.2 -0.5 1.2 -0.5 1.2 0.6 1.2 5.5 1.2 5.9 1.2 0.6 1.2 5.9 1.2 3.9 1.2 4 1.2 -0.5 1.2 1.9 1.2 1.9 1.2 0.2 1.2 1.6 1.2 -1.3 1.2 -0.4 1.2 -2.5 1.2 3.5 1.2 2.4 1.2 1.2 1.2 -2.4 1.2 -1.6 1.2 0.7 1.2 0.9 1.2 -5.5 1.2 -4.6 1.2 -2.8 1.2 -5.6 1.2 -2.1 1.2 -1 1.2 -6.9 1.2 -4.1 1.2 -0.2 1.2 4.8 1.2 1.1 1.2 -1.3 1.2 3.5 1.2 4.2 1.2 0 1.2 2 1.2 2.4 1.2 5.8 1.2 4.1 1.2 -0.1 1.2 0.5 1.2 2.8 1.2 -1.7 1.2 -0.1 1.2 0.2 1.2 1.1 1.2 -0.6 1.2 5.5 1.2 -3.7 1.2 1.2 1.2 -1.2 1.2 -1.9 1.2 -8.3 1.2 -6 1.2 -3.1 1.2 -3.7 1.2 -2.5 1.2 -2.5 1.2 0.2 1.2 -2.2 1.2 5.5 1.2 0 1.2 2.3 1.2 1.7 1.2 3.4 1.2 -1.4 1.2 1.6 1.2 2.7 1.2 0.6 1.2 -0.1 1.2 2.5 1.2 2.8 1.2 0.9 1.2 4.3 1.2 -1.9 1.2 3.4 1.2 0.4 1.2 2.9 1.2 0.8 1.2 -1.2 1.2 -0.2 1.2 -3.2 1.2 0.9 1.2 -5.3 1.2 -5.3 1.2 -7.8 1.2 -5.6 1.2 -4.4 1.2 0.1 1.2 1.6 1.2 -1.5 1.2 -1 1.2 2.6 1.2 4.2 1.2 1.1 1.2 4.6 1.2 2.7 1.2 3.1 1.2 2.1 1.2 -3.5 1.2 -1.8 1.2 5.3 1.2 -1.8 1.2 0 1.2 6.2 1.2 4 1.2 2.2 1.2 -0.7 1.2 -2.1 1.2 2 1.2 3.5 1.2 0.7 1.2 -5.6 1.2 -1.9 1.2 -4.7 1.2 -3.1 1.2 -1.3 1.2 -2.9 1.2 -3.7 1.2 -2.7 1.2 -3 1.2 -3.5 1.2 0.3 1.2 3.5 1.2 0.9 1.2 3.5 1.2 2.1 1.2 1.8 1.2 0.9 1.2 4.5 1.2 2.2 1.2 -4.1 1.2 -0.8 1.2 2.2 1.2 2.3 1.2 2.9 1.2 0.6 1.2 4.2 1.2 -3.1 1.2 0.5 1.2 2.9 1.2 -0.2 1.2 1.4 1.2 -1 1.2 -1.2 1.2 -2.2 1.2 -3.8 1.2 -3.2 1.2 -5.6 1.2 -4.1 1.2 -0.9 1.2 -3.2" fill="none" stroke="#181818" stroke-width="5.7" stroke-linejoin="round" stroke-linecap="round"/>
<path d="M297.1 1528.8l229.9 0 0.7 6.6 0.7 6.8 0.7 7.1 0.7 7.9 0.7 8.7 0.7 9.1 0.7 8.9 0.7 8.9 0.7 9.2 0.7 9.4 0.7 9.5 0.7 9.9 0.7 10.3 0.7 10.7 0.7 10.5 0.7 10.2 0.7 10.2 0.7 10.6 0.7 11 0.7 11.2 0.7 10.9 0.7 10.6 0.7 10.8 0.7 10.8 0.7 10.4 0.7 9.8 0.7 10 0.7 10.5 0.7 11 0.7 11.8 0.7 13 0.7 14 0.7 14.1 0.7 14.5 0.7 15.4 0.7 16.1 0.7 15.8 0.7 14.9 0.7 14.4 0.7 13.9 0.7 13.2 0.7 13.1 0.7 14 0.7 14.9 0.7 16.1 0.7 18.7 0.7 19.3 0.7 17.1 0.7 11.3 0.7 5 0.7 3.9 0.7 3.5 0.7 3.1 0.7 2.4 0.7 1.8 0.7 1.6 0.7 1.4 0.7 1.6 0.7 2.1 0.7 3.1 0.7 4.2 0.7 4.9 0.7 4.8 0.7 4.3 0.7 3.7 0.7 3.3 0.7 3 0.7 2.6 0.7 1.9 0.7 1.1 0.7 0.6 0.7 0.2 0.7 -0.8 0.7 -2.1 0.7 -3.1 0.7 -3.3 0.7 -3.1 0.7 -3.2 0.7 -3.8 0.7 -4.2 0.7 -4.3 0.7 -4.1 0.7 -3.7 0.7 -3.1 0.7 -2.8 0.7 -3.4 0.7 -3.8 0.7 -3.6 0.7 -3.1 0.7 -2.7 0.7 -2.4 0.7 -2.3 0.7 -2.2 0.7 -1.9 0.7 -1.3 0.7 -0.3 0.7 0.4 0.7 1 0.7 1.4 0.7 1.8 0.7 2 0.7 1.7 0.7 1.3 0.7 1.3 0.7 1.9 0.7 2.5 0.7 2.4 0.7 1.9 0.7 1.2 0.7 0.7 0.7 0 0.7 -0.5 0.7 -0.8 0.7 -0.2 0.7 0.1 0.7 -0.3 0.7 -0.9 0.7 -1.2 0.7 -1.4 0.7 -1.8 0.7 -2.2 0.7 -2.4 0.7 -1.8 0.7 -0.6 0.7 0.8 0.7 1.9 0.7 2.4 0.7 2.5 0.7 2.4 0.7 2.2 0.7 2.4 0.7 2.4 0.7 2.4 0.7 2.1 0.7 1.5 0.7 1.2 0.7 1.6 0.7 1.5 0.7 0.7 0.7 -1.2 0.7 -2.2 0.7 -1.8 0.7 -1 0.7 -0.8 0.7 -1 0.7 -1.2 0.7 -1.3 0.7 -1.4 0.7 -1.6 0.7 -1.8 0.7 -1.6 0.7 -1.2 0.7 -0.6 0.7 -0.8 0.7 -0.7 0.7 -0.1 0.7 0.6 0.7 1 0.7 0.5 0.7 -0.9 0.7 -1.9 0.7 -1.7 0.7 -0.7 0.7 0 0.7 0.3 0.7 0.2 0.7 -0.2 0.7 -0.7 0.7 -0.5 0.7 0 0.7 0.5 0.7 0.4 0.7 -0.1 0.7 0 0.7 0.4 0.7 1.2 0.7 2 0.7 2.5 0.7 2.5 0.7 2.5 0.7 2.3 0.7 2.6 0.7 2.6 0.7 2.8 0.7 3.3 0.7 3.4 0.7 3.1 0.7 2.4 0.7 1.8 0.7 1.7 0.7 1.7 0.7 1.5 0.7 1.2 0.7 0.4 0.7 -0.4 0.7 -1.6 0.7 -2.1 0.7 -2.6 0.7 -3.1 0.7 -3.6 0.7 -4.3 0.7 -4.9 0.7 -5.2 0.7 -5.3 0.7 -5.2 0.7 -4.8 0.7 -4.6 0.7 -4.2 0.7 -3.5 0.7 -2.3 0.7 -1 0.7 -0.1 0.7 0.1 0.7 0.2 0.7 0.3 0.7 0.5 0.7 0.8 0.7 1.4 0.7 1.9 0.7 2.2 0.7 2.3 0.7 2.3 0.7 2.7 0.7 3.1 0.7 3.3 0.7 3.5 0.7 4 0.7 4.8 0.7 5.6 0.7 5.4 1.2 -1.2 1.2 -0.8 1.2 -0.8 1.2 -0.8 1.2 -0.6 1.2 0.7 1.2 -1.2 1.2 -0.3 1.2 -1 1.2 -3.8 1.2 -2 1.2 -4 1.2 -0.5 1.2 -3.2 1.2 -3 1.2 -5.9 1.2 2.6 1.2 1.7 1.2 -1.6 1.2 2 1.2 -1.3 1.2 -2.1 1.2 5.5 1.2 2.5 1.2 3.6 1.2 1.2 1.2 4.1 1.2 3.4 1.2 3.5 1.2 -0.3 1.2 -2.9 1.2 -1.7 1.2 -10.7 1.2 -5.9 1.2 -3.8 1.2 -5.7 1.2 1 1.2 1.5 1.2 1.6 1.2 3.8 1.2 1.9 1.2 3.3 1.2 3.5 1.2 -0.9 1.2 3.7 1.2 4.5 1.2 2.5 1.2 4.8 1.2 -0.8 1.2 -1.6 1.2 -3.6 1.2 -3.4 1.2 -3.8 1.2 -4.3 1.2 -8.2 1.2 -5.9 1.2 2.2 1.2 -1 1.2 -1 1.2 5.6 1.2 5 1.2 1.5 1.2 4.1 1.2 4.4 1.2 1.4 1.2 -1.5 1.2 0.8 1.2 1.4 1.2 2.8 1.2 -1.4 1.2 1.2 1.2 -5.9 1.2 2.5 1.2 -7.9 1.2 -4.7 1.2 -5 1.2 -3 1.2 -2.8 1.2 0.6 1.2 3.6 1.2 6.9 1.2 6.4 1.2 6.8 1.2 6.3 1.2 2.3 1.2 5.7 1.2 -1.3 1.2 -5.3 1.2 -5.1 1.2 -4.4 1.2 -4.4 1.2 0.4 1.2 2.1 1.2 -1.4 1.2 -1.9 1.2 -3.4 1.2 -2.4 1.2 2.3 1.2 -0.6 1.2 1.5 1.2 2.1 1.2 2.4 1.2 5.4 1.2 7.6 1.2 6.2 1.2 0.3 1.2 -2.6 1.2 -2.8 1.2 -6.7 1.2 -2.5 1.2 -5.5 1.2 -5.2 1.2 -3.7 1.2 2.2 1.2 -0.3 1.2 0.5 1.2 3.5 1.2 0.7 1.2 1.7 1.2 1.3 1.2 0.4 1.2 6 1.2 0.7 1.2 7 1.2 6.1 1.2 -2.4 1.2 -0.2 1.2 -1 1.2 -6.8 1.2 -6.4 1.2 -5.9 1.2 -1.5 1.2 -2.2 1.2 -1.2 1.2 -1.8 1.2 6.1 1.2 5 1.2 2.3 1.2 3.4 1.2 -2.6 1.2 0.9 1.2 3.3 1.2 -0.7 1.2 3.7 1.2 2.6 1.2 2.7 1.2 1.3 1.2 -4.8 1.2 -0.4 1.2 -7.6 1.2 -2.6 1.2 -2 1.2 0.3 1.2 -4.5 1.2 -0.9 1.2 -0.8 1.2 0.7 1.2 5.3 1.2 7 1.2 3.1 1.2 3 1.2 -3 1.2 -5.5 1.2 -1.5 1.2 4.7 1.2 -0.7 1.2 -1.9 1.2 2 1.2 -2.8 1.2 0.1 1.2 -0.1 1.2 -1.4 1.2 -5.4 1.2 -0.9 1.2 1.2 1.2 -0.7 1.2 1.7 1.2 0.8 1.2 5.8 1.2 2.9 1.2 3.4 1.2 0.6 1.2 -4.1 1.2 -4.3 1.2 -5.2 1.2 0.3 1.2 0.4 1.2 -1 1.2 1.2 1.2 2.2 1.2 3.7 1.2 -3.2 1.2 -2.8 1.2 -6 1.2 1 1.2 -0.1 1.2 1.3 1.2 0.9 1.2 4.5 1.2 5.8 1.2 -1.1 1.2 1.4 1.2 2 1.2 -1.6 1.2 -2.8 1.2 -1.1 1.2 0.8 1.2 -4.2 1.2 -4 1.2 0.3 1.2 -5 1.2 -1.7 1.2 2.5 1.2 -0.1 1.2 1.9 1.2 -0.7 1.2 2.8 1.2 2.1 1.2 4.4 1.2 1.9 1.2 7.2 1.2 1.2 1.2 -0.4 1.2 3.7 1.2 -4.8 1.2 -6.6 1.2 -1.8 1.2 -7.6 1.2 -4.5 1.2 -0.4 1.2 -0.5 1.2 2 1.2 1.9 1.2 1.7 1.2 4.8 1.2 2.7 1.2 2.8 1.2 -2.6 1.2 -2 1.2 -0.4 1.2 0.3 1.2 5.5 1.2 2.1 1.2 -3.4 1.2 -1.4 1.2 0.6 1.2 -7.5 1.2 -2.3 1.2 -5.4 1.2 -1.7 1.2 0 1.2 5 1.2 0.8 1.2 1.9 1.2 2.3 1.2 4.3 1.2 1.2 1.2 3.4 1.2 2.9 1.2 0.2 1.2 -1.2 1.2 -2.6 1.2 0.8 1.2 0.7 1.2 0.7 1.2 0.9 1.2 -6.9 1.2 0.4 1.2 -2.6 1.2 -4.9 1.2 -3.2 1.2 -3.1 1.2 -0.7 1.2 4.8 1.2 5.5 1.2 3.5 1.2 1.8 1.2 -0.1 1.2 7.8 1.2 2.5 1.2 -3.3 1.2 -0.4 1.2 -2.1 1.2 2.8 1.2 -6.1 1.2 -0.1 1.2 -3.5 1.2 1.4 1.2 -3.4 1.2 -1.6 1.2 -3.7 1.2 -5.6 1.2 5.3 1.2 4.6 1.2 2.5 1.2 2.5 1.2 2.7 1.2 4.3 1.2 2.9 1.2 0.3 1.2 -1.6 1.2 -0.2 1.2 -2.9 1.2 -4.3 1.2 -0.4 1.2 -0.1 1.2 0.2 1.2 -2.6 1.2 0.6 1.2 1.9 1.2 -4.4 1.2 -2.2 1.2 -0.2 1.2 1.8 1.2 1.4 1.2 0.8 1.2 0.1 1.2 4.2 1.2 6.8 1.2 3.4 1.2 -1.5 1.2 -2 1.2 -4.6 1.2 -2.7 1.2 -3.8 1.2 -3.4 1.2 2.2 1.2 0.1 1.2 -0.1 1.2 -1.1 1.2 3.8 1.2 1.1 1.2 -1.1 1.2 0.6 1.2 1 1.2 2.9 1.2 -2 1.2 1.6 1.2 0.7 1.2 1.9 1.2 0.8 1.2 0.2 1.2 -4.2 1.2 -3.5 1.2 -4.1 1.2 -4.1 1.2 -2 1.2 2.6 1.2 2.4 1.2 2.8 1.2 1.9 1.2 3.8 1.2 -0.2 1.2 1.7 1.2 -0.8 1.2 -0.9 1.2 4.1 1.2 -1.5 1.2 -2.7 1.2 -0.7 1.2 7.2 1.2 2 1.2 -1.9 1.2 -2.8 1.2 -4 1.2 -1.9 1.2 -7.8 1.2 1.6 1.2 -1.7 1.2 0.3 1.2 -0.3 1.2 0.7 1.2 5.9 1.2 3.3 1.2 0.1 1.2 2.6 1.2 2.7 1.2 -0.8 1.2 -1.5 1.2 -5.8 1.2 -1.1 1.2 2.7 1.2 1.2 1.2 -2.6 1.2 -0.5 1.2 -3.8 1.2 1 1.2 -4.5 1.2 -4.7 1.2 -3.8 1.2 6.5 1.2 4.5 1.2 5 1.2 2.6 1.2 -0.3 1.2 5.2 1.2 3.5 1.2 -5.2 1.2 -0.1 1.2 -0.5 1.2 -2.8 1.2 -1.8 1.2 -1.9 1.2 1.7 1.2 -2.1 1.2 -3 1.2 -2.9 1.2 0.7 1.2 -2.2 1.2 -1.2 1.2 3 1.2 1.8 1.2 2.3 1.2 2 1.2 3 1.2 2.3 1.2 3.2 1.2 -2.9 1.2 -0.2 1.2 -2.3 1.2 -2.3 1.2 -0.4 1.2 -3.7 1.2 -2.6 1.2 1.3 1.2 -1.2 1.2 0.8 1.2 1.7 1.2 -0.3 1.2 0.3 1.2 -1.1 1.2 -1.3 1.2 0.9 1.2 1.2 1.2 3.8 1.2 4.4 1.2 2.8 1.2 0.6 1.2 1.3 1.2 -2.5 1.2 -6.7 1.2 -2.2 1.2 -3.7 1.2 -2.3 1.2 -1.6 1.2 2.2 1.2 1.1 1.2 3.2 1.2 1.4 1.2 -0.8 1.2 1.1 1.2 -3.7 1.2 -3.3 1.2 7.2 1.2 7 1.2 -1.4 1.2 1.3 1.2 2.1 1.2 -1.4 1.2 -4 1.2 -0.4 1.2 -2.7 1.2 -6.2 1.2 -3.2 1.2 -1.1 1.2 2.8 1.2 -0.1 1.2 4.9 1.2 -1 1.2 1.2 1.2 4.7 1.2 3 1.2 1 1.2 0.5 1.2 -0.7 1.2 1.9 1.2 -2.5 1.2 -0.9 1.2 4.5 1.2 1.8 1.2 -3.7 1.2 -5.2 1.2 -0.3 1.2 2.1 1.2 -1.1 1.2 -3.6 1.2 0 1.2 0.6 1.2 0.3 1.2 5.2 1.2 3.3 1.2 -3.8 1.2 1 1.2 -3.1 1.2 0.1 1.2 0.6 1.2 1.7 1.2 -1.9 1.2 -0.3 1.2 1.4 1.2 -1.7 1.2 -2.3 1.2 -3.1 1.2 0.8 1.2 0 1.2 0.3 1.2 1.9 1.2 -3.2 1.2 1.9 1.2 5.5 1.2 -3.5 1.2 1.7 1.2 4.4 1.2 3.3 1.2 2.7 1.2 -1.4 1.2 -3.5 1.2 -4.3 1.2 -4.6 1.2 -2 1.2 0.5 1.2 1 1.2 -2.6 1.2 2.9 1.2 -0.9 1.2 -2.2 1.2 0.2 1.2 -2.3 1.2 -1.2 1.2 4.7 1.2 4.4 1.2 7.1 1.2 0.6 1.2 3.9 1.2 1.3 1.2 1.2 1.2 -2.5 1.2 -9.9 1.2 -3.4 1.2 -3 1.2 -3.1 1.2 0.9 1.2 -1.2 1.2 -5.4 1.2 1.5 1.2 3.4 1.2 4.9 1.2 0.6 1.2 -4.7 1.2 2 1.2 5.4 1.2 1.9 1.2 2.7 1.2 -1.1 1.2 1.1 1.2 -1.2 1.2 0.3 1.2 -0.1 1.2 -5.9 1.2 -3.3 1.2 -4.7 1.2 -2 1.2 1.3 1.2 -0.4 1.2 1.5 1.2 1.2 1.2 0.5 1.2 3.2 1.2 2.9 1.2 1.7 1.2 3.7 1.2 2.2 1.2 -2.2 1.2 -1.7 1.2 1.6 1.2 -1.3 1.2 -0.5 1.2 2.4 1.2 -0.9 1.2 -1.9 1.2 -3.9 1.2 -5.2 1.2 -5.7 1.2 1 1.2 -2.5 1.2 2 1.2 2.2 1.2 4.3 1.2 -2.4 1.2 4.9 1.2 2.3 1.2 -0.6 1.2 2.7 1.2 -0.9 1.2 -1.6 1.2 2.4 1.2 1.2 1.2 -0.1 1.2 -1.6 1.2 -2.1 1.2 -2.2 1.2 -0.7 1.2 -0.2 1.2 -2 1.2 -0.6 1.2 2.9 1.2 1.8 1.2 3.7 1.2 -2.1 1.2 2.7 1.2 1.1 1.2 1.6 1.2 2.3 1.2 -0.4 1.2 -4.9 1.2 -2.7 1.2 2.1 1.2 -5.9 1.2 1.6 1.2 -0.2 1.2 0.3 1.2 2 1.2 -3.4 1.2 -5.3 1.2 -0.9 1.2 2.1 1.2 3.3 1.2 2.4 1.2 3.3 1.2 0.6 1.2 4 1.2 -0.4 1.2 3.7 1.2 -2 1.2 -1.7 1.2 -1.2 1.2 -0.1 1.2 -4.3 1.2 0.8 1.2 0.4 1.2 -0.2 1.2 -1.1 1.2 -2.7 1.2 -0.7 1.2 -1.5 1.2 2.6 1.2 4.2 1.2 4.2 1.2 -1.2 1.2 0.8 1.2 -3.5 1.2 2.3 1.2 1.5 1.2 2.6 1.2 -1.3 1.2 -2.2 1.2 -3.6 1.2 1.4 1.2 -3.4 1.2 -2.6 1.2 4 1.2 -1.3 1.2 -1.4 1.2 -1.6 1.2 4.1 1.2 -1.2 1.2 -0.1 1.2 1.5 1.2 2.5 1.2 0.2 1.2 1.4 1.2 3.2 1.2 1.3 1.2 -2.1 1.2 1.5 1.2 -0.6 1.2 -3 1.2 -6.4 1.2 -5.4 1.2 -1.4 1.2 1.7 1.2 0.4 1.2 1.6 1.2 1.3 1.2 0 1.2 3 1.2 4 1.2 3.5 1.2 -2.6 1.2 -1.3 1.2 4.2 1.2 -0.7 1.2 -1.8 1.2 1.3 1.2 -2.5 1.2 -1.4 1.2 -0.1 1.2 0.8 1.2 0 1.2 -7.7 1.2 -4.4 1.2 0.7 1.2 4.5 1.2 4.6 1.2 5 1.2 -0.2 1.2 0.1 1.2 -1.1 1.2 0 1.2 -0.5 1.2 -2.5 1.2 3.3 1.2 1.6 1.2 -3.8 1.2 2.5 1.2 3.8 1.2 -6.1 1.2 -2 1.2 2.4 1.2 -2.3 1.2 -2.7 1.2 1.8 1.2 -3.5 1.2 -1.2 1.2 2.2 1.2 3.8 1.2 4.4 1.2 1 1.2 -2.1 1.2 -1.4 1.2 2.5 1.2 0.9 1.2 -6.6 1.2 2 1.2 -1.1 1.2 1.6 1.2 3.3 1.2 -2.4 1.2 -4.2 1.2 1.4 1.2 0 1.2 -4.3 1.2 -2.3 1.2 2.1 1.2 2.7 1.2 3.3 1.2 2.8 1.2 -1.1 1.2 5.1 1.2 0.5 1.2 -1.7 1.2 1 1.2 -4.8 1.2 -1.9 1.2 -2.2 1.2 -0.7 1.2 -0.1 1.2 0.7 1.2 3.8 1.2 -1.8 1.2 -1.1 1.2 -0.2 1.2 -2.1 1.2 -0.2 1.2 1.7 1.2 1.2 1.2 3.9 1.2 2.4 1.2 4 1.2 0.3 1.2 -0.2 1.2 -3.9 1.2 0.5 1.2 -0.8 1.2 -5.7 1.2 -0.4 1.2 -4 1.2 -1.4 1.2 1.2 1.2 -1.1 1.2 2.7 1.2 1.3 1.2 0.1 1.2 1.2 1.2 -1.1 1.2 -0.6 1.2 -0.6 1.2 4.9 1.2 4.4 1.2 3 1.2 0.4 1.2 1.1 1.2 -3.3 1.2 -1.3 1.2 -0.8 1.2 -4 1.2 -4.9 1.2 -4.8 1.2 -1.2 1.2 -3.1 1.2 4.4 1.2 2 1.2 5.7 1.2 2.6 1.2 0.7 1.2 0.3 1.2 0.5 1.2 -2.2 1.2 1.7 1.2 2.3 1.2 -1.8 1.2 2.7 1.2 1 1.2 -1.6 1.2 2.1 1.2 -2.4 1.2 -4.4 1.2 -2.5 1.2 -6.7 1.2 0.9 1.2 3.2 1.2 3.1 1.2 -1 1.2 3.7 1.2 1.6 1.2 -0.8 1.2 1.3 1.2 0.5 1.2 0.4 1.2 -0.2 1.2 1.9 1.2 -0.1 1.2 -1.5 1.2 1.9 1.2 -1.4" fill="none" stroke="#de4830" stroke-width="5.7" stroke-linejoin="round" stroke-linecap="round"/>
<path d="M297.1 1528.8l229.9 0 0.7 2.1 0.7 2.3 0.7 2.3 0.7 2.4 0.7 2.6 0.7 2.9 0.7 3.2 0.7 3.4 0.7 3.5 0.7 3.6 0.7 4 0.7 4 0.7 4.2 0.7 4.3 0.7 4.7 0.7 5 0.7 5.6 0.7 6.1 0.7 6.2 0.7 6.5 0.7 7.2 0.7 8.2 0.7 9.1 0.7 10 0.7 10.8 0.7 11.2 0.7 11.8 0.7 12.2 0.7 12.5 0.7 12.7 0.7 13 0.7 13.7 0.7 14.4 0.7 14.7 0.7 14.8 0.7 14.5 0.7 14.4 0.7 14.4 0.7 14.6 0.7 14.4 0.7 14.3 0.7 14.2 0.7 14.4 0.7 14.3 0.7 13.9 0.7 13.6 0.7 13.3 0.7 13.5 0.7 14 0.7 14.3 0.7 14.5 0.7 14.2 0.7 14.6 0.7 14.7 0.7 15.1 0.7 15 0.7 14.1 0.7 12.6 0.7 10.6 0.7 9.7 0.7 9.2 0.7 6.3 0.7 1.9 0.7 -0.5 0.7 -1.1 0.7 -2.1 0.7 -3.1 0.7 -3.9 0.7 -4.3 0.7 -4.2 0.7 -4 0.7 -3.5 0.7 -3.1 0.7 -2.9 0.7 -2.5 0.7 -2.4 0.7 -3.2 0.7 -3.6 0.7 -3.3 0.7 -2.6 0.7 -2.3 0.7 -1.9 0.7 -1.3 0.7 -0.2 0.7 2.8 0.7 6.1 0.7 8.4 0.7 9.9 0.7 10.6 0.7 10.4 0.7 9.2 0.7 6.7 0.7 3.2 0.7 -0.8 0.7 -5.1 0.7 -8.1 0.7 -9.6 0.7 -9.5 0.7 -8.2 0.7 -5.7 0.7 -2.1 0.7 0.9 0.7 1.8 0.7 2.5 0.7 3.4 0.7 4.3 0.7 4.7 0.7 4.4 0.7 3.7 0.7 3 0.7 2.9 0.7 2.9 0.7 2.7 0.7 2.3 0.7 2.2 0.7 2 0.7 1.6 0.7 1 0.7 1 0.7 1.1 0.7 1 0.7 -0.1 0.7 -1.2 0.7 -1.6 0.7 -2 0.7 -3.4 0.7 -4.7 0.7 -5.2 0.7 -4.6 0.7 -4.2 0.7 -4.3 0.7 -4.5 0.7 -4.7 0.7 -5.2 0.7 -5.5 0.7 -5.5 0.7 -4.9 0.7 -4.3 0.7 -3.6 0.7 -2.7 0.7 -1.8 0.7 -0.9 0.7 -0.2 0.7 0.3 0.7 1 0.7 2.1 0.7 2.9 0.7 3.4 0.7 3.3 0.7 3.3 0.7 3.7 0.7 4.6 0.7 4.8 0.7 4.3 0.7 3.3 0.7 3.1 0.7 3.6 0.7 4 0.7 3.9 0.7 3.8 0.7 3.8 0.7 3.4 0.7 2.2 0.7 1.1 0.7 0.6 0.7 -0.4 0.7 -1.7 0.7 -2.9 0.7 -3.6 0.7 -4.2 0.7 -4.9 0.7 -5.6 0.7 -5.6 0.7 -4.8 0.7 -3.4 0.7 -1.9 0.7 -0.9 0.7 -0.3 0.7 -0.3 0.7 -0.3 0.7 0.1 0.7 1 0.7 1.8 0.7 2.7 0.7 3.2 0.7 3.7 0.7 4.3 0.7 5 0.7 5.1 1.9 1.9 1.2 -0.5 1.2 -0.1 1.2 0.3 1.2 0.5 1.2 0 1.2 -1.4 1.2 -2.9 1.2 -3.5 1.2 -7.3 1.2 -5.6 1.2 -3.7 1.2 -3.4 1.2 -2.5 1.2 1.2 1.2 3.3 1.2 3 1.2 2.7 1.2 5.7 1.2 6.7 1.2 5.5 1.2 3.4 1.2 -3 1.2 -3.5 1.2 -4.9 1.2 -3 1.2 -13 1.2 -7.8 1.2 -0.1 1.2 1.7 1.2 10.1 1.2 10.4 1.2 0.4 1.2 2.2 1.2 5.6 1.2 2.4 1.2 0.7 1.2 -0.5 1.2 0.3 1.2 -4.3 1.2 -4.3 1.2 -5 1.2 -8.5 1.2 -4.1 1.2 -0.9 1.2 -3.7 1.2 1.3 1.2 7.6 1.2 9.8 1.2 5.5 1.2 5.8 1.2 5.2 1.2 2 1.2 -1.8 1.2 -9.5 1.2 -6.1 1.2 -6.8 1.2 -7.2 1.2 -3.6 1.2 1.6 1.2 5.9 1.2 -0.6 1.2 1.7 1.2 -0.2 1.2 4.5 1.2 3.8 1.2 6.1 1.2 2.7 1.2 2.9 1.2 -1 1.2 -1.1 1.2 -5.8 1.2 -7.2 1.2 -6.9 1.2 -6.4 1.2 -1.8 1.2 1 1.2 0.8 1.2 7.2 1.2 5.7 1.2 3.5 1.2 4.8 1.2 7.1 1.2 -0.7 1.2 -5.2 1.2 -4 1.2 -4.9 1.2 -0.1 1.2 -3.6 1.2 0.7 1.2 -1.7 1.2 -4.4 1.2 3.1 1.2 0.4 1.2 0 1.2 2.1 1.2 3.4 1.2 6.5 1.2 3.8 1.2 1.6 1.2 -1.8 1.2 -3.7 1.2 -4.9 1.2 -4.6 1.2 -7.1 1.2 -6.3 1.2 2.5 1.2 2.2 1.2 1.9 1.2 4.6 1.2 1.4 1.2 3.6 1.2 3.7 1.2 4.8 1.2 -0.2 1.2 -3.7 1.2 1.7 1.2 -2.6 1.2 0.7 1.2 -3 1.2 -2.6 1.2 -4.6 1.2 -2 1.2 1.9 1.2 2.5 1.2 0.7 1.2 6.5 1.2 6.2 1.2 1.3 1.2 -0.7 1.2 2.3 1.2 -3.5 1.2 -3.3 1.2 -2.5 1.2 -5.4 1.2 -5.5 1.2 -3 1.2 3.5 1.2 0.2 1.2 0.8 1.2 -0.9 1.2 1.9 1.2 4.6 1.2 1 1.2 3 1.2 3.1 1.2 3 1.2 -0.5 1.2 -6.2 1.2 -4.7 1.2 -1 1.2 -2.3 1.2 -4.3 1.2 0.7 1.2 -0.9 1.2 1.9 1.2 3.7 1.2 4.8 1.2 4.7 1.2 3.6 1.2 0.9 1.2 0.3 1.2 -0.2 1.2 -3 1.2 -2.6 1.2 -2.6 1.2 -2.5 1.2 0.1 1.2 -2.4 1.2 -0.4 1.2 -4.6 1.2 3.6 1.2 0.5 1.2 5 1.2 2.9 1.2 4.8 1.2 3.6 1.2 2.7 1.2 4.3 1.2 -6.1 1.2 -10.9 1.2 -8.9 1.2 -3.1 1.2 -3.6 1.2 1.2 1.2 4.5 1.2 7.4 1.2 2.6 1.2 1.3 1.2 6.3 1.2 -0.3 1.2 0.9 1.2 3.8 1.2 -5.5 1.2 -4.3 1.2 -2.1 1.2 -0.5 1.2 -1.4 1.2 -0.1 1.2 -5.2 1.2 -1.3 1.2 -1.6 1.2 -4.1 1.2 3.1 1.2 6.7 1.2 8.3 1.2 7.9 1.2 -0.2 1.2 -1.1 1.2 -1.7 1.2 -3.7 1.2 -5.7 1.2 -2.4 1.2 -4.2 1.2 5.6 1.2 0.9 1.2 -0.7 1.2 2 1.2 -0.6 1.2 -1.5 1.2 -0.3 1.2 2.7 1.2 -1.5 1.2 6.3 1.2 3.9 1.2 5.7 1.2 -3.5 1.2 0.9 1.2 -3.6 1.2 -8.4 1.2 -2.9 1.2 -4.6 1.2 0.6 1.2 3.6 1.2 1 1.2 4.2 1.2 1.2 1.2 0.2 1.2 2.7 1.2 -2.8 1.2 -0.7 1.2 -0.8 1.2 -6 1.2 -0.9 1.2 5.7 1.2 1.5 1.2 -1.5 1.2 -3.6 1.2 -1.2 1.2 -2.5 1.2 3.5 1.2 0.2 1.2 4.5 1.2 1.7 1.2 6.8 1.2 0.8 1.2 -3.4 1.2 -1.6 1.2 -9.1 1.2 -1.4 1.2 -0.4 1.2 -2.6 1.2 -0.6 1.2 0 1.2 4 1.2 5.2 1.2 5.7 1.2 0.1 1.2 -3 1.2 -1.4 1.2 1 1.2 0.1 1.2 2.2 1.2 1.8 1.2 -3.5 1.2 -4.4 1.2 -4.2 1.2 -3.6 1.2 -2.8 1.2 -2 1.2 1.3 1.2 3.5 1.2 5.2 1.2 5.1 1.2 7.1 1.2 0.8 1.2 -5.1 1.2 -3.9 1.2 -0.1 1.2 -3.2 1.2 -6.8 1.2 -1.1 1.2 2.1 1.2 2.7 1.2 3.7 1.2 -1.9 1.2 0.5 1.2 5.7 1.2 0.4 1.2 -0.5 1.2 1 1.2 2.1 1.2 2.2 1.2 -0.4 1.2 -3.9 1.2 -4.5 1.2 -5.2 1.2 -0.4 1.2 -2.1 1.2 -4.2 1.2 -0.8 1.2 4.6 1.2 2.4 1.2 5.6 1.2 2.1 1.2 -0.2 1.2 0.1 1.2 -0.1 1.2 -3.2 1.2 -2.6 1.2 2.3 1.2 1.2 1.2 -1.9 1.2 -0.9 1.2 1.1 1.2 0.1 1.2 -4.6 1.2 -0.5 1.2 1.1 1.2 2.4 1.2 1.8 1.2 3.1 1.2 2 1.2 0.5 1.2 -0.2 1.2 -3.1 1.2 -2.5 1.2 -4.6 1.2 -3.5 1.2 -2.3 1.2 4 1.2 1 1.2 2.1 1.2 1.5 1.2 3.8 1.2 1.2 1.2 -0.9 1.2 -0.6 1.2 1.2 1.2 -1.2 1.2 -0.1 1.2 -0.4 1.2 -1 1.2 1.6 1.2 -3.8 1.2 -4.4 1.2 -3.9 1.2 -3.4 1.2 4.5 1.2 1.7 1.2 1.1 1.2 8.3 1.2 1.4 1.2 -0.8 1.2 1.2 1.2 -2.7 1.2 -4.5 1.2 -0.8 1.2 -4.5 1.2 0 1.2 -0.9 1.2 -1.9 1.2 2.5 1.2 2.7 1.2 4.3 1.2 1.7 1.2 -1.5 1.2 2.8 1.2 3.7 1.2 1.4 1.2 -1.3 1.2 -1.7 1.2 -0.6 1.2 -2.1 1.2 -3.5 1.2 -1.9 1.2 -7.5 1.2 -0.7 1.2 -0.8 1.2 0.7 1.2 7.3 1.2 2.8 1.2 4.9 1.2 1.1 1.2 3.9 1.2 -1.8 1.2 -6.7 1.2 -1.6 1.2 2.3 1.2 -0.3 1.2 -1.1 1.2 -0.2 1.2 -1.5 1.2 -2.9 1.2 -2.4 1.2 2.5 1.2 0.1 1.2 0.9 1.2 5.7 1.2 6.3 1.2 0.7 1.2 -1.3 1.2 0.9 1.2 -2.7 1.2 -2.2 1.2 -3.9 1.2 -1.5 1.2 -1.2 1.2 -1.3 1.2 0.7 1.2 6.3 1.2 0.3 1.2 2 1.2 -3.3 1.2 4.6 1.2 -1 1.2 5.4 1.2 0.7 1.2 0.2 1.2 -1.4 1.2 -3.3 1.2 -4.1 1.2 -3.4 1.2 -3.5 1.2 -0.7 1.2 0.7 1.2 0 1.2 2.7 1.2 4 1.2 4.4 1.2 4.7 1.2 -2 1.2 -0.5 1.2 3.2 1.2 -3.6 1.2 -5.2 1.2 0.4 1.2 -5 1.2 0 1.2 -2.1 1.2 0.2 1.2 1.9 1.2 1.5 1.2 1.9 1.2 -0.9 1.2 1.5 1.2 4.6 1.2 4.5 1.2 4 1.2 -1.2 1.2 -2.2 1.2 -0.5 1.2 -6.8 1.2 -5.4 1.2 -5.3 1.2 -5.2 1.2 1.5 1.2 6.6 1.2 3.5 1.2 4.1 1.2 2.3 1.2 -1.6 1.2 -0.4 1.2 1.8 1.2 0.3 1.2 0.4 1.2 0 1.2 -1.5 1.2 -2.3 1.2 -1.9 1.2 -3.1 1.2 -2.3 1.2 0.8 1.2 -0.5 1.2 1.8 1.2 0.7 1.2 3.9 1.2 1.9 1.2 6.3 1.2 -2.7 1.2 -2.7 1.2 -3 1.2 0.3 1.2 3.3 1.2 -1.3 1.2 -4.9 1.2 -1.5 1.2 -0.6 1.2 2 1.2 -0.8 1.2 2.2 1.2 0.1 1.2 -1.7 1.2 0.7 1.2 2.9 1.2 0.3 1.2 2.4 1.2 -0.1 1.2 -0.5 1.2 -1 1.2 -6.9 1.2 -0.5 1.2 -2.9 1.2 -1.8 1.2 3.6 1.2 1.3 1.2 0.5 1.2 2.5 1.2 2.7 1.2 1.9 1.2 -1.3 1.2 -0.4 1.2 0.2 1.2 -2.3 1.2 -1 1.2 -2.4 1.2 0 1.2 0.4 1.2 1 1.2 -0.7 1.2 -1.9 1.2 6.3 1.2 -1.1 1.2 -5.5 1.2 4.3 1.2 0.8 1.2 1 1.2 1.1 1.2 -0.6 1.2 0.1 1.2 -2.5 1.2 -3.4 1.2 -1.2 1.2 -1 1.2 -1.9 1.2 3.6 1.2 2 1.2 2.3 1.2 1.6 1.2 0.4 1.2 4.1 1.2 -0.3 1.2 -4 1.2 -2.5 1.2 -0.4 1.2 1.8 1.2 1.8 1.2 0.5 1.2 0.3 1.2 -1.6 1.2 -0.4 1.2 0.5 1.2 -3.8 1.2 -2.6 1.2 4.1 1.2 4.8 1.2 -0.2 1.2 4.3 1.2 2.6 1.2 -2.4 1.2 -1.7 1.2 -1.7 1.2 -4.8 1.2 -3.9 1.2 -0.1 1.2 5.5 1.2 -0.3 1.2 1.7 1.2 1.8 1.2 -3.4 1.2 -0.1 1.2 -0.6 1.2 2.8 1.2 2.3 1.2 -2.6 1.2 1.7 1.2 5.5 1.2 -1.8 1.2 -1.9 1.2 -2.3 1.2 -6.2 1.2 -4.2 1.2 0.3 1.2 1.2 1.2 5.4 1.2 4.1 1.2 4.5 1.2 0.4 1.2 0.3 1.2 0.1 1.2 0 1.2 -0.8 1.2 -4.8 1.2 -4.7 1.2 -2.9 1.2 -0.1 1.2 -0.7 1.2 2.4 1.2 -2.8 1.2 1.3 1.2 2.3 1.2 -0.2 1.2 4.2 1.2 5.2 1.2 -1.4 1.2 3 1.2 0.5 1.2 -4 1.2 -5 1.2 -3.2 1.2 -5.6 1.2 -0.9 1.2 2.8 1.2 -2.3 1.2 3.7 1.2 8.4 1.2 0.4 1.2 0.8 1.2 6.3 1.2 -1.2 1.2 -1.4 1.2 -1 1.2 -3.6 1.2 -4.9 1.2 -1.5 1.2 0.6 1.2 -3.1 1.2 -5.2 1.2 1.5 1.2 -1.1 1.2 2.3 1.2 5.7 1.2 7.5 1.2 2.6 1.2 0.4 1.2 4.7 1.2 -0.5 1.2 -0.4 1.2 -5.1 1.2 -5 1.2 0.2 1.2 0.9 1.2 -3.7 1.2 0.1 1.2 -0.6 1.2 0 1.2 3.8 1.2 1.6 1.2 -0.2 1.2 1.8 1.2 0.6 1.2 2.6 1.2 -1.6 1.2 -2.4 1.2 2 1.2 -5.6 1.2 -1.1 1.2 0.3 1.2 -2.1 1.2 -0.7 1.2 -2 1.2 3.1 1.2 3 1.2 2.5 1.2 2.9 1.2 0.8 1.2 5 1.2 -4.9 1.2 -4.6 1.2 -3.1 1.2 0.9 1.2 -0.7 1.2 -2 1.2 0.4 1.2 1.6 1.2 -3 1.2 -1.6 1.2 3.1 1.2 3.2 1.2 2 1.2 -0.7 1.2 -1.6 1.2 3.1 1.2 2.3 1.2 2.1 1.2 -2.8 1.2 0.3 1.2 -0.4 1.2 -4.4 1.2 -3.5 1.2 -0.2 1.2 0.2 1.2 2.4 1.2 1.8 1.2 1.1 1.2 0.5 1.2 -0.3 1.2 1.7 1.2 -1.3 1.2 -1.4 1.2 2 1.2 -0.8 1.2 -3.5 1.2 -0.3 1.2 -1.4 1.2 -0.3 1.2 -2.7 1.2 0.9 1.2 2.4 1.2 0.7 1.2 2.4 1.2 4.6 1.2 2.5 1.2 -0.6 1.2 -1.1 1.2 -2.9 1.2 -1.6 1.2 -2 1.2 -7.9 1.2 -0.4 1.2 1.6 1.2 2.6 1.2 -0.2 1.2 5.2 1.2 2.8 1.2 -1.6 1.2 -1.9 1.2 0.3 1.2 4.3 1.2 2.8 1.2 -2.7 1.2 2.8 1.2 -1.7 1.2 -6.5 1.2 -2.1 1.2 0.6 1.2 -1.4 1.2 -1.7 1.2 -4.7 1.2 1.6 1.2 5.4 1.2 7.2 1.2 3.6 1.2 2.1 1.2 -2.1 1.2 -0.1 1.2 -4.4 1.2 -4.9 1.2 0.6 1.2 3.8 1.2 -3.5 1.2 -3.6 1.2 2.3 1.2 3.1 1.2 -0.4 1.2 3 1.2 -2.2 1.2 -6.2 1.2 4.7 1.2 1.6 1.2 0 1.2 2.1 1.2 2.8 1.2 -0.3 1.2 -2.1 1.2 -2.1 1.2 -6.3 1.2 -3.7 1.2 -1.1 1.2 0.3 1.2 4.7 1.2 6.5 1.2 -4.9 1.2 4.8 1.2 3.5 1.2 -0.6 1.2 0.5 1.2 -2.7 1.2 -1 1.2 -1.2 1.2 -3.6 1.2 0.8 1.2 -0.5 1.2 -0.2 1.2 -2 1.2 -1 1.2 -2.4 1.2 0.8 1.2 3.2 1.2 2.8 1.2 3 1.2 0.5 1.2 1.5 1.2 1.8 1.2 -3.8 1.2 -2.5 1.2 -4.7 1.2 -1.1 1.2 -0.2 1.2 -2.6 1.2 0.4 1.2 3.3 1.2 1.3 1.2 0.5 1.2 2.9 1.2 2.5 1.2 0.6 1.2 -1.1 1.2 -0.7 1.2 -1.2 1.2 1.2 1.2 -1.3 1.2 -0.3 1.2 -2.5 1.2 -3 1.2 -1.5 1.2 -4.9 1.2 -0.5 1.2 4.3 1.2 1.4 1.2 4 1.2 0.5 1.2 3.6 1.2 0.3 1.2 3.5 1.2 -4.9 1.2 -3.3 1.2 -0.2 1.2 -2.9 1.2 -0.8 1.2 -3.5 1.2 2.9 1.2 0.8 1.2 -2.7 1.2 0.7 1.2 6.4 1.2 0.4 1.2 3.6 1.2 3.8 1.2 -2.6 1.2 0.2 1.2 -0.9 1.2 -2.6 1.2 -0.7 1.2 -5.3 1.2 0.2 1.2 -0.5 1.2 -0.9 1.2 4.4" fill="none" stroke="#2c4f8f" stroke-width="5.7" stroke-linejoin="round" stroke-linecap="round"/>
<path d="M2152.5 1536.2l232 0 0 -0.8 0.7 28.1 0.7 46.3 0.7 73.2 0.7 80.2 0.7 64.4 0.7 50.9 0.7 46.7 0.7 43.3 0.7 40.4 0.7 38.3 0.7 36.7 0.7 35.7 0.7 35.5 0.7 36.8 0.7 37.3 0.7 35.3 0.7 31 0.7 24.4 0.7 16.4 0.7 14.3 0.7 12.5 0.7 9.6 0.7 5.6 0.7 -0.1 0.7 -8.3 0.7 -13.9 0.7 -15.8 0.7 -13.9 0.7 -8.3 0.7 -0.2 0.7 4.4 0.7 7.2 0.7 8.8 0.7 9 0.7 7.8 0.7 5.3 0.7 1.5 0.7 -10.6 0.7 -23.4 0.7 -30.8 0.7 -33.3 0.7 -33.4 0.7 -42.1 0.7 -48.1 0.7 -49.5 0.7 -46.6 0.7 -39.2 0.7 -33.8 0.7 -34.9 0.7 -33.1 0.7 -28.1 0.7 -20.1 0.7 -8.7 0.7 1.9 0.7 7.2 0.7 10.7 0.7 12.9 0.7 13.6 0.7 13.5 0.7 16.2 0.7 18.7 0.7 20 0.7 19.9 0.7 18.8 0.7 18.1 0.7 18.6 0.7 18.9 0.7 19 0.7 18.8 0.7 18.5 0.7 17.9 0.7 17.2 0.7 16.2 0.7 15 0.7 13.6 0.7 12 0.7 11.9 0.7 12.1 0.7 12 0.7 11.8 0.7 11.3 0.7 10.7 0.7 9.8 0.7 8.8 0.7 7.4 0.7 5.9 0.7 4.2 0.7 2.3 0.7 -0.7 0.7 -10 0.7 -18.2 0.7 -23.6 0.7 -26.2 0.7 -25.8 0.7 -27.1 0.7 -36.2 0.7 -40.9 0.7 -40.7 0.7 -35.2 0.7 -24.9 0.7 -9.4 0.7 3.5 0.7 9.4 0.7 13.9 0.7 16.7 0.7 18.2 0.7 18.1 0.7 16.4 0.7 13.4 0.7 8.6 0.7 2.5 0.7 -4.9 0.7 -10.3 0.7 -13.1 0.7 -13.2 0.7 -10.3 0.7 -4.9 0.7 1.7 0.7 6.3 0.7 9.9 0.7 12.9 0.7 15.1 0.7 16.4 0.7 17.1 0.7 16.8 0.7 16 0.7 14.2 0.7 11.7 0.7 8.8 0.7 8.5 0.7 8.5 0.7 8.4 0.7 8.1 0.7 7.7 0.7 7 0.7 6.3 0.7 5.4 0.7 4.2 0.7 3 0.7 1.4 0.7 -1.1 0.7 -7.8 0.7 -13.7 0.7 -18.5 0.7 -21.8 0.7 -23.8 0.7 -24.6 0.7 -24 0.7 -22.2 0.7 -19 0.7 -14.5 0.7 -8.7 0.7 -1.8 0.7 3.9 0.7 7.5 0.7 9.6 0.7 10.2 0.7 9.1 0.7 6.6 0.7 2.6 0.7 -2.7 0.7 -7.5 0.7 -11 0.7 -13.3 0.7 -14.5 0.7 -14.5 0.7 -13.3 0.7 -11 0.7 -7.5 0.7 -2.7 0.7 2.7 0.7 7.4 0.7 11.3 0.7 14.1 0.7 16.1 0.7 17.1 0.7 17.1 0.7 16.2 0.7 14.4 0.7 11.6 0.7 10.2 0.7 10.7 0.7 10.9 0.7 10.8 0.7 10.3 0.7 9.6 0.7 8.6 0.7 7.3 0.7 5.6 0.7 3.8 0.7 1.6 0.7 -0.9 0.7 -3.3 0.7 -5.3 0.7 -7 0.7 -8.6 0.7 -9.8 0.7 -10.8 0.7 -11.4 0.7 -11.8 0.7 -11.9 0.7 -11.7 0.7 -11.3 0.7 -10.5 0.7 -9.5 0.7 -8.2 0.7 -6.6 0.7 -5.5 0.7 -5.5 0.7 -5.6 0.7 -5.5 0.7 -5.4 0.7 -5.4 0.7 -5.2 0.7 -5.1 0.7 -4.8 0.7 -4.6 0.7 -4.3 0.7 -4 0.7 -3.7 0.7 -3.2 0.7 -2.9 0.7 -2.3 0.7 -1.9 0.7 -1.3 0.7 -0.7 0.7 -0.1 0.7 1.6 0.7 3.4 0.7 5.1 0.7 6.4 0.7 7.6 0.7 8.4 0.7 9.1 0.7 9.5 0.7 9.7 0.7 9.6 0.7 9.4 0.7 8.7 0.7 8.1 0.7 7 0.7 6 0.7 6.2 0.7 6.5 0.7 6.6 0.7 6.7 0.7 6.5 0.7 6.4 0.7 6 0.7 5.7 0.7 5.1 0.7 4.5 0.7 3.8 0.7 2.9 0.7 1.9 0.7 1 0.7 -0.3 0.7 -1.4 0.7 -2.4 0.7 -3.2 0.7 -4.1 0.7 -4.6 0.7 -5.2 0.7 -5.5 0.7 -5.9 0.7 -5.9 0.7 -6 0.7 -5.8 0.7 -5.7 0.7 -5.2 0.7 -4.8 0.7 -4.2 0.7 -3.5 0.7 -3.2 0.7 -3.3 0.7 -3.4 0.7 -3.3 0.7 -3.4 0.7 -3.3 0.7 -3.2 0.7 -3.1 0.7 -2.9 0.7 -2.8 0.7 -2.6 0.7 -2.3 0.7 -2 0.7 -1.7 0.7 -1.4 0.7 -1 0.7 -0.6 0.7 -0.2 0.7 0.7 0.7 1.7 0.7 2.5 0.7 3.4 0.7 3.9 0.7 4.5 0.7 5 0.7 5.2 0.7 5.4 0.7 5.5 0.7 5.5 0.7 5.3 0.7 5.1 0.7 4.7 0.7 4.2 0.7 3.6 0.7 2.9 0.7 2.1 0.7 1.1 0.7 0.1 0.7 -1 0.7 -2 0.7 -2.9 0.7 -3.7 0.7 -4.5 0.7 -5.2 0.7 -5.7 0.7 -6.3 0.7 -6.7 0.7 -7.1 1.5 -3.1 1.2 0.1 1.2 0.5 1.2 0.9 1.2 1.2 1.2 3.1 1.2 6 1.2 9 1.2 6.8 1.2 4.6 1.2 1 1.2 0.2 1.2 -4.5 1.2 -9.4 1.2 -11.3 1.2 -10.1 1.2 -0.9 1.2 0.5 1.2 4.7 1.2 4.9 1.2 3.3 1.2 7.6 1.2 7.9 1.2 5.4 1.2 6.3 1.2 -1.8 1.2 1 1.2 -2 1.2 -5 1.2 -6.2 1.2 -3.6 1.2 -3.6 1.2 -5.9 1.2 -3.5 1.2 2.6 1.2 3.4 1.2 0.4 1.2 -3 1.2 1.1 1.2 4.6 1.2 6.4 1.2 6.9 1.2 5 1.2 4.4 1.2 3.6 1.2 3.3 1.2 -3.7 1.2 -8.9 1.2 -9.9 1.2 -8.4 1.2 -10.5 1.2 -5 1.2 -7 1.2 4.1 1.2 3.4 1.2 6.1 1.2 7 1.2 13.1 1.2 7.9 1.2 3.6 1.2 9.5 1.2 3.5 1.2 -9.6 1.2 -6.1 1.2 -9.4 1.2 -6.5 1.2 -5.9 1.2 -10 1.2 -3.2 1.2 3.5 1.2 0.2 1.2 4.8 1.2 6.9 1.2 1.7 1.2 3.2 1.2 3.2 1.2 3.1 1.2 4.9 1.2 3.8 1.2 2.2 1.2 -1.7 1.2 0.1 1.2 -6.1 1.2 -4.3 1.2 -6.6 1.2 -8.4 1.2 -10.1 1.2 -3.1 1.2 0.4 1.2 1.7 1.2 2.4 1.2 7.9 1.2 9.2 1.2 9.9 1.2 6.4 1.2 4.9 1.2 0.5 1.2 -1.6 1.2 -7.7 1.2 -8.4 1.2 -5.5 1.2 -10 1.2 -5.3 1.2 -2.1 1.2 0.5 1.2 0.4 1.2 5 1.2 5.4 1.2 3.5 1.2 7.8 1.2 0.6 1.2 0.4 1.2 5.2 1.2 -0.8 1.2 -0.9 1.2 2.1 1.2 -2.1 1.2 0.9 1.2 -6.1 1.2 -0.8 1.2 -7.3 1.2 -4.3 1.2 -4.8 1.2 -6.6 1.2 -2.9 1.2 2.5 1.2 4.2 1.2 8.4 1.2 7.3 1.2 9 1.2 10.7 1.2 4.2 1.2 0 1.2 -8.1 1.2 -4.5 1.2 -12.2 1.2 -6 1.2 -8 1.2 -8.3 1.2 -3 1.2 -0.4 1.2 6.5 1.2 8.1 1.2 8.3 1.2 6.9 1.2 4.6 1.2 3.9 1.2 1.2 1.2 4 1.2 -4.6 1.2 -1.3 1.2 -2.8 1.2 -5.6 1.2 -4.4 1.2 -2 1.2 -5 1.2 0.3 1.2 -0.9 1.2 -3 1.2 3.1 1.2 3.9 1.2 1.9 1.2 4.3 1.2 4.3 1.2 2.3 1.2 1.8 1.2 5.4 1.2 0.1 1.2 -1.7 1.2 -6.1 1.2 -5.8 1.2 -6.5 1.2 -5.8 1.2 -4.7 1.2 -7.9 1.2 0.9 1.2 1.7 1.2 5 1.2 9.1 1.2 8.5 1.2 2.3 1.2 4.5 1.2 8 1.2 -2.4 1.2 -4 1.2 1 1.2 -5.4 1.2 -4 1.2 -3.4 1.2 -4.2 1.2 -0.8 1.2 -2.7 1.2 0.3 1.2 -0.2 1.2 2.1 1.2 3.2 1.2 1.3 1.2 5.7 1.2 1.7 1.2 3.7 1.2 5.2 1.2 -0.1 1.2 1.1 1.2 -0.2 1.2 -5 1.2 -0.8 1.2 -4.6 1.2 -9.3 1.2 -7 1.2 -2.4 1.2 -0.7 1.2 2.4 1.2 3.4 1.2 3.3 1.2 9 1.2 7.3 1.2 3.4 1.2 -0.2 1.2 -0.8 1.2 -0.5 1.2 -7.1 1.2 -2.3 1.2 -3 1.2 -5 1.2 0.3 1.2 -0.9 1.2 -2 1.2 4.9 1.2 4.3 1.2 1.4 1.2 -1 1.2 -0.3 1.2 -4.4 1.2 0.9 1.2 3.7 1.2 0.5 1.2 0.5 1.2 -1.6 1.2 2.7 1.2 4.3 1.2 -2.3 1.2 -3.3 1.2 -0.8 1.2 -2.9 1.2 -3.7 1.2 -0.2 1.2 -4 1.2 -2 1.2 3.1 1.2 5.7 1.2 3.4 1.2 7.8 1.2 3.6 1.2 2.1 1.2 -1.5 1.2 -1.1 1.2 -4.1 1.2 -5.7 1.2 -3.9 1.2 -2 1.2 -2.6 1.2 -1.1 1.2 -1.8 1.2 2.5 1.2 1.6 1.2 4.9 1.2 -1.2 1.2 3.8 1.2 3.4 1.2 -2 1.2 -2 1.2 -2.6 1.2 -0.3 1.2 1.8 1.2 -0.4 1.2 3.1 1.2 0.4 1.2 -1 1.2 -2 1.2 -3.4 1.2 -3.5 1.2 4.9 1.2 -4.7 1.2 -1.8 1.2 8.3 1.2 0.7 1.2 0.6 1.2 6.6 1.2 1.3 1.2 4.4 1.2 -4.2 1.2 -1.5 1.2 -5.5 1.2 -3.9 1.2 -2.3 1.2 -4.9 1.2 -1.4 1.2 1.6 1.2 3.1 1.2 2.4 1.2 4.8 1.2 -1.8 1.2 1 1.2 2.3 1.2 1.9 1.2 -1.1 1.2 -0.7 1.2 -1.5 1.2 1.1 1.2 1.1 1.2 0.3 1.2 0.1 1.2 -4.1 1.2 -2.1 1.2 1.7 1.2 -0.7 1.2 -4.7 1.2 1 1.2 -0.8 1.2 -1.6 1.2 4.6 1.2 -0.8 1.2 9.1 1.2 3.8 1.2 0.1 1.2 -1.7 1.2 -2.5 1.2 -0.3 1.2 -1.5 1.2 -7.9 1.2 -3.1 1.2 1.1 1.2 -2.3 1.2 -2.8 1.2 2.7 1.2 3.1 1.2 4.6 1.2 4.4 1.2 -0.5 1.2 4.7 1.2 2.6 1.2 3.3 1.2 -3.3 1.2 2.6 1.2 -2.3 1.2 -3.4 1.2 -5.8 1.2 -3.1 1.2 2.1 1.2 -2.2 1.2 -1.3 1.2 -2.8 1.2 -1.4 1.2 -0.6 1.2 3.7 1.2 2.5 1.2 0.3 1.2 1.1 1.2 5.2 1.2 7 1.2 -0.2 1.2 -4.1 1.2 -1.1 1.2 0.9 1.2 -5.3 1.2 -2.1 1.2 -3 1.2 -4.3 1.2 -4.7 1.2 1.4 1.2 4 1.2 3.3 1.2 3.5 1.2 4 1.2 5.9 1.2 6.2 1.2 2 1.2 -2.4 1.2 0.3 1.2 -2.8 1.2 -4.3 1.2 -4.7 1.2 -1.6 1.2 -3.3 1.2 -5.6 1.2 1.4 1.2 1.9 1.2 -1.6 1.2 2.8 1.2 4 1.2 0 1.2 4.7 1.2 0 1.2 2.4 1.2 1.5 1.2 2.1 1.2 -2.1 1.2 0.1 1.2 0.9 1.2 -2.4 1.2 -4.8 1.2 -5.3 1.2 -8 1.2 -3.8 1.2 -1.3 1.2 -1.6 1.2 4.2 1.2 6.5 1.2 6.3 1.2 5.8 1.2 6.8 1.2 2.2 1.2 0.1 1.2 -1.7 1.2 -2.1 1.2 -4.6 1.2 -5.7 1.2 -6.9 1.2 2.6 1.2 3.2 1.2 1.7 1.2 3.7 1.2 -3.8 1.2 -1.4 1.2 4.1 1.2 -0.1 1.2 0.5 1.2 2.5 1.2 -0.5 1.2 2.1 1.2 3.2 1.2 -3.3 1.2 5.9 1.2 -1.6 1.2 -4.5 1.2 -7.5 1.2 -5.4 1.2 -0.9 1.2 -0.7 1.2 -7 1.2 -0.4 1.2 4 1.2 6.3 1.2 6 1.2 6.8 1.2 2.5 1.2 3.6 1.2 2.6 1.2 -0.8 1.2 -9.6 1.2 -2.4 1.2 -5.5 1.2 -4.6 1.2 -4.8 1.2 -0.5 1.2 1.1 1.2 -2.7 1.2 1.5 1.2 5 1.2 4.4 1.2 5.3 1.2 0.7 1.2 2.5 1.2 -0.5 1.2 -1.8 1.2 2.5 1.2 -0.2 1.2 -0.9 1.2 -0.8 1.2 -1.1 1.2 -2.7 1.2 0 1.2 -2.2 1.2 -3.5 1.2 -1.7 1.2 -2 1.2 -0.6 1.2 1.8 1.2 3.5 1.2 3.3 1.2 6.1 1.2 3.3 1.2 2 1.2 0.1 1.2 -1.9 1.2 -2.2 1.2 -5.4 1.2 -2.4 1.2 -6.6 1.2 -1.1 1.2 -3 1.2 3.2 1.2 -0.7 1.2 5.8 1.2 3.7 1.2 1.8 1.2 3.1 1.2 -1.3 1.2 1.1 1.2 -1.8 1.2 0.5 1.2 -1 1.2 -2.1 1.2 -2.8 1.2 -1.3 1.2 0.9 1.2 -3.3 1.2 -0.4 1.2 -0.6 1.2 -1.5 1.2 0.3 1.2 -4.5 1.2 2 1.2 4.3 1.2 1.7 1.2 2.1 1.2 2.6 1.2 5.9 1.2 5.5 1.2 0.4 1.2 -4.6 1.2 -6.8 1.2 -3.4 1.2 -0.1 1.2 -4.9 1.2 -5.7 1.2 -0.5 1.2 2.3 1.2 3.6 1.2 8.2 1.2 3 1.2 3.6 1.2 2.8 1.2 0.7 1.2 1.7 1.2 -2.8 1.2 -2.1 1.2 -5.9 1.2 -3.6 1.2 -0.5 1.2 -1.3 1.2 0.5 1.2 -1.1 1.2 -2.3 1.2 1.2 1.2 0.5 1.2 -0.2 1.2 -0.4 1.2 2 1.2 5.9 1.2 -1.2 1.2 4.4 1.2 6 1.2 3 1.2 0.9 1.2 -0.4 1.2 -2.9 1.2 -3.9 1.2 -7.6 1.2 -5.4 1.2 -5.3 1.2 -0.2 1.2 1.1 1.2 -0.9 1.2 2.5 1.2 7.3 1.2 8.7 1.2 1.2 1.2 2 1.2 0.9 1.2 2.9 1.2 -2.8 1.2 -4.9 1.2 -4.2 1.2 -6.3 1.2 1.2 1.2 -0.6 1.2 2.7 1.2 -2 1.2 -0.7 1.2 -4.5 1.2 1.4 1.2 3.1 1.2 1.6 1.2 -4 1.2 2.3 1.2 2 1.2 5.2 1.2 3.3 1.2 5.2 1.2 -0.4 1.2 -1.2 1.2 -2.3 1.2 -4.3 1.2 -0.4 1.2 -6.4 1.2 -4.7 1.2 -1 1.2 2 1.2 1.4 1.2 0.8 1.2 0.6 1.2 2.5 1.2 4.1 1.2 3.2 1.2 -0.6 1.2 -1.2 1.2 -2 1.2 -4.4 1.2 -2.5 1.2 -5.4 1.2 3.5 1.2 0.2 1.2 0.7 1.2 1.9 1.2 1.9 1.2 1.6 1.2 -3.3 1.2 -2.3 1.2 2.9 1.2 -0.4 1.2 0.4 1.2 2 1.2 -2.9 1.2 3.1 1.2 2.7 1.2 3.3 1.2 -1.7 1.2 -0.7 1.2 -3.7 1.2 -4.6 1.2 -3.9 1.2 -4.9 1.2 -1.3 1.2 -1.4 1.2 -1.5 1.2 6.3 1.2 6.1 1.2 6.1 1.2 0.2 1.2 6.9 1.2 2 1.2 -3.7 1.2 -0.1 1.2 -2.8 1.2 -4.2 1.2 -5.8 1.2 -3 1.2 -2 1.2 -1.3 1.2 0.3 1.2 5.6 1.2 -1 1.2 0 1.2 0 1.2 3.8 1.2 0 1.2 -1.9 1.2 1.2 1.2 5.2 1.2 -1.1 1.2 -1.6 1.2 -1.8 1.2 -2.9 1.2 1.3 1.2 -3.5 1.2 -4.8 1.2 0.1 1.2 3.1 1.2 -0.8 1.2 -2.3 1.2 -0.4 1.2 6.4 1.2 3.9 1.2 4.9 1.2 0 1.2 -0.2 1.2 1 1.2 -2.6 1.2 -1.2 1.2 -3.4 1.2 -6.2 1.2 -1.9 1.2 -1.2 1.2 0.4 1.2 -1.2 1.2 5.5 1.2 0.6 1.2 3.1 1.2 0.6 1.2 -2.7 1.2 3.1 1.2 4.9 1.2 0.4 1.2 -0.5 1.2 1.2 1.2 -1.2 1.2 0.4 1.2 -5.9 1.2 -2.2 1.2 0.6 1.2 -2.4 1.2 -2.7 1.2 -0.7 1.2 1.1 1.2 -0.9 1.2 5 1.2 2.2 1.2 2.6 1.2 6.3 1.2 -0.4 1.2 3.8 1.2 0.9 1.2 0 1.2 -5.4 1.2 -3 1.2 -6.8 1.2 -1.5 1.2 -2.8 1.2 -3.6 1.2 -3.5 1.2 4 1.2 2.3 1.2 3.5 1.2 6 1.2 3.3 1.2 4.7 1.2 -2 1.2 1.9 1.2 2 1.2 -4 1.2 -7.4 1.2 -1.2 1.2 3.7 1.2 -3.6 1.2 -3.9 1.2 3.1 1.2 -0.7 1.2 -1.8 1.2 0 1.2 -0.1 1.2 2.4 1.2 -1.2 1.2 6.1 1.2 3.6 1.2 1.6 1.2 7.4 1.2 3.3 1.2 -0.1 1.2 -4.3 1.2 -2.4 1.2 -6.9 1.2 -6 1.2 -6.5 1.2 -2.6 1.2 2 1.2 3.2 1.2 2.6 1.2 2.7 1.2 1.3 1.2 5.8 1.2 2.3 1.2 -1.1 1.2 3.1 1.2 -1.4 1.2 2.2 1.2 -5.9 1.2 -3.2 1.2 1.9 1.2 -3.5 1.2 -2.5 1.2 0.3 1.2 1.2 1.2 -3.7 1.2 0 1.2 6.2 1.2 3.2 1.2 -3.1 1.2 3.2 1.2 2 1.2 -3.9 1.2 4.6 1.2 0.8 1.2 -2.1" fill="none" stroke="#41733d" stroke-width="5.7" stroke-linejoin="round" stroke-linecap="round"/>
<path d="M2152.5 1528.8l233 0 0.7 14.9 0.7 13.7 0.7 13.2 0.7 14.1 0.7 13.9 0.7 12.2 0.7 9.7 0.7 7.1 0.7 5.8 0.7 4.5 0.7 3.2 0.7 3.2 0.7 3.6 0.7 3.8 0.7 3.5 0.7 3 0.7 2.9 0.7 2.8 0.7 2.4 0.7 2.7 0.7 3.2 0.7 3 0.7 2.3 0.7 1.8 0.7 1.7 0.7 2.1 0.7 2.8 0.7 2.8 0.7 1.8 0.7 1 0.7 1 0.7 2.1 0.7 3.6 0.7 5 0.7 5.6 0.7 6.2 0.7 6.7 0.7 7.5 0.7 8.6 0.7 9.6 0.7 9.8 0.7 9.1 0.7 7.6 0.7 6 0.7 5.1 0.7 4.1 0.7 2.9 0.7 1.9 0.7 2.1 0.7 3.7 0.7 4.9 0.7 5.2 0.7 5.1 0.7 5.2 0.7 5.4 0.7 5.6 0.7 6.4 0.7 7.1 0.7 7.1 0.7 6.5 0.7 5.6 0.7 5 0.7 5.1 0.7 5.6 0.7 6.2 0.7 6.9 0.7 6.9 0.7 6.3 0.7 5.2 0.7 3.8 0.7 3 0.7 2.6 0.7 2.9 0.7 3.3 0.7 3.4 0.7 3.1 0.7 2.6 0.7 2.5 0.7 2.9 0.7 3.5 0.7 3.4 0.7 2.3 0.7 1.3 0.7 1.4 0.7 2.4 0.7 3 0.7 2.4 0.7 1.4 0.7 1.1 0.7 1.2 0.7 1.3 0.7 1.2 0.7 1.4 0.7 1.7 0.7 2.2 0.7 2.8 0.7 3.1 0.7 2.6 0.7 2 0.7 1.8 0.7 2 0.7 2.4 0.7 2.7 0.7 2.8 0.7 2.6 0.7 2.4 0.7 2 0.7 2.2 0.7 2.8 0.7 3.1 0.7 2.5 0.7 1.5 0.7 1 0.7 1.4 0.7 1.8 0.7 1.6 0.7 1.7 0.7 2 0.7 1.7 0.7 1.5 0.7 1.9 0.7 2 0.7 1.8 0.7 1.7 0.7 2 0.7 2.1 0.7 2 0.7 2.5 0.7 2.9 0.7 3 0.7 3.1 0.7 3.5 0.7 3.8 0.7 3.8 0.7 3.2 0.7 3 0.7 3.5 0.7 4 0.7 3.7 0.7 2.9 0.7 1.3 0.7 0.2 0.7 0.5 0.7 0.8 0.7 0.5 0.7 0.2 0.7 0.2 0.7 0.1 0.7 0.2 0.7 0.8 0.7 0.9 0.7 0.2 0.7 -0.2 0.7 0.5 0.7 1.2 0.7 0.9 0.7 0.5 0.7 0.6 0.7 0.8 0.7 0.6 0.7 0.6 0.7 0.9 0.7 1 0.7 1 0.7 1.3 0.7 1.7 0.7 2.2 0.7 2.5 0.7 2.2 0.7 1.6 0.7 1.2 0.7 1.2 0.7 1.4 0.7 1.6 0.7 1.7 0.7 1.5 0.7 1.7 0.7 2.3 0.7 2.4 0.7 1.8 0.7 1.3 0.7 1.4 0.7 1.7 0.7 1.4 0.7 0.9 0.7 0.6 0.7 1.2 0.7 2.5 0.7 2.2 0.7 0.7 0.7 0 0.7 0.4 1.3 0.3 1.2 -0.3 1.2 -0.5 1.2 -0.7 1.2 -2 1.2 -1.9 1.2 -3.4 1.2 -2.8 1.2 -2.8 1.2 -3.8 1.2 -0.4 1.2 0.1 1.2 0.2 1.2 4.1 1.2 4 1.2 3.3 1.2 3.4 1.2 6 1.2 1.3 1.2 -4.9 1.2 -7.3 1.2 1.4 1.2 -6.2 1.2 -1.5 1.2 -1.3 1.2 -1.7 1.2 -5.6 1.2 2.6 1.2 1.1 1.2 -1.9 1.2 0.3 1.2 2.7 1.2 -2.2 1.2 -2.6 1.2 4.4 1.2 6.6 1.2 6.2 1.2 2.1 1.2 4.4 1.2 -2.3 1.2 -0.7 1.2 -0.1 1.2 -0.4 1.2 -2.1 1.2 -5.2 1.2 -1.8 1.2 -4.9 1.2 -1.4 1.2 0.9 1.2 1 1.2 -3.8 1.2 5.3 1.2 2.5 1.2 -0.5 1.2 3.6 1.2 -4.5 1.2 -0.9 1.2 0.9 1.2 3.2 1.2 6.3 1.2 -0.5 1.2 3.3 1.2 3.3 1.2 -3.1 1.2 -0.4 1.2 -2.9 1.2 -5.5 1.2 -4.8 1.2 -1.2 1.2 0.4 1.2 -3.3 1.2 0.7 1.2 -2 1.2 3.8 1.2 2.5 1.2 4.1 1.2 2.7 1.2 -4.2 1.2 3.3 1.2 0.3 1.2 -1.3 1.2 1.1 1.2 3.9 1.2 2.7 1.2 -1.3 1.2 1 1.2 2.7 1.2 0.1 1.2 -3.9 1.2 -5.5 1.2 -4.4 1.2 -2.9 1.2 -1.9 1.2 0.4 1.2 -1.3 1.2 2.3 1.2 3.6 1.2 1.7 1.2 6.5 1.2 -0.9 1.2 0 1.2 4.4 1.2 -0.3 1.2 -2.9 1.2 -2.4 1.2 4.1 1.2 2.3 1.2 -7.4 1.2 1.8 1.2 3.1 1.2 -0.3 1.2 -2.4 1.2 -1.8 1.2 -6.2 1.2 -1.4 1.2 -1 1.2 -1.4 1.2 1.1 1.2 -0.3 1.2 7.8 1.2 4.1 1.2 6.4 1.2 4.3 1.2 -0.9 1.2 -0.6 1.2 1.9 1.2 -3.2 1.2 -1.6 1.2 0.5 1.2 -1.8 1.2 2 1.2 -4.4 1.2 -0.9 1.2 -5 1.2 -2.4 1.2 1.6 1.2 -3.3 1.2 -2.2 1.2 -0.5 1.2 -1.5 1.2 5.1 1.2 2.4 1.2 5.8 1.2 5.1 1.2 1.6 1.2 4.4 1.2 -2 1.2 -4.4 1.2 -3.8 1.2 -1.8 1.2 0.3 1.2 -3.2 1.2 -2.3 1.2 -2.9 1.2 -2.1 1.2 3.8 1.2 -1.7 1.2 0.5 1.2 -1.4 1.2 -0.9 1.2 -1.9 1.2 0.7 1.2 2.2 1.2 1.9 1.2 1.3 1.2 3.9 1.2 2.4 1.2 7.6 1.2 1 1.2 1.3 1.2 -3.1 1.2 -5.4 1.2 -4.6 1.2 -2 1.2 -4.2 1.2 -0.4 1.2 -1.2 1.2 -0.4 1.2 2.2 1.2 0.9 1.2 -2 1.2 -0.8 1.2 5.7 1.2 -0.1 1.2 -0.4 1.2 -1 1.2 2.3 1.2 3.5 1.2 3.8 1.2 3.2 1.2 -0.2 1.2 0 1.2 2.6 1.2 -3.6 1.2 -7.2 1.2 -3.3 1.2 -3.1 1.2 -2.4 1.2 -2.6 1.2 -3.4 1.2 -1.5 1.2 1.7 1.2 1.6 1.2 5.3 1.2 5 1.2 -0.3 1.2 1.2 1.2 5.3 1.2 -4.1 1.2 0.3 1.2 -1.7 1.2 3.4 1.2 2.3 1.2 -1.8 1.2 -1.1 1.2 2 1.2 -2.5 1.2 -4.8 1.2 -3.3 1.2 -7.7 1.2 -1.1 1.2 -2.5 1.2 3.3 1.2 1.9 1.2 2.3 1.2 8.5 1.2 3.8 1.2 0 1.2 3.1 1.2 1.9 1.2 0.6 1.2 -1.1 1.2 -2.6 1.2 -0.8 1.2 2.3 1.2 1.7 1.2 1.7 1.2 -0.9 1.2 -4.6 1.2 -0.6 1.2 -6.3 1.2 -4.2 1.2 -1.8 1.2 -3.1 1.2 1.6 1.2 -0.3 1.2 0.2 1.2 4.3 1.2 5.4 1.2 2.1 1.2 2.9 1.2 -1 1.2 1.9 1.2 1.3 1.2 0.1 1.2 0.4 1.2 -4.6 1.2 -3.6 1.2 -3.7 1.2 2 1.2 4.8 1.2 3.7 1.2 -3.4 1.2 -2.3 1.2 -2.3 1.2 -3.1 1.2 -0.7 1.2 0.5 1.2 2.8 1.2 -0.8 1.2 3.5 1.2 3.9 1.2 0.2 1.2 1.2 1.2 3.6 1.2 2.5 1.2 -0.4 1.2 -2.8 1.2 -2.5 1.2 -7.1 1.2 -2.3 1.2 -1.9 1.2 3.9 1.2 2 1.2 -1.8 1.2 -0.8 1.2 -0.5 1.2 -2.6 1.2 -1.4 1.2 0.6 1.2 0.4 1.2 -0.3 1.2 0.3 1.2 5 1.2 2.5 1.2 4.1 1.2 3.2 1.2 -1.7 1.2 3.9 1.2 -0.6 1.2 -3.9 1.2 -3.8 1.2 -0.8 1.2 -7.3 1.2 -4 1.2 2.3 1.2 2.2 1.2 2.2 1.2 0.2 1.2 1.5 1.2 1.6 1.2 -4.9 1.2 1.9 1.2 -1.8 1.2 -2 1.2 2 1.2 5.9 1.2 3.9 1.2 -1.1 1.2 1.8 1.2 1.7 1.2 2.2 1.2 -0.4 1.2 -12.1 1.2 1 1.2 -4.1 1.2 -3.1 1.2 -3.4 1.2 -2.2 1.2 5.6 1.2 2.6 1.2 -0.2 1.2 1 1.2 4.2 1.2 2.6 1.2 -1.3 1.2 -2.3 1.2 -1.3 1.2 2.8 1.2 1.5 1.2 1.5 1.2 -0.6 1.2 0.3 1.2 -0.5 1.2 -5.8 1.2 1.1 1.2 -4.1 1.2 -2.7 1.2 0.3 1.2 -1.4 1.2 -1 1.2 1.5 1.2 -1.6 1.2 3.1 1.2 2.8 1.2 4.6 1.2 -1.6 1.2 1.9 1.2 3.3 1.2 3.8 1.2 -1.6 1.2 -1.1 1.2 0.1 1.2 1.9 1.2 -1.1 1.2 -2.9 1.2 -0.8 1.2 -0.4 1.2 -4.7 1.2 -2 1.2 1.2 1.2 -2.4 1.2 -6.3 1.2 2.3 1.2 -0.4 1.2 -0.3 1.2 4.2 1.2 -1.3 1.2 6.4 1.2 2.4 1.2 -3.8 1.2 5.6 1.2 2.6 1.2 0.1 1.2 1.4 1.2 -5.1 1.2 -0.9 1.2 -3.2 1.2 0.7 1.2 2.2 1.2 -2.1 1.2 2.5 1.2 -4.1 1.2 -0.3 1.2 -0.3 1.2 0.8 1.2 0.8 1.2 -2.3 1.2 1.5 1.2 3.3 1.2 4.2 1.2 4.6 1.2 -1.8 1.2 2.9 1.2 1.7 1.2 0.8 1.2 -3.8 1.2 -1.4 1.2 -2.9 1.2 -2.3 1.2 0.7 1.2 1.4 1.2 -2 1.2 -2.2 1.2 -0.1 1.2 0 1.2 -0.7 1.2 -4.2 1.2 1.2 1.2 1.7 1.2 2.8 1.2 -2.4 1.2 2.4 1.2 3.5 1.2 6.1 1.2 -0.7 1.2 2 1.2 1.2 1.2 -2.7 1.2 -3.2 1.2 -0.6 1.2 -5.6 1.2 -0.5 1.2 -3.6 1.2 -2.5 1.2 -4.9 1.2 5.5 1.2 4.5 1.2 -1.9 1.2 -1.9 1.2 3.2 1.2 2.1 1.2 -0.8 1.2 0.6 1.2 3.4 1.2 2 1.2 3.1 1.2 0 1.2 1.4 1.2 1.5 1.2 0.5 1.2 -2 1.2 -4.9 1.2 -3.9 1.2 -3.5 1.2 -0.7 1.2 -4.9 1.2 -1 1.2 -0.1 1.2 2.3 1.2 1.6 1.2 2.5 1.2 3.3 1.2 3.1 1.2 1.5 1.2 0.4 1.2 1 1.2 -0.5 1.2 0.2 1.2 0.3 1.2 1 1.2 0 1.2 0.7 1.2 -6.7 1.2 -2 1.2 -4.7 1.2 -3.8 1.2 0.3 1.2 0.8 1.2 -0.4 1.2 4.2 1.2 0.9 1.2 1.7 1.2 1.3 1.2 4.4 1.2 3.7 1.2 2 1.2 1.4 1.2 -2.7 1.2 -0.7 1.2 -0.9 1.2 0.8 1.2 -0.8 1.2 1.1 1.2 4.1 1.2 -2.1 1.2 -6.8 1.2 -2.3 1.2 -0.2 1.2 -5.1 1.2 -1.2 1.2 0.7 1.2 -2.5 1.2 3.3 1.2 1 1.2 2.3 1.2 1.8 1.2 4.7 1.2 3.6 1.2 -0.1 1.2 0.7 1.2 -1.4 1.2 0.2 1.2 -5.3 1.2 -2.8 1.2 -4.1 1.2 -1.5 1.2 2.7 1.2 2.2 1.2 -0.7 1.2 -0.7 1.2 -2.5 1.2 1.6 1.2 -0.7 1.2 -2.4 1.2 1 1.2 1.5 1.2 2 1.2 -1.3 1.2 3.3 1.2 4.5 1.2 3.7 1.2 1.3 1.2 -2.4 1.2 -2.2 1.2 -0.6 1.2 -4.8 1.2 -6.8 1.2 0.5 1.2 1.9 1.2 4 1.2 -1.3 1.2 0.7 1.2 -1.1 1.2 0.6 1.2 -0.3 1.2 -0.1 1.2 -0.8 1.2 -1.5 1.2 1.2 1.2 0.6 1.2 3.6 1.2 1.9 1.2 0.4 1.2 3.2 1.2 0.2 1.2 -3.5 1.2 -1.9 1.2 -4.8 1.2 -7.2 1.2 -1.5 1.2 -2.3 1.2 0.2 1.2 -0.7 1.2 -1 1.2 3.5 1.2 0.7 1.2 2.8 1.2 1.8 1.2 1.1 1.2 2.7 1.2 0.2 1.2 3.1 1.2 4.2 1.2 3.1 1.2 2.9 1.2 -1.6 1.2 -4 1.2 0.6 1.2 -2.5 1.2 1.4 1.2 -3.6 1.2 -6.5 1.2 -1.9 1.2 0.6 1.2 -1.8 1.2 -2 1.2 -0.1 1.2 6.3 1.2 2.5 1.2 -0.3 1.2 -0.1 1.2 3.2 1.2 7.1 1.2 -3.7 1.2 -4.2 1.2 1 1.2 2.8 1.2 5.5 1.2 -0.1 1.2 -2 1.2 -0.9 1.2 -2.8 1.2 1.8 1.2 -5.1 1.2 -4.9 1.2 -3.5 1.2 -3 1.2 -2 1.2 3.1 1.2 5.8 1.2 0.6 1.2 3.9 1.2 -0.4 1.2 0.5 1.2 -2 1.2 0.5 1.2 3.1 1.2 2.2 1.2 -1.4 1.2 -3.2 1.2 1 1.2 2.2 1.2 3.7 1.2 -2.1 1.2 -6.4 1.2 -0.4 1.2 -2.9 1.2 3.7 1.2 -1.3 1.2 -4 1.2 3.3 1.2 -1.9 1.2 3.7 1.2 1.3 1.2 0.9 1.2 2.5 1.2 3.8 1.2 4.1 1.2 -2.2 1.2 -2.1 1.2 -2.2 1.2 1.4 1.2 -2.5 1.2 -1.9 1.2 -2.2 1.2 0.4 1.2 0.4 1.2 0 1.2 1.8 1.2 -0.4 1.2 0.2 1.2 1.9 1.2 -4.1 1.2 0.9 1.2 2.3 1.2 -2 1.2 0.9 1.2 5.4 1.2 1.3 1.2 -2.5 1.2 -1.2 1.2 -0.5 1.2 1.9 1.2 -2.3 1.2 -2.9 1.2 -1.4 1.2 -2.7 1.2 1.7 1.2 1.1 1.2 -1.9 1.2 0.1 1.2 -0.5 1.2 1 1.2 5.1 1.2 -2 1.2 -3.4 1.2 0.9 1.2 5.9 1.2 -1.2 1.2 0.3 1.2 -1.3 1.2 -0.4 1.2 -4.5 1.2 5.3 1.2 -0.5 1.2 -2.3 1.2 2.1 1.2 -2.2 1.2 -4.3 1.2 -1 1.2 0.3 1.2 2.8 1.2 -3.3 1.2 -1.5 1.2 4.3 1.2 2.2 1.2 2.6 1.2 -1.4 1.2 -2.2 1.2 -0.1 1.2 -1.7 1.2 1.8 1.2 1.2 1.2 1.6 1.2 -3.3 1.2 2.6 1.2 1 1.2 -4.1 1.2 0 1.2 1.3 1.2 -0.4 1.2 -2.4 1.2 0.2 1.2 -4.7 1.2 -0.9 1.2 0.8 1.2 2.8 1.2 -1.4 1.2 2.3 1.2 0.3 1.2 3 1.2 2.5 1.2 -2.2 1.2 2.6 1.2 -1.5 1.2 -4.8 1.2 -3.1 1.2 4.2 1.2 4.6 1.2 3.6 1.2 -1 1.2 -3.7 1.2 -1.1 1.2 -5.4 1.2 -2.2 1.2 -1 1.2 2.7 1.2 -1.3 1.2 1.3 1.2 2.3 1.2 -1.1 1.2 0.5 1.2 2.4 1.2 3.6 1.2 0 1.2 -0.1 1.2 1.4 1.2 0 1.2 -1.4 1.2 0.9 1.2 0.7 1.2 -1.6 1.2 -3.6 1.2 -1.3 1.2 1.1 1.2 -1.4 1.2 -2.4 1.2 -1.6 1.2 4.5 1.2 -0.7 1.2 0.2 1.2 1.7 1.2 0 1.2 2.2 1.2 2.5 1.2 3.2 1.2 2.3 1.2 -0.8 1.2 -0.7 1.2 -1 1.2 0.5 1.2 -2.6 1.2 -2.6 1.2 -2.8 1.2 -1.9 1.2 2.4 1.2 2.4 1.2 -0.5 1.2 -3.8 1.2 -0.1 1.2 1.3 1.2 -1.3 1.2 -0.8 1.2 -2.3 1.2 3.9 1.2 3 1.2 5.2 1.2 2.4 1.2 -1.1 1.2 1 1.2 -0.9 1.2 -2.3 1.2 -2.3 1.2 -2.5 1.2 0.3 1.2 -5 1.2 -0.1 1.2 6.4 1.2 -2.1 1.2 1.6 1.2 3.9 1.2 -4.6 1.2 -1.6 1.2 -0.9 1.2 1.5 1.2 0.2 1.2 3.2 1.2 0.4 1.2 0.8 1.2 2.3 1.2 2 1.2 -2.4 1.2 -2.2 1.2 1.2 1.2 0.7 1.2 -4.6 1.2 -4.4 1.2 -0.9 1.2 -0.4 1.2 1.7 1.2 -2.9 1.2 -2.3 1.2 -3.1 1.2 5.7 1.2 7.6 1.2 0 1.2 -2.7 1.2 -0.1 1.2 2 1.2 0.4 1.2 -2 1.2 1.1 1.2 0.3 1.2 1.9 1.2 0.1 1.2 1.2 1.2 -4.7 1.2 -3.6 1.2 2.2 1.2 -3.9 1.2 0.2 1.2 -3.6 1.2 2.1 1.2 -2.2 1.2 -0.5 1.2 1.9 1.2 1.6 1.2 -1.4 1.2 0.5 1.2 2.9 1.2 5.6 1.2 -2.6 1.2 -2.6 1.2 0 1.2 3.5 1.2 3.8 1.2 -0.2 1.2 -3.8" fill="none" stroke="#181818" stroke-width="5.7" stroke-linejoin="round" stroke-linecap="round"/>
<path d="M2152.5 1528.8l233 0 0.7 16.1 0.7 13.6 0.7 9.3 0.7 8.4 0.7 7.6 0.7 6.8 0.7 5.9 0.7 5.1 0.7 4.7 0.7 4.7 0.7 5.1 0.7 5.3 0.7 5.5 0.7 5.7 0.7 5.8 0.7 5.7 0.7 5.3 0.7 5.2 0.7 5.4 0.7 5.7 0.7 5.9 0.7 5.9 0.7 5.8 0.7 5.6 0.7 5.1 0.7 5.5 0.7 6.5 0.7 7.8 0.7 8.5 0.7 8.8 0.7 9.3 0.7 10.4 0.7 11 0.7 10.8 0.7 10 0.7 9.3 0.7 9 0.7 8.3 0.7 7.3 0.7 6 0.7 4.2 0.7 2.2 0.7 0.9 0.7 0.4 0.7 0 0.7 -0.2 0.7 0.2 0.7 0.7 0.7 1.2 0.7 1.7 0.7 2.3 0.7 2.7 0.7 3.3 0.7 4.1 0.7 5.4 0.7 6.5 0.7 7.1 0.7 7.1 0.7 6.9 0.7 7 0.7 7.3 0.7 7.5 0.7 7.2 0.7 7 0.7 7.5 0.7 8 0.7 8 0.7 7.4 0.7 6.6 0.7 6.4 0.7 6.8 0.7 7.1 0.7 7.2 0.7 7.3 0.7 7.2 0.7 7.3 0.7 7.5 0.7 7.6 0.7 7.6 0.7 7.5 0.7 7.1 0.7 6.6 0.7 5.9 0.7 4.9 0.7 3.8 0.7 2.9 0.7 2 0.7 1.2 0.7 1 0.7 1.6 0.7 1.8 0.7 1.7 0.7 1.5 0.7 1.4 0.7 1.2 0.7 0.8 0.7 0.3 0.7 0.2 0.7 0.5 0.7 0.8 0.7 1 0.7 1 0.7 0.8 0.7 0.8 0.7 0.6 0.7 0.4 0.7 0.5 0.7 1 0.7 1.3 0.7 1.4 0.7 1.3 0.7 0.8 0.7 0.4 0.7 0.5 0.7 1.3 0.7 1.7 0.7 1.7 0.7 1.2 0.7 0.8 0.7 0.6 0.7 0.5 0.7 0.9 0.7 1.6 0.7 2.2 0.7 2.5 0.7 2.6 0.7 2.2 0.7 2.4 0.7 3 0.7 3.9 0.7 4.2 0.7 3.6 0.7 2.1 0.7 0.6 0.7 0.2 0.7 0.9 0.7 1.8 0.7 2 0.7 1.9 0.7 1.7 0.7 1.7 0.7 1.1 0.7 0.4 0.7 -0.2 0.7 -0.2 0.7 0.5 0.7 1.4 0.7 1.7 0.7 1.4 0.7 0.5 0.7 -0.5 0.7 -0.9 0.7 -0.7 0.7 0 0.7 0.6 0.7 0.2 0.7 -0.5 0.7 -1 0.7 -1 0.7 -1.1 0.7 -1.5 0.7 -1.8 0.7 -2.1 0.7 -2 0.7 -2.3 0.7 -2.5 0.7 -2.6 0.7 -1.9 0.7 -1.4 0.7 -1.8 1.7 -2.5 1.2 0.5 1.2 0.3 1.2 -0.8 1.2 -1.6 1.2 -2.9 1.2 -2.5 1.2 -1.6 1.2 -0.3 1.2 1.9 1.2 4.3 1.2 5.5 1.2 8.7 1.2 8 1.2 -0.1 1.2 1.4 1.2 3.3 1.2 -5.6 1.2 -3 1.2 -2.2 1.2 -3.6 1.2 -5.3 1.2 -0.8 1.2 -2.3 1.2 1.8 1.2 -9.7 1.2 -4.8 1.2 -2.1 1.2 1.2 1.2 9.3 1.2 8.4 1.2 2.2 1.2 4.3 1.2 4.7 1.2 6.7 1.2 1.2 1.2 -2.4 1.2 -2.6 1.2 -4.3 1.2 -5.3 1.2 -5.6 1.2 -3.9 1.2 1.4 1.2 0 1.2 1.5 1.2 -1 1.2 -4.9 1.2 -1.5 1.2 0.7 1.2 1 1.2 5.1 1.2 3.8 1.2 6 1.2 4 1.2 3.7 1.2 3.6 1.2 -1 1.2 -2.3 1.2 -1.8 1.2 -7.3 1.2 -6.6 1.2 -4.6 1.2 -0.1 1.2 -0.5 1.2 -1.7 1.2 0.6 1.2 -4.3 1.2 2.8 1.2 1.2 1.2 1.3 1.2 6.1 1.2 -0.9 1.2 1.9 1.2 4 1.2 1.2 1.2 5.2 1.2 3.9 1.2 -3.7 1.2 -3.1 1.2 -0.3 1.2 -4 1.2 -6.3 1.2 -5.7 1.2 -2.6 1.2 -1.5 1.2 0.8 1.2 3.1 1.2 4.1 1.2 2.8 1.2 2.3 1.2 4.7 1.2 2.1 1.2 2 1.2 -2.7 1.2 1.8 1.2 1.5 1.2 0.8 1.2 2 1.2 -0.9 1.2 -3.9 1.2 -5.7 1.2 -5.7 1.2 -5.7 1.2 -1.7 1.2 -0.4 1.2 0.8 1.2 5.4 1.2 4.8 1.2 0.4 1.2 4.4 1.2 1.6 1.2 2.9 1.2 1.3 1.2 1.7 1.2 -1.6 1.2 1.1 1.2 -2.3 1.2 -2.2 1.2 -1.3 1.2 1.5 1.2 -0.4 1.2 -2.9 1.2 -0.4 1.2 -4.5 1.2 -5.7 1.2 -1 1.2 2.2 1.2 2.2 1.2 7.6 1.2 5.1 1.2 5.1 1.2 5.3 1.2 3.2 1.2 -3.4 1.2 -3.6 1.2 -1.1 1.2 -4.2 1.2 -5.1 1.2 -1.2 1.2 -0.4 1.2 -1.3 1.2 -4.8 1.2 -3.4 1.2 -1.8 1.2 -1.9 1.2 0.8 1.2 4 1.2 2.8 1.2 4.8 1.2 3.9 1.2 6.4 1.2 6.4 1.2 2.1 1.2 -2.2 1.2 -0.5 1.2 -0.9 1.2 -9.1 1.2 -7.7 1.2 -3.8 1.2 -2.3 1.2 -0.4 1.2 0.6 1.2 -0.6 1.2 2.1 1.2 2.6 1.2 0.4 1.2 -0.2 1.2 1.3 1.2 2.7 1.2 3.8 1.2 1.6 1.2 2.9 1.2 1.1 1.2 2.1 1.2 -1 1.2 -2.6 1.2 -5 1.2 -6 1.2 -5.3 1.2 -1.6 1.2 0.9 1.2 -0.7 1.2 2.4 1.2 4.3 1.2 2.3 1.2 -1.1 1.2 0.6 1.2 -1.5 1.2 -3.7 1.2 2.9 1.2 2.2 1.2 2.1 1.2 2.9 1.2 -3.4 1.2 -1.4 1.2 -3.3 1.2 0.8 1.2 -2.2 1.2 -3.3 1.2 -0.7 1.2 -2.5 1.2 -2.7 1.2 0.5 1.2 4.3 1.2 1.4 1.2 0.3 1.2 0.7 1.2 3.5 1.2 3.8 1.2 2.5 1.2 -3.5 1.2 -2 1.2 0.6 1.2 2.8 1.2 -2.5 1.2 2.4 1.2 -0.8 1.2 -4.1 1.2 -4.4 1.2 -2.4 1.2 -3.3 1.2 -2.1 1.2 3.7 1.2 -1 1.2 2.2 1.2 -0.5 1.2 9 1.2 5 1.2 0.9 1.2 2.5 1.2 0.8 1.2 -2 1.2 -0.5 1.2 -4.4 1.2 -2.4 1.2 0.4 1.2 -2.8 1.2 -5.6 1.2 -2.9 1.2 -1.7 1.2 -0.5 1.2 -3.8 1.2 1.7 1.2 2.3 1.2 2.2 1.2 5.1 1.2 2.9 1.2 3.8 1.2 3.4 1.2 5.2 1.2 -1.5 1.2 -0.6 1.2 -3.9 1.2 -5.4 1.2 -2 1.2 0.9 1.2 -3.7 1.2 -3.7 1.2 0.3 1.2 0.3 1.2 4 1.2 -5.1 1.2 -1.9 1.2 2.7 1.2 -2.2 1.2 6.4 1.2 7.9 1.2 1 1.2 0.7 1.2 4.8 1.2 3.7 1.2 -3.6 1.2 -6.3 1.2 -5 1.2 -4.3 1.2 -1.9 1.2 -0.6 1.2 -1.5 1.2 -2.1 1.2 -2.6 1.2 1.8 1.2 4.6 1.2 -0.1 1.2 3.2 1.2 2.2 1.2 -0.5 1.2 2.2 1.2 4.6 1.2 4.5 1.2 3.2 1.2 0.3 1.2 -2.1 1.2 -3.9 1.2 -4.1 1.2 -3.5 1.2 -2.8 1.2 -5.2 1.2 -6.8 1.2 1 1.2 4.3 1.2 0 1.2 1.2 1.2 8.6 1.2 0.7 1.2 2.9 1.2 2.6 1.2 0.7 1.2 2.1 1.2 6.2 1.2 0 1.2 -1 1.2 -2 1.2 -4 1.2 -0.4 1.2 -6.4 1.2 -4.5 1.2 -7.7 1.2 -3.4 1.2 2.7 1.2 -1 1.2 0.2 1.2 7.9 1.2 7.2 1.2 2.1 1.2 0.2 1.2 2.6 1.2 3.3 1.2 0.3 1.2 -2.9 1.2 -0.2 1.2 0.7 1.2 0.2 1.2 -1.4 1.2 -1.1 1.2 0 1.2 -2.9 1.2 -3.9 1.2 -1.9 1.2 -4.6 1.2 1.3 1.2 0.7 1.2 5.3 1.2 -2.8 1.2 4 1.2 7 1.2 4.4 1.2 3.3 1.2 -3.5 1.2 0.8 1.2 -0.9 1.2 -3.6 1.2 -4.4 1.2 1.5 1.2 -0.7 1.2 -2.6 1.2 -2.1 1.2 -1.9 1.2 -2.1 1.2 -0.6 1.2 -2 1.2 -1.4 1.2 1.3 1.2 3.8 1.2 5.3 1.2 3.5 1.2 3.2 1.2 1.8 1.2 -0.8 1.2 1.3 1.2 -4.7 1.2 -3.4 1.2 -1.9 1.2 -5.4 1.2 0.2 1.2 1.4 1.2 -3.8 1.2 3.6 1.2 1.1 1.2 -2.7 1.2 1.5 1.2 2.1 1.2 -0.9 1.2 2.3 1.2 -0.6 1.2 1.6 1.2 2.3 1.2 4.7 1.2 3 1.2 -2.2 1.2 -3.5 1.2 -1.7 1.2 0.3 1.2 -0.7 1.2 -5.4 1.2 -3.8 1.2 0.4 1.2 -1.3 1.2 0 1.2 1 1.2 3.2 1.2 -4.2 1.2 4.4 1.2 0.5 1.2 2.7 1.2 5.5 1.2 -1.5 1.2 0.3 1.2 1.6 1.2 0.7 1.2 -2 1.2 -2.7 1.2 0.5 1.2 1.6 1.2 -4.2 1.2 -3 1.2 -3.3 1.2 -0.6 1.2 4.2 1.2 -0.8 1.2 1.1 1.2 3.5 1.2 -1.3 1.2 0.6 1.2 1.8 1.2 1 1.2 1.9 1.2 3.5 1.2 -2.9 1.2 -4.1 1.2 3.7 1.2 -0.1 1.2 -1.9 1.2 -2.3 1.2 -3.2 1.2 -2.3 1.2 -1.1 1.2 -3.2 1.2 -0.1 1.2 5.6 1.2 -3.9 1.2 0.6 1.2 0.1 1.2 3.9 1.2 0.6 1.2 2.3 1.2 3.5 1.2 -0.1 1.2 -1.5 1.2 -3.1 1.2 3.9 1.2 -2.9 1.2 3.7 1.2 0.5 1.2 -1.7 1.2 -3 1.2 -0.4 1.2 -2.1 1.2 -0.5 1.2 -1.1 1.2 -0.9 1.2 6.4 1.2 1.3 1.2 0.7 1.2 1.7 1.2 1.7 1.2 -3 1.2 -3.3 1.2 2.4 1.2 -0.7 1.2 -3.1 1.2 -2.3 1.2 1.1 1.2 -1.7 1.2 0.9 1.2 1.8 1.2 2.4 1.2 -2.3 1.2 -0.3 1.2 3.6 1.2 -1.1 1.2 0.9 1.2 1.6 1.2 1.8 1.2 1 1.2 6.5 1.2 0.9 1.2 -1.8 1.2 -1.1 1.2 -1.9 1.2 -7 1.2 -3.2 1.2 -2.5 1.2 3 1.2 -2.2 1.2 -5.1 1.2 1.7 1.2 3.9 1.2 0.1 1.2 -0.6 1.2 4.3 1.2 -1.8 1.2 0 1.2 0.8 1.2 4.8 1.2 2.1 1.2 2.8 1.2 1.8 1.2 -3.5 1.2 1.3 1.2 -5.2 1.2 -4.2 1.2 -7.3 1.2 -2.8 1.2 0 1.2 3.5 1.2 1.9 1.2 0.4 1.2 0.2 1.2 1.1 1.2 3 1.2 0.2 1.2 1 1.2 4.4 1.2 0.4 1.2 3.3 1.2 -0.2 1.2 2 1.2 -0.6 1.2 -2.8 1.2 1.9 1.2 -4.7 1.2 -3.9 1.2 -6 1.2 -2.3 1.2 -0.7 1.2 4.4 1.2 1.7 1.2 3.4 1.2 5.2 1.2 2.5 1.2 -0.5 1.2 -3.9 1.2 -0.5 1.2 -0.3 1.2 2.4 1.2 -1 1.2 -2.3 1.2 1.3 1.2 -1.3 1.2 0.7 1.2 -3 1.2 0.7 1.2 -1.7 1.2 -0.6 1.2 -3.8 1.2 -2.8 1.2 1.9 1.2 -1.1 1.2 3.4 1.2 5.1 1.2 -0.1 1.2 4.4 1.2 0.1 1.2 0.5 1.2 -2.2 1.2 1.4 1.2 0.4 1.2 2.1 1.2 -2.3 1.2 -2.2 1.2 -0.9 1.2 -2.6 1.2 1 1.2 0.2 1.2 0.8 1.2 -5.6 1.2 -0.9 1.2 0.7 1.2 2.9 1.2 2.6 1.2 1.9 1.2 3.1 1.2 -0.7 1.2 2.2 1.2 -1.3 1.2 -3.2 1.2 -1.4 1.2 2.2 1.2 -5.1 1.2 -0.2 1.2 -0.4 1.2 3.6 1.2 -1.8 1.2 -3.5 1.2 0.6 1.2 -0.6 1.2 -0.4 1.2 3.4 1.2 2.2 1.2 2.3 1.2 2.7 1.2 3.3 1.2 1.5 1.2 -0.4 1.2 -1.5 1.2 0.4 1.2 -6.7 1.2 -2.2 1.2 -2.4 1.2 1.1 1.2 -4 1.2 -0.3 1.2 1.3 1.2 2.6 1.2 -1.7 1.2 0 1.2 -2.1 1.2 3 1.2 -0.2 1.2 0.5 1.2 5.4 1.2 -0.5 1.2 3.5 1.2 -0.1 1.2 2.8 1.2 -3.1 1.2 -6.6 1.2 -3.7 1.2 -0.8 1.2 -2.8 1.2 0.1 1.2 2.9 1.2 -0.9 1.2 3.2 1.2 3.7 1.2 1.1 1.2 -1.3 1.2 -1.4 1.2 -3 1.2 0.9 1.2 3.1 1.2 0.9 1.2 2 1.2 2.4 1.2 -1.6 1.2 1.6 1.2 -0.1 1.2 -2.5 1.2 0 1.2 -3.8 1.2 -3.6 1.2 -0.6 1.2 -4.8 1.2 2.9 1.2 2.9 1.2 1 1.2 3.4 1.2 0.6 1.2 3.8 1.2 1.3 1.2 -2.7 1.2 -4.3 1.2 1.3 1.2 3.6 1.2 -1 1.2 -3.5 1.2 4.7 1.2 -2.6 1.2 -3.9 1.2 -0.5 1.2 -4.8 1.2 -1.9 1.2 2.5 1.2 4.4 1.2 2.4 1.2 0.5 1.2 2.9 1.2 2.4 1.2 -0.9 1.2 2.5 1.2 -2 1.2 -0.5 1.2 -1.9 1.2 -0.2 1.2 -2.4 1.2 -4.9 1.2 4.9 1.2 2 1.2 -1 1.2 -1.4 1.2 1.1 1.2 -2.9 1.2 -0.7 1.2 1.2 1.2 -0.3 1.2 -1.6 1.2 -0.4 1.2 5.6 1.2 4.6 1.2 0.7 1.2 2.6 1.2 0.2 1.2 0.4 1.2 -3.6 1.2 -1.3 1.2 -1.4 1.2 -1.5 1.2 -6.2 1.2 0.6 1.2 2.8 1.2 0.7 1.2 -2.9 1.2 -1.4 1.2 2 1.2 0.6 1.2 -0.6 1.2 3.2 1.2 5.1 1.2 4.5 1.2 0.6 1.2 -0.2 1.2 -0.3 1.2 -1.1 1.2 -4.2 1.2 -4.3 1.2 -4.8 1.2 -0.2 1.2 -4.7 1.2 0.3 1.2 2.9 1.2 4 1.2 -2.5 1.2 -0.5 1.2 1.7 1.2 2 1.2 -6.9 1.2 2.8 1.2 7.4 1.2 -1.8 1.2 -1.8 1.2 2.9 1.2 1.9 1.2 2 1.2 0.7 1.2 -4.4 1.2 -4.2 1.2 -1.6 1.2 -5.1 1.2 -3.4 1.2 -1.7 1.2 1.8 1.2 3.7 1.2 3.3 1.2 4.4 1.2 -1.5 1.2 -2.8 1.2 3.4 1.2 1.8 1.2 0.8 1.2 3 1.2 -2.2 1.2 1.7 1.2 -0.7 1.2 -1.3 1.2 -2.3 1.2 -1.3 1.2 -3.3 1.2 -1.3 1.2 -2.7 1.2 -1.8 1.2 2.8 1.2 0.3 1.2 0.3 1.2 3.1 1.2 2.1 1.2 0.9 1.2 2.1 1.2 -1 1.2 -1.7 1.2 -1.1 1.2 2.7 1.2 2.4 1.2 0.2 1.2 4.6 1.2 -2.2 1.2 -1.6 1.2 -2 1.2 -1.5 1.2 -7.1 1.2 -5 1.2 3 1.2 3.3 1.2 1.2 1.2 2.7 1.2 4.2 1.2 1.4 1.2 1.1 1.2 -2.9 1.2 -1.1 1.2 2.2 1.2 -3.9 1.2 -3.2 1.2 -1 1.2 -0.2 1.2 -0.1 1.2 -1 1.2 -0.1 1.2 1.6 1.2 0 1.2 2 1.2 -1.3 1.2 -1.1 1.2 -1.3 1.2 2 1.2 3.2 1.2 2.7 1.2 1 1.2 2.1 1.2 -1.7 1.2 -1.2 1.2 -4.8 1.2 -4 1.2 2.3 1.2 1 1.2 -0.1 1.2 -0.1 1.2 -0.7 1.2 0.5 1.2 3 1.2 -0.1 1.2 -1.7 1.2 0.7 1.2 -3.3 1.2 0.9 1.2 5.3 1.2 1.1 1.2 -0.2 1.2 1.9 1.2 -1.2 1.2 -5.7 1.2 0.6 1.2 0.4 1.2 -1.7 1.2 0.2 1.2 0.4 1.2 -3 1.2 -1.3 1.2 2.7 1.2 0.5 1.2 1.1 1.2 1.7 1.2 2.9 1.2 -6.4 1.2 2.1 1.2 2.1 1.2 0.8 1.2 3.9 1.2 0.8 1.2 -1.8 1.2 -1.4 1.2 -1 1.2 -1.8 1.2 -2.7 1.2 -2.6 1.2 -1.4 1.2 -1.2 1.2 -4.2 1.2 -0.7 1.2 1.1 1.2 6.3 1.2 2.8" fill="none" stroke="#de4830" stroke-width="5.7" stroke-linejoin="round" stroke-linecap="round"/>
<path d="M2152.5 1528.8l233 0 0.7 14.4 0.7 11.2 0.7 4.9 0.7 4 0.7 3.1 0.7 2.3 0.7 2 0.7 1.9 0.7 2 0.7 1.9 0.7 1.7 0.7 1.6 0.7 1.6 0.7 1.3 0.7 1.1 0.7 1.3 0.7 2 0.7 3.2 0.7 4 0.7 4.7 0.7 5.1 0.7 5.8 0.7 6.9 0.7 8.3 0.7 8.9 0.7 8.9 0.7 8.6 0.7 7.9 0.7 7.8 0.7 8.5 0.7 8.7 0.7 7.9 0.7 6.3 0.7 4.8 0.7 3.6 0.7 3.5 0.7 3.4 0.7 3.5 0.7 3.1 0.7 2.1 0.7 0.7 0.7 -0.1 0.7 -0.1 0.7 0 0.7 0.3 0.7 0.2 0.7 0 0.7 -0.2 0.7 -0.3 0.7 -0.5 0.7 -0.5 0.7 -0.3 0.7 -0.2 0.7 -0.1 0.7 0.7 0.7 2 0.7 3.6 0.7 4.8 0.7 5.3 0.7 5.8 0.7 6.4 0.7 6.6 0.7 6.5 0.7 6.3 0.7 6.8 0.7 7.3 0.7 7.1 0.7 6.4 0.7 5.5 0.7 5.4 0.7 6.1 0.7 7.1 0.7 8.3 0.7 8.6 0.7 8 0.7 7.3 0.7 7.5 0.7 8 0.7 8.3 0.7 7.6 0.7 7 0.7 7.3 0.7 8 0.7 7.6 0.7 6.4 0.7 5.9 0.7 6.2 0.7 6.2 0.7 5.5 0.7 5 0.7 5 0.7 5.5 0.7 5.7 0.7 5.2 0.7 5.1 0.7 5.1 0.7 4.6 0.7 4.1 0.7 4.2 0.7 4.4 0.7 4.5 0.7 4.4 0.7 4.2 0.7 3.3 0.7 3 0.7 3.3 0.7 4.1 0.7 4.4 0.7 4.1 0.7 3.6 0.7 3.2 0.7 3.4 0.7 3.9 0.7 4.1 0.7 4 0.7 4.1 0.7 4.6 0.7 4.6 0.7 4.4 0.7 4 0.7 3.9 0.7 4.2 0.7 4.7 0.7 4.6 0.7 4.2 0.7 3.3 0.7 2.8 0.7 2.7 0.7 2.8 0.7 3.1 0.7 2.9 0.7 2.4 0.7 1.8 0.7 1.4 0.7 1.4 0.7 2.1 0.7 2.7 0.7 2.1 0.7 1.3 0.7 0.8 0.7 1 0.7 1.2 0.7 1.6 0.7 1.9 0.7 2.1 0.7 2 0.7 1.5 0.7 1.2 0.7 1.1 0.7 0.9 0.7 0.6 0.7 0.2 0.7 -0.2 0.7 -1.2 0.7 -1.5 0.7 -1 0.7 -0.6 0.7 -1 0.7 -2.2 0.7 -3.3 0.7 -3.9 0.7 -4 0.7 -3.6 0.7 -3 0.7 -2.7 0.7 -2.6 0.7 -2.9 1.8 -4.7 1.2 0.1 1.2 -0.1 1.2 0.8 1.2 0.4 1.2 0.3 1.2 1.1 1.2 3.1 1.2 5 1.2 3.3 1.2 1.7 1.2 2.7 1.2 1.4 1.2 2.2 1.2 -0.5 1.2 -6.3 1.2 -9 1.2 -5.3 1.2 -5.2 1.2 1.3 1.2 1.7 1.2 0.6 1.2 9.5 1.2 8.4 1.2 6.6 1.2 5.5 1.2 5.4 1.2 -6.3 1.2 -9.3 1.2 -8.5 1.2 -6.5 1.2 -4.6 1.2 -0.4 1.2 -0.8 1.2 4.3 1.2 6.7 1.2 4 1.2 0.6 1.2 7.4 1.2 3.1 1.2 3.8 1.2 -2.4 1.2 -0.4 1.2 -1.4 1.2 -3.2 1.2 -5.7 1.2 -9.2 1.2 -4.9 1.2 0.4 1.2 -0.2 1.2 8.4 1.2 6 1.2 5.9 1.2 10.2 1.2 3.8 1.2 -1.5 1.2 -4.8 1.2 -6.1 1.2 -10.3 1.2 -7.3 1.2 -3.4 1.2 -0.1 1.2 3.5 1.2 4.3 1.2 5.6 1.2 5.9 1.2 0.6 1.2 0 1.2 2.7 1.2 0.7 1.2 -1.2 1.2 1.6 1.2 -3.2 1.2 -1.6 1.2 -5.5 1.2 -6.3 1.2 -0.9 1.2 -1.9 1.2 0 1.2 0 1.2 6.6 1.2 9.8 1.2 9.8 1.2 1.1 1.2 -0.6 1.2 -2.2 1.2 -1.2 1.2 -7.1 1.2 -9.4 1.2 -4.2 1.2 -0.6 1.2 -1.9 1.2 -0.3 1.2 4.2 1.2 5.9 1.2 5 1.2 -2.8 1.2 4.1 1.2 2 1.2 3.5 1.2 -2.2 1.2 -4 1.2 -3.4 1.2 -3.7 1.2 -3.5 1.2 -4.4 1.2 -5.5 1.2 0.3 1.2 4.4 1.2 4.4 1.2 4 1.2 2.9 1.2 5.8 1.2 3.2 1.2 -0.4 1.2 -1.5 1.2 -7.7 1.2 -5.6 1.2 -1.6 1.2 -3 1.2 -3.4 1.2 4.7 1.2 3.3 1.2 0.7 1.2 3.2 1.2 6.2 1.2 0.9 1.2 -0.6 1.2 -0.2 1.2 -1.9 1.2 1.4 1.2 -0.9 1.2 -4.3 1.2 -4.9 1.2 -5.3 1.2 -1.6 1.2 -0.3 1.2 -2.2 1.2 4.4 1.2 9.2 1.2 6.7 1.2 4.8 1.2 6.1 1.2 -1.2 1.2 -5 1.2 -4.3 1.2 -11.7 1.2 -9.1 1.2 -3 1.2 1.2 1.2 4.3 1.2 5.2 1.2 3.7 1.2 6.5 1.2 2.5 1.2 0.1 1.2 4.4 1.2 -0.7 1.2 -4.1 1.2 -1 1.2 -3.6 1.2 -3.4 1.2 -4.4 1.2 -3.4 1.2 -5.1 1.2 1.6 1.2 1.6 1.2 4.9 1.2 5.4 1.2 4.4 1.2 4.6 1.2 1.3 1.2 -0.9 1.2 0.3 1.2 -3.6 1.2 -7 1.2 -7.6 1.2 -3.6 1.2 2 1.2 3.5 1.2 2.3 1.2 4.7 1.2 1.7 1.2 -1.4 1.2 0.9 1.2 2 1.2 3.1 1.2 -1.9 1.2 -0.5 1.2 -3.4 1.2 -2.4 1.2 -0.4 1.2 -1.3 1.2 -3.1 1.2 -2.9 1.2 1.7 1.2 0.6 1.2 3.1 1.2 10.1 1.2 2.8 1.2 0.7 1.2 0.6 1.2 -3.2 1.2 -7.7 1.2 -3.3 1.2 -2.1 1.2 -2.8 1.2 0 1.2 2.3 1.2 5.8 1.2 -0.2 1.2 1.8 1.2 1.5 1.2 1.6 1.2 5.1 1.2 -4.9 1.2 -0.6 1.2 2 1.2 -1.2 1.2 2.6 1.2 -3.6 1.2 -4.5 1.2 -2.2 1.2 -2.1 1.2 0.1 1.2 -0.1 1.2 5.1 1.2 9.4 1.2 2.7 1.2 0.7 1.2 1.3 1.2 -1 1.2 -5.5 1.2 -3.4 1.2 -5.9 1.2 -6.4 1.2 0.9 1.2 3.5 1.2 3 1.2 3.1 1.2 0.1 1.2 2 1.2 3.1 1.2 -1.6 1.2 -1.1 1.2 1.4 1.2 1.8 1.2 0 1.2 -1.8 1.2 -3 1.2 -1.6 1.2 -3.9 1.2 -4.2 1.2 5 1.2 -0.3 1.2 0.1 1.2 3.9 1.2 4.9 1.2 5.9 1.2 0.5 1.2 -0.8 1.2 -2.4 1.2 -8 1.2 -7.9 1.2 2.1 1.2 0.3 1.2 -3.8 1.2 3 1.2 4.8 1.2 6.1 1.2 3.9 1.2 0 1.2 -1.1 1.2 0.5 1.2 1.3 1.2 -0.2 1.2 -1.8 1.2 -1.2 1.2 3.4 1.2 -6.7 1.2 1.2 1.2 -4.7 1.2 -2.5 1.2 -1.2 1.2 1.1 1.2 3.4 1.2 3.5 1.2 5.6 1.2 0.7 1.2 3.3 1.2 -6.5 1.2 -3.3 1.2 -1.7 1.2 -2.5 1.2 -5.4 1.2 -4.6 1.2 4.7 1.2 2.6 1.2 4 1.2 4.4 1.2 -1.5 1.2 -2.4 1.2 -2.3 1.2 1.3 1.2 3.9 1.2 2.7 1.2 -0.6 1.2 -2 1.2 -0.1 1.2 -5.6 1.2 -1.6 1.2 0 1.2 -3.7 1.2 1.8 1.2 3.1 1.2 0 1.2 6.3 1.2 2.6 1.2 -2.1 1.2 0.5 1.2 -5 1.2 0.2 1.2 -5.9 1.2 -6.3 1.2 -0.9 1.2 7.5 1.2 1.8 1.2 4 1.2 -1.7 1.2 4.8 1.2 2.9 1.2 -1 1.2 -1 1.2 2.1 1.2 0.3 1.2 0.6 1.2 -4.3 1.2 -2.6 1.2 -1.7 1.2 -0.5 1.2 -3.1 1.2 -1.8 1.2 -0.8 1.2 7.4 1.2 0.5 1.2 5.7 1.2 3.3 1.2 5.3 1.2 -3.8 1.2 -5.9 1.2 -4.1 1.2 -4.4 1.2 -7.2 1.2 -8.6 1.2 -0.3 1.2 6.2 1.2 7.3 1.2 3.5 1.2 0.4 1.2 2.8 1.2 3.8 1.2 1.5 1.2 2.4 1.2 -2.5 1.2 -5.8 1.2 -0.6 1.2 -2 1.2 -1.9 1.2 0.3 1.2 -3 1.2 -1 1.2 -1.2 1.2 2.9 1.2 -2.1 1.2 5 1.2 5.2 1.2 2.7 1.2 0.7 1.2 -0.8 1.2 -3.6 1.2 -3.9 1.2 -5.8 1.2 -3.2 1.2 -0.2 1.2 4.9 1.2 3.8 1.2 1.4 1.2 -1.9 1.2 3.4 1.2 1.2 1.2 -0.4 1.2 -1.5 1.2 2.1 1.2 -0.4 1.2 -1.7 1.2 -3.6 1.2 -4 1.2 3.9 1.2 -3.1 1.2 -1.7 1.2 -0.3 1.2 1 1.2 3.1 1.2 3.6 1.2 7.9 1.2 4.8 1.2 -1.2 1.2 -4.9 1.2 -4.7 1.2 0.6 1.2 -6.6 1.2 -5.6 1.2 0.7 1.2 2.6 1.2 2 1.2 3.9 1.2 5.3 1.2 -0.6 1.2 0.2 1.2 1 1.2 -1.1 1.2 1.8 1.2 1.9 1.2 -3.8 1.2 -2.8 1.2 -4.8 1.2 -3 1.2 -0.4 1.2 -4.9 1.2 2.7 1.2 1 1.2 2.4 1.2 -0.5 1.2 9.2 1.2 6 1.2 -0.4 1.2 -0.8 1.2 -1.8 1.2 0.1 1.2 -1.1 1.2 -7.3 1.2 -2.1 1.2 -2.4 1.2 -0.3 1.2 4 1.2 2.4 1.2 2.2 1.2 1.1 1.2 2.3 1.2 0.1 1.2 -0.8 1.2 4 1.2 -4.7 1.2 -1.6 1.2 2.5 1.2 -1.1 1.2 -3.3 1.2 1.2 1.2 -3.8 1.2 -1.7 1.2 -1.8 1.2 6.8 1.2 0.7 1.2 5.9 1.2 1.5 1.2 2.2 1.2 -1.1 1.2 -1.8 1.2 -6 1.2 -4 1.2 -0.9 1.2 0.2 1.2 5.1 1.2 1.8 1.2 3.2 1.2 1.7 1.2 -3 1.2 1.8 1.2 -2.1 1.2 -0.2 1.2 0.8 1.2 -1.3 1.2 0.1 1.2 2.6 1.2 0.3 1.2 -0.6 1.2 -4.6 1.2 -2.3 1.2 1.5 1.2 1.2 1.2 5.6 1.2 1.2 1.2 2.3 1.2 -0.4 1.2 0.4 1.2 -2 1.2 -3.6 1.2 -2.4 1.2 -3.2 1.2 -1.1 1.2 0.3 1.2 -0.7 1.2 4.3 1.2 -0.3 1.2 2 1.2 2.3 1.2 1.2 1.2 -1.3 1.2 0 1.2 -2.4 1.2 0.1 1.2 0.7 1.2 2 1.2 0.2 1.2 -0.1 1.2 -4.4 1.2 -6.7 1.2 -0.6 1.2 3.3 1.2 3.3 1.2 -0.4 1.2 5.6 1.2 3.7 1.2 -3.5 1.2 -1 1.2 -0.3 1.2 -2.3 1.2 -0.6 1.2 0.2 1.2 -2.5 1.2 4.4 1.2 2.1 1.2 -0.7 1.2 1.2 1.2 -4.3 1.2 0.9 1.2 -2.4 1.2 1.1 1.2 1.1 1.2 2.2 1.2 1.4 1.2 -1.5 1.2 0.1 1.2 -1.8 1.2 -1.5 1.2 -2.8 1.2 -0.4 1.2 3.6 1.2 -2.3 1.2 2.1 1.2 0.8 1.2 2.9 1.2 0 1.2 6.3 1.2 -3.3 1.2 -7.5 1.2 0.8 1.2 -2.1 1.2 -4.3 1.2 1.6 1.2 -1.1 1.2 0.7 1.2 3.3 1.2 5.5 1.2 -0.6 1.2 0.7 1.2 -1.1 1.2 -2.8 1.2 -1.5 1.2 2.5 1.2 2.1 1.2 -0.5 1.2 -2.3 1.2 -2.6 1.2 -2.4 1.2 -0.2 1.2 1.1 1.2 -1.4 1.2 0.9 1.2 2.7 1.2 5 1.2 3.1 1.2 -0.5 1.2 -0.8 1.2 -1.5 1.2 -5 1.2 -3.8 1.2 -1 1.2 0.1 1.2 -0.5 1.2 0.4 1.2 2.9 1.2 3.5 1.2 -1.2 1.2 -2.9 1.2 3.5 1.2 -0.9 1.2 -0.1 1.2 3 1.2 -0.5 1.2 -4.6 1.2 -5.7 1.2 -4.1 1.2 -0.8 1.2 -1.8 1.2 -1 1.2 5.6 1.2 1.4 1.2 4.9 1.2 0.7 1.2 4.9 1.2 3 1.2 -1.7 1.2 -2 1.2 1.3 1.2 -5.7 1.2 -4.2 1.2 -5 1.2 2.4 1.2 1.3 1.2 4 1.2 -1.6 1.2 4.2 1.2 1.4 1.2 -1.4 1.2 1.8 1.2 3 1.2 0.3 1.2 -1.3 1.2 -4.6 1.2 -1.7 1.2 -0.7 1.2 -6.4 1.2 1.1 1.2 1 1.2 3.6 1.2 -0.9 1.2 1.7 1.2 4.9 1.2 2.2 1.2 4 1.2 -0.9 1.2 -5.7 1.2 -3.9 1.2 -0.8 1.2 -2.6 1.2 0.1 1.2 0.3 1.2 1.3 1.2 0.5 1.2 0.9 1.2 1.2 1.2 3.1 1.2 0.5 1.2 -3.7 1.2 2.7 1.2 3.5 1.2 1.1 1.2 -0.2 1.2 -6.1 1.2 0.9 1.2 -1.4 1.2 -1.2 1.2 -2.5 1.2 -0.3 1.2 0.2 1.2 4 1.2 4.9 1.2 -1.2 1.2 3.6 1.2 -1 1.2 1.5 1.2 -5.3 1.2 0.1 1.2 -2.8 1.2 -6.4 1.2 -1.8 1.2 3.6 1.2 2.5 1.2 4.1 1.2 0.7 1.2 0.6 1.2 -0.1 1.2 -0.7 1.2 -0.3 1.2 -2.6 1.2 3 1.2 3.6 1.2 -6.3 1.2 -1.6 1.2 0.1 1.2 2.7 1.2 1.1 1.2 -1.5 1.2 -2.8 1.2 7.4 1.2 5.6 1.2 1.2 1.2 0.7 1.2 0.3 1.2 -0.1 1.2 -3.8 1.2 -5.6 1.2 -5.6 1.2 1.8 1.2 -0.4 1.2 -1.3 1.2 2.6 1.2 1 1.2 -3.4 1.2 4.1 1.2 1.5 1.2 1.5 1.2 -0.5 1.2 0.6 1.2 -0.1 1.2 0 1.2 -1.9 1.2 -1.2 1.2 -0.6 1.2 -2.9 1.2 -1.6 1.2 -0.2 1.2 0 1.2 4 1.2 3.3 1.2 3.9 1.2 -1.2 1.2 6.6 1.2 1.9 1.2 -7.3 1.2 -5.2 1.2 -1 1.2 -3 1.2 -0.4 1.2 -3.6 1.2 4.6 1.2 2.4 1.2 2.5 1.2 -1.6 1.2 -0.4 1.2 2.5 1.2 -0.3 1.2 0.4 1.2 3.2 1.2 4.1 1.2 1.9 1.2 -2.4 1.2 -4.8 1.2 -1.5 1.2 -3.8 1.2 -5.9 1.2 -0.2 1.2 4.2 1.2 2.1 1.2 4.3 1.2 -2.1 1.2 2.4 1.2 2.1 1.2 0.8 1.2 -3.9 1.2 -2.1 1.2 -2.2 1.2 -2.3 1.2 -2.3 1.2 3.6 1.2 1.9 1.2 1.7 1.2 -1.7 1.2 -0.3 1.2 -0.7 1.2 7.3 1.2 -1.5 1.2 2.6 1.2 0.5 1.2 -3.7 1.2 -1.7 1.2 -2.6 1.2 -2.7 1.2 -1.3 1.2 -2 1.2 0.5 1.2 3.8 1.2 -0.2 1.2 4.5 1.2 2.5 1.2 3.3 1.2 3.7 1.2 -0.9 1.2 -4.7 1.2 -6.3 1.2 -1.3 1.2 -3.4 1.2 0 1.2 -1.6 1.2 -1.3 1.2 4.2 1.2 4.6 1.2 3.9 1.2 -4.7 1.2 4.6 1.2 -1 1.2 2.5 1.2 0.7 1.2 -0.8 1.2 2.2 1.2 -3.8 1.2 -3.9 1.2 -1.8 1.2 -1.8 1.2 3.3 1.2 0.5 1.2 0.8 1.2 3.9 1.2 0.3 1.2 3.3 1.2 -2.4 1.2 -4.5 1.2 -1.8 1.2 -1.4 1.2 -1.8 1.2 -4.1 1.2 3.7 1.2 0.7 1.2 -1.4 1.2 -3.3 1.2 3 1.2 4.2 1.2 -2.3 1.2 1.1 1.2 1 1.2 3.9 1.2 -0.3 1.2 -2.6 1.2 -0.7 1.2 0.8 1.2 -1.7 1.2 -4.3 1.2 -1.1 1.2 -0.4 1.2 0.9 1.2 3.6 1.2 0.3 1.2 3.2 1.2 6 1.2 -4.4 1.2 0.7 1.2 -2.1 1.2 -7.1 1.2 -1.4 1.2 -1.1 1.2 1.2 1.2 -2.4 1.2 -0.2 1.2 0 1.2 1.5 1.2 4.1 1.2 -0.2 1.2 1.3 1.2 0.8 1.2 0.2 1.2 0 1.2 1.4 1.2 3 1.2 -1.2 1.2 -4.2 1.2 -1.1 1.2 -3.2 1.2 -1.5 1.2 -1.3 1.2 2.5 1.2 1.1 1.2 3" fill="none" stroke="#2c4f8f" stroke-width="5.7" stroke-linejoin="round" stroke-linecap="round"/>
<line x1="293.5" y1="55.2" x2="293.5" y2="1007.5" stroke="#191919" stroke-width="5.0"/>
<line x1="291.2" y1="1005.2" x2="1701.6" y2="1005.2" stroke="#191919" stroke-width="5.0"/>
<line x1="293.5" y1="57.5" x2="320.5" y2="57.5" stroke="#191919" stroke-width="5.0"/>
<line x1="293.5" y1="215.4" x2="320.5" y2="215.4" stroke="#191919" stroke-width="5.0"/>
<line x1="293.5" y1="373.4" x2="320.5" y2="373.4" stroke="#191919" stroke-width="5.0"/>
<line x1="293.5" y1="531.3" x2="320.5" y2="531.3" stroke="#191919" stroke-width="5.0"/>
<line x1="293.5" y1="689.3" x2="320.5" y2="689.3" stroke="#191919" stroke-width="5.0"/>
<line x1="293.5" y1="847.2" x2="320.5" y2="847.2" stroke="#191919" stroke-width="5.0"/>
<line x1="527.8" y1="1005.2" x2="527.8" y2="983.2" stroke="#191919" stroke-width="5.0"/>
<line x1="762.1" y1="1005.2" x2="762.1" y2="983.2" stroke="#191919" stroke-width="5.0"/>
<line x1="996.4" y1="1005.2" x2="996.4" y2="983.2" stroke="#191919" stroke-width="5.0"/>
<line x1="1230.7" y1="1005.2" x2="1230.7" y2="983.2" stroke="#191919" stroke-width="5.0"/>
<line x1="1465.0" y1="1005.2" x2="1465.0" y2="983.2" stroke="#191919" stroke-width="5.0"/>
<line x1="1699.3" y1="1005.2" x2="1699.3" y2="983.2" stroke="#191919" stroke-width="5.0"/>
<line x1="2159.8" y1="55.5" x2="2159.8" y2="1007.6" stroke="#191919" stroke-width="5.0"/>
<line x1="2157.5" y1="1005.3" x2="3566.7" y2="1005.3" stroke="#191919" stroke-width="5.0"/>
<line x1="2159.8" y1="57.8" x2="2186.8" y2="57.8" stroke="#191919" stroke-width="5.0"/>
<line x1="2159.8" y1="215.8" x2="2186.8" y2="215.8" stroke="#191919" stroke-width="5.0"/>
<line x1="2159.8" y1="373.7" x2="2186.8" y2="373.7" stroke="#191919" stroke-width="5.0"/>
<line x1="2159.8" y1="531.6" x2="2186.8" y2="531.6" stroke="#191919" stroke-width="5.0"/>
<line x1="2159.8" y1="689.6" x2="2186.8" y2="689.6" stroke="#191919" stroke-width="5.0"/>
<line x1="2159.8" y1="847.5" x2="2186.8" y2="847.5" stroke="#191919" stroke-width="5.0"/>
<line x1="2393.9" y1="1005.3" x2="2393.9" y2="983.3" stroke="#191919" stroke-width="5.0"/>
<line x1="2628.0" y1="1005.3" x2="2628.0" y2="983.3" stroke="#191919" stroke-width="5.0"/>
<line x1="2862.1" y1="1005.3" x2="2862.1" y2="983.3" stroke="#191919" stroke-width="5.0"/>
<line x1="3096.2" y1="1005.3" x2="3096.2" y2="983.3" stroke="#191919" stroke-width="5.0"/>
<line x1="3330.3" y1="1005.3" x2="3330.3" y2="983.3" stroke="#191919" stroke-width="5.0"/>
<line x1="3564.4" y1="1005.3" x2="3564.4" y2="983.3" stroke="#191919" stroke-width="5.0"/>
<line x1="294.6" y1="1415.4" x2="294.6" y2="2519.7" stroke="#191919" stroke-width="5.0"/>
<line x1="292.3" y1="2517.4" x2="1702.7" y2="2517.4" stroke="#191919" stroke-width="5.0"/>
<line x1="294.6" y1="1417.7" x2="319.6" y2="1417.7" stroke="#191919" stroke-width="5.0"/>
<line x1="294.6" y1="1574.8" x2="319.6" y2="1574.8" stroke="#191919" stroke-width="5.0"/>
<line x1="294.6" y1="1731.9" x2="319.6" y2="1731.9" stroke="#191919" stroke-width="5.0"/>
<line x1="294.6" y1="1889.0" x2="319.6" y2="1889.0" stroke="#191919" stroke-width="5.0"/>
<line x1="294.6" y1="2046.1" x2="319.6" y2="2046.1" stroke="#191919" stroke-width="5.0"/>
<line x1="294.6" y1="2203.2" x2="319.6" y2="2203.2" stroke="#191919" stroke-width="5.0"/>
<line x1="294.6" y1="2360.3" x2="319.6" y2="2360.3" stroke="#191919" stroke-width="5.0"/>
<line x1="528.9" y1="2517.4" x2="528.9" y2="2495.4" stroke="#191919" stroke-width="5.0"/>
<line x1="763.2" y1="2517.4" x2="763.2" y2="2495.4" stroke="#191919" stroke-width="5.0"/>
<line x1="997.5" y1="2517.4" x2="997.5" y2="2495.4" stroke="#191919" stroke-width="5.0"/>
<line x1="1231.8" y1="2517.4" x2="1231.8" y2="2495.4" stroke="#191919" stroke-width="5.0"/>
<line x1="1466.1" y1="2517.4" x2="1466.1" y2="2495.4" stroke="#191919" stroke-width="5.0"/>
<line x1="1700.4" y1="2517.4" x2="1700.4" y2="2495.4" stroke="#191919" stroke-width="5.0"/>
<line x1="2150.0" y1="1415.4" x2="2150.0" y2="2519.9" stroke="#191919" stroke-width="5.0"/>
<line x1="2147.7" y1="2517.6" x2="3558.1" y2="2517.6" stroke="#191919" stroke-width="5.0"/>
<line x1="2150.0" y1="1417.7" x2="2175.0" y2="1417.7" stroke="#191919" stroke-width="5.0"/>
<line x1="2150.0" y1="1574.8" x2="2175.0" y2="1574.8" stroke="#191919" stroke-width="5.0"/>
<line x1="2150.0" y1="1731.9" x2="2175.0" y2="1731.9" stroke="#191919" stroke-width="5.0"/>
<line x1="2150.0" y1="1889.0" x2="2175.0" y2="1889.0" stroke="#191919" stroke-width="5.0"/>
<line x1="2150.0" y1="2046.1" x2="2175.0" y2="2046.1" stroke="#191919" stroke-width="5.0"/>
<line x1="2150.0" y1="2203.2" x2="2175.0" y2="2203.2" stroke="#191919" stroke-width="5.0"/>
<line x1="2150.0" y1="2360.3" x2="2175.0" y2="2360.3" stroke="#191919" stroke-width="5.0"/>
<line x1="2384.3" y1="2517.6" x2="2384.3" y2="2495.6" stroke="#191919" stroke-width="5.0"/>
<line x1="2618.6" y1="2517.6" x2="2618.6" y2="2495.6" stroke="#191919" stroke-width="5.0"/>
<line x1="2852.9" y1="2517.6" x2="2852.9" y2="2495.6" stroke="#191919" stroke-width="5.0"/>
<line x1="3087.2" y1="2517.6" x2="3087.2" y2="2495.6" stroke="#191919" stroke-width="5.0"/>
<line x1="3321.5" y1="2517.6" x2="3321.5" y2="2495.6" stroke="#191919" stroke-width="5.0"/>
<line x1="3555.8" y1="2517.6" x2="3555.8" y2="2495.6" stroke="#191919" stroke-width="5.0"/>
<line x1="297.5" y1="874" x2="297.5" y2="1013" stroke="#888" stroke-width="1.2"/>
<line x1="2139" y1="1005.3" x2="2160" y2="1005.3" stroke="#191919" stroke-width="4.6"/>
<line x1="2159.8" y1="1005" x2="2159.8" y2="1012.5" stroke="#191919" stroke-width="5"/>
<line x1="2139.7" y1="688.2" x2="2160" y2="688.2" stroke="#191919" stroke-width="4.6"/>
<line x1="2139.7" y1="847.2" x2="2160" y2="847.2" stroke="#191919" stroke-width="4.6"/>
<line x1="2148.9" y1="610.9" x2="2160" y2="610.9" stroke="#191919" stroke-width="4.4"/>
<line x1="2148.9" y1="768.1" x2="2160" y2="768.1" stroke="#191919" stroke-width="4.4"/>
<line x1="2148.9" y1="927.0" x2="2160" y2="927.0" stroke="#191919" stroke-width="4.4"/>
<line x1="3564.5" y1="256" x2="3564.5" y2="464" stroke="#f0f0f0" stroke-width="1"/>
<text x="260.5" y="72.3" text-anchor="end" font-family="'Liberation Serif', serif" font-size="66" fill="#191919" stroke="#191919" stroke-width="1.5"><tspan dy="6" font-size="60" stroke-width="2">−</tspan><tspan dy="-6" dx="-1">44</tspan></text>
<text x="260.5" y="230.7" text-anchor="end" font-family="'Liberation Serif', serif" font-size="66" fill="#191919" stroke="#191919" stroke-width="1.5"><tspan dy="6" font-size="60" stroke-width="2">−</tspan><tspan dy="-6" dx="-1">46</tspan></text>
<text x="260.5" y="389.1" text-anchor="end" font-family="'Liberation Serif', serif" font-size="66" fill="#191919" stroke="#191919" stroke-width="1.5"><tspan dy="6" font-size="60" stroke-width="2">−</tspan><tspan dy="-6" dx="-1">48</tspan></text>
<text x="260.5" y="547.5" text-anchor="end" font-family="'Liberation Serif', serif" font-size="66" fill="#191919" stroke="#191919" stroke-width="1.5"><tspan dy="6" font-size="60" stroke-width="2">−</tspan><tspan dy="-6" dx="-1">50</tspan></text>
<text x="260.5" y="705.9" text-anchor="end" font-family="'Liberation Serif', serif" font-size="66" fill="#191919" stroke="#191919" stroke-width="1.5"><tspan dy="6" font-size="60" stroke-width="2">−</tspan><tspan dy="-6" dx="-1">52</tspan></text>
<text x="260.5" y="864.3" text-anchor="end" font-family="'Liberation Serif', serif" font-size="66" fill="#191919" stroke="#191919" stroke-width="1.5"><tspan dy="6" font-size="60" stroke-width="2">−</tspan><tspan dy="-6" dx="-1">54</tspan></text>
<text x="260.5" y="1022.7" text-anchor="end" font-family="'Liberation Serif', serif" font-size="66" fill="#191919" stroke="#191919" stroke-width="1.5"><tspan dy="6" font-size="60" stroke-width="2">−</tspan><tspan dy="-6" dx="-1">56</tspan></text>
<text x="2126.5" y="72.3" text-anchor="end" font-family="'Liberation Serif', serif" font-size="66" fill="#191919" stroke="#191919" stroke-width="1.5"><tspan dy="6" font-size="60" stroke-width="2">−</tspan><tspan dy="-6" dx="-1">44</tspan></text>
<text x="2126.5" y="230.7" text-anchor="end" font-family="'Liberation Serif', serif" font-size="66" fill="#191919" stroke="#191919" stroke-width="1.5"><tspan dy="6" font-size="60" stroke-width="2">−</tspan><tspan dy="-6" dx="-1">46</tspan></text>
<text x="2126.5" y="389.1" text-anchor="end" font-family="'Liberation Serif', serif" font-size="66" fill="#191919" stroke="#191919" stroke-width="1.5"><tspan dy="6" font-size="60" stroke-width="2">−</tspan><tspan dy="-6" dx="-1">48</tspan></text>
<text x="2126.5" y="547.5" text-anchor="end" font-family="'Liberation Serif', serif" font-size="66" fill="#191919" stroke="#191919" stroke-width="1.5"><tspan dy="6" font-size="60" stroke-width="2">−</tspan><tspan dy="-6" dx="-1">50</tspan></text>
<text x="2126.5" y="705.9" text-anchor="end" font-family="'Liberation Serif', serif" font-size="66" fill="#191919" stroke="#191919" stroke-width="1.5"><tspan dy="6" font-size="60" stroke-width="2">−</tspan><tspan dy="-6" dx="-1">52</tspan></text>
<text x="2126.5" y="864.3" text-anchor="end" font-family="'Liberation Serif', serif" font-size="66" fill="#191919" stroke="#191919" stroke-width="1.5"><tspan dy="6" font-size="60" stroke-width="2">−</tspan><tspan dy="-6" dx="-1">54</tspan></text>
<text x="2126.5" y="1022.7" text-anchor="end" font-family="'Liberation Serif', serif" font-size="66" fill="#191919" stroke="#191919" stroke-width="1.5"><tspan dy="6" font-size="60" stroke-width="2">−</tspan><tspan dy="-6" dx="-1">56</tspan></text>
<text x="261.5" y="1434.7" text-anchor="end" font-family="'Liberation Serif', serif" font-size="66" fill="#191919" stroke="#191919" stroke-width="1.5">3.2</text>
<text x="261.5" y="1592.8" text-anchor="end" font-family="'Liberation Serif', serif" font-size="66" fill="#191919" stroke="#191919" stroke-width="1.5">3.0</text>
<text x="261.5" y="1750.9" text-anchor="end" font-family="'Liberation Serif', serif" font-size="66" fill="#191919" stroke="#191919" stroke-width="1.5">2.8</text>
<text x="261.5" y="1909.0" text-anchor="end" font-family="'Liberation Serif', serif" font-size="66" fill="#191919" stroke="#191919" stroke-width="1.5">2.6</text>
<text x="261.5" y="2067.1" text-anchor="end" font-family="'Liberation Serif', serif" font-size="66" fill="#191919" stroke="#191919" stroke-width="1.5">2.4</text>
<text x="261.5" y="2225.2" text-anchor="end" font-family="'Liberation Serif', serif" font-size="66" fill="#191919" stroke="#191919" stroke-width="1.5">2.2</text>
<text x="261.5" y="2383.3" text-anchor="end" font-family="'Liberation Serif', serif" font-size="66" fill="#191919" stroke="#191919" stroke-width="1.5">2.0</text>
<text x="261.5" y="2541.4" text-anchor="end" font-family="'Liberation Serif', serif" font-size="66" fill="#191919" stroke="#191919" stroke-width="1.5">1.8</text>
<text x="2117.0" y="1434.7" text-anchor="end" font-family="'Liberation Serif', serif" font-size="66" fill="#191919" stroke="#191919" stroke-width="1.5">3.2</text>
<text x="2117.0" y="1592.8" text-anchor="end" font-family="'Liberation Serif', serif" font-size="66" fill="#191919" stroke="#191919" stroke-width="1.5">3.0</text>
<text x="2117.0" y="1750.9" text-anchor="end" font-family="'Liberation Serif', serif" font-size="66" fill="#191919" stroke="#191919" stroke-width="1.5">2.8</text>
<text x="2117.0" y="1909.0" text-anchor="end" font-family="'Liberation Serif', serif" font-size="66" fill="#191919" stroke="#191919" stroke-width="1.5">2.6</text>
<text x="2117.0" y="2067.1" text-anchor="end" font-family="'Liberation Serif', serif" font-size="66" fill="#191919" stroke="#191919" stroke-width="1.5">2.4</text>
<text x="2117.0" y="2225.2" text-anchor="end" font-family="'Liberation Serif', serif" font-size="66" fill="#191919" stroke="#191919" stroke-width="1.5">2.2</text>
<text x="2117.0" y="2383.3" text-anchor="end" font-family="'Liberation Serif', serif" font-size="66" fill="#191919" stroke="#191919" stroke-width="1.5">2.0</text>
<text x="2117.0" y="2541.4" text-anchor="end" font-family="'Liberation Serif', serif" font-size="66" fill="#191919" stroke="#191919" stroke-width="1.5">1.8</text>
<text x="298.5" y="1156.0" text-anchor="middle" font-family="'Liberation Serif', serif" font-size="66" fill="#191919" stroke="#191919" stroke-width="1.5">0</text>
<text x="521.8" y="1156.0" text-anchor="middle" font-family="'Liberation Serif', serif" font-size="66" fill="#191919" stroke="#191919" stroke-width="1.5">10</text>
<text x="757.5" y="1156.0" text-anchor="middle" font-family="'Liberation Serif', serif" font-size="66" fill="#191919" stroke="#191919" stroke-width="1.5">20</text>
<text x="993.5" y="1156.0" text-anchor="middle" font-family="'Liberation Serif', serif" font-size="66" fill="#191919" stroke="#191919" stroke-width="1.5">30</text>
<text x="1229.3" y="1156.0" text-anchor="middle" font-family="'Liberation Serif', serif" font-size="66" fill="#191919" stroke="#191919" stroke-width="1.5">40</text>
<text x="1465.2" y="1156.0" text-anchor="middle" font-family="'Liberation Serif', serif" font-size="66" fill="#191919" stroke="#191919" stroke-width="1.5">50</text>
<text x="1701.1" y="1156.0" text-anchor="middle" font-family="'Liberation Serif', serif" font-size="66" fill="#191919" stroke="#191919" stroke-width="1.5">60</text>
<text x="2164.8" y="1156.0" text-anchor="middle" font-family="'Liberation Serif', serif" font-size="66" fill="#191919" stroke="#191919" stroke-width="1.5">0</text>
<text x="2388.1" y="1156.0" text-anchor="middle" font-family="'Liberation Serif', serif" font-size="66" fill="#191919" stroke="#191919" stroke-width="1.5">10</text>
<text x="2623.8" y="1156.0" text-anchor="middle" font-family="'Liberation Serif', serif" font-size="66" fill="#191919" stroke="#191919" stroke-width="1.5">20</text>
<text x="2859.8" y="1156.0" text-anchor="middle" font-family="'Liberation Serif', serif" font-size="66" fill="#191919" stroke="#191919" stroke-width="1.5">30</text>
<text x="3095.6" y="1156.0" text-anchor="middle" font-family="'Liberation Serif', serif" font-size="66" fill="#191919" stroke="#191919" stroke-width="1.5">40</text>
<text x="3331.5" y="1156.0" text-anchor="middle" font-family="'Liberation Serif', serif" font-size="66" fill="#191919" stroke="#191919" stroke-width="1.5">50</text>
<text x="3567.4" y="1156.0" text-anchor="middle" font-family="'Liberation Serif', serif" font-size="66" fill="#191919" stroke="#191919" stroke-width="1.5">60</text>
<text x="299.6" y="2591.0" text-anchor="middle" font-family="'Liberation Serif', serif" font-size="66" fill="#191919" stroke="#191919" stroke-width="1.5">0</text>
<text x="522.9" y="2591.0" text-anchor="middle" font-family="'Liberation Serif', serif" font-size="66" fill="#191919" stroke="#191919" stroke-width="1.5">10</text>
<text x="758.6" y="2591.0" text-anchor="middle" font-family="'Liberation Serif', serif" font-size="66" fill="#191919" stroke="#191919" stroke-width="1.5">20</text>
<text x="994.6" y="2591.0" text-anchor="middle" font-family="'Liberation Serif', serif" font-size="66" fill="#191919" stroke="#191919" stroke-width="1.5">30</text>
<text x="1230.4" y="2591.0" text-anchor="middle" font-family="'Liberation Serif', serif" font-size="66" fill="#191919" stroke="#191919" stroke-width="1.5">40</text>
<text x="1466.3" y="2591.0" text-anchor="middle" font-family="'Liberation Serif', serif" font-size="66" fill="#191919" stroke="#191919" stroke-width="1.5">50</text>
<text x="1702.2" y="2591.0" text-anchor="middle" font-family="'Liberation Serif', serif" font-size="66" fill="#191919" stroke="#191919" stroke-width="1.5">60</text>
<text x="2155.0" y="2590.0" text-anchor="middle" font-family="'Liberation Serif', serif" font-size="66" fill="#191919" stroke="#191919" stroke-width="1.5">0</text>
<text x="2378.3" y="2590.0" text-anchor="middle" font-family="'Liberation Serif', serif" font-size="66" fill="#191919" stroke="#191919" stroke-width="1.5">10</text>
<text x="2614.0" y="2590.0" text-anchor="middle" font-family="'Liberation Serif', serif" font-size="66" fill="#191919" stroke="#191919" stroke-width="1.5">20</text>
<text x="2850.0" y="2590.0" text-anchor="middle" font-family="'Liberation Serif', serif" font-size="66" fill="#191919" stroke="#191919" stroke-width="1.5">30</text>
<text x="3085.8" y="2590.0" text-anchor="middle" font-family="'Liberation Serif', serif" font-size="66" fill="#191919" stroke="#191919" stroke-width="1.5">40</text>
<text x="3321.7" y="2590.0" text-anchor="middle" font-family="'Liberation Serif', serif" font-size="66" fill="#191919" stroke="#191919" stroke-width="1.5">50</text>
<text x="3557.6" y="2590.0" text-anchor="middle" font-family="'Liberation Serif', serif" font-size="66" fill="#191919" stroke="#191919" stroke-width="1.5">60</text>
<text x="906.4" y="1235.3" font-size="62" fill="#191919" font-family="'Liberation Serif', 'Noto Serif CJK SC', serif" font-weight="700" letter-spacing="1.5">时间</text>
<text x="1035.8" y="1235.3" font-size="63" fill="#191919" font-family="'Liberation Serif', serif" font-weight="bold">/s</text>
<text x="2771.7" y="1235.3" font-size="62" fill="#191919" font-family="'Liberation Serif', 'Noto Serif CJK SC', serif" font-weight="700" letter-spacing="1.5">时间</text>
<text x="2901.1" y="1235.3" font-size="63" fill="#191919" font-family="'Liberation Serif', serif" font-weight="bold">/s</text>
<text x="905.4" y="2669.6" font-size="62" fill="#191919" font-family="'Liberation Serif', 'Noto Serif CJK SC', serif" font-weight="700" letter-spacing="1.5">时间</text>
<text x="1034.8" y="2669.6" font-size="63" fill="#191919" font-family="'Liberation Serif', serif" font-weight="bold">/s</text>
<text x="2761.1" y="2671.0" font-size="62" fill="#191919" font-family="'Liberation Serif', 'Noto Serif CJK SC', serif" font-weight="700" letter-spacing="1.5">时间</text>
<text x="2890.5" y="2671.0" font-size="63" fill="#191919" font-family="'Liberation Serif', serif" font-weight="bold">/s</text>
<g transform="translate(142.0,767.7) rotate(-90)">
<text x="0" y="0" font-size="63.5" fill="#191919" font-family="'Liberation Serif', 'Noto Serif CJK SC', serif" font-weight="700">挂点支反力</text>
<text x="320.0" y="-1" font-size="66" fill="#191919" font-family="'Liberation Serif', serif" font-weight="bold" textLength="79" lengthAdjust="spacingAndGlyphs">RF</text>
<text x="397.0" y="16.6" font-size="44" fill="#191919" font-family="'Liberation Serif', serif" font-style="italic" font-weight="bold">x</text>
<text x="418.0" y="-1" font-size="66" fill="#191919" font-family="'Liberation Serif', serif" font-weight="bold" textLength="92" lengthAdjust="spacingAndGlyphs">/kN</text>
</g>
<g transform="translate(2006.5,769.3) rotate(-90)">
<text x="0" y="0" font-size="63.5" fill="#191919" font-family="'Liberation Serif', 'Noto Serif CJK SC', serif" font-weight="700">挂点支反力</text>
<text x="320.0" y="-1" font-size="66" fill="#191919" font-family="'Liberation Serif', serif" font-weight="bold" textLength="79" lengthAdjust="spacingAndGlyphs">RF</text>
<text x="397.0" y="16.6" font-size="44" fill="#191919" font-family="'Liberation Serif', serif" font-style="italic" font-weight="bold">x</text>
<text x="418.0" y="-1" font-size="66" fill="#191919" font-family="'Liberation Serif', serif" font-weight="bold" textLength="92" lengthAdjust="spacingAndGlyphs">/kN</text>
</g>
<g transform="translate(142.0,2206.0) rotate(-90)">
<text x="0" y="0" font-size="63.5" fill="#191919" font-family="'Liberation Serif', 'Noto Serif CJK SC', serif" font-weight="700">挂点支反力</text>
<text x="320.0" y="-1" font-size="66" fill="#191919" font-family="'Liberation Serif', serif" font-weight="bold" textLength="79" lengthAdjust="spacingAndGlyphs">RF</text>
<text x="400.0" y="15.7" font-size="44" fill="#191919" font-family="'Liberation Serif', serif" font-style="italic" font-weight="bold">y</text>
<text x="418.0" y="-1" font-size="66" fill="#191919" font-family="'Liberation Serif', serif" font-weight="bold" textLength="92" lengthAdjust="spacingAndGlyphs">/kN</text>
</g>
<g transform="translate(1999.0,2211.0) rotate(-90)">
<text x="0" y="0" font-size="63.5" fill="#191919" font-family="'Liberation Serif', 'Noto Serif CJK SC', serif" font-weight="700">挂点支反力</text>
<text x="320.0" y="-1" font-size="66" fill="#191919" font-family="'Liberation Serif', serif" font-weight="bold" textLength="79" lengthAdjust="spacingAndGlyphs">RF</text>
<text x="400.0" y="15.7" font-size="44" fill="#191919" font-family="'Liberation Serif', serif" font-style="italic" font-weight="bold">y</text>
<text x="418.0" y="-1" font-size="66" fill="#191919" font-family="'Liberation Serif', serif" font-weight="bold" textLength="92" lengthAdjust="spacingAndGlyphs">/kN</text>
</g>
<line x1="1110.7" y1="527.4" x2="1231.5" y2="527.4" stroke="#41733d" stroke-width="5"/>
<line x1="1110.7" y1="592.3" x2="1231.5" y2="592.3" stroke="#181818" stroke-width="5"/>
<line x1="1110.7" y1="657.1" x2="1231.5" y2="657.1" stroke="#de4830" stroke-width="5"/>
<line x1="1110.7" y1="722" x2="1231.5" y2="722" stroke="#2c4f8f" stroke-width="5"/>
<text x="1245.1" y="554.0" font-size="62" font-family="'Liberation Serif', 'Noto Serif CJK SC', serif" font-weight="700" fill="#191919" textLength="449" lengthAdjust="spacingAndGlyphs">子导线整档脱冰</text>
<text x="1246.3" y="620.0" font-size="66" font-family="'Liberation Serif', serif" font-weight="bold" fill="#191919" textLength="155.4" lengthAdjust="spacingAndGlyphs">Z-A-1</text>
<text x="1246.3" y="687.0" font-size="66" font-family="'Liberation Serif', serif" font-weight="bold" fill="#191919" textLength="155.4" lengthAdjust="spacingAndGlyphs">Z-B-1</text>
<text x="1246.3" y="753.6" font-size="66" font-family="'Liberation Serif', serif" font-weight="bold" fill="#191919" textLength="155.4" lengthAdjust="spacingAndGlyphs">Z-C-1</text>
<line x1="2969.2" y1="511.2" x2="3090" y2="511.2" stroke="#41733d" stroke-width="5"/>
<line x1="2969.2" y1="576" x2="3090" y2="576" stroke="#181818" stroke-width="5"/>
<line x1="2969.2" y1="641.3" x2="3090" y2="641.3" stroke="#de4830" stroke-width="5"/>
<line x1="2969.2" y1="706.2" x2="3090" y2="706.2" stroke="#2c4f8f" stroke-width="5"/>
<text x="3109.1" y="535.5" font-size="62" font-family="'Liberation Serif', 'Noto Serif CJK SC', serif" font-weight="700" fill="#191919" textLength="449" lengthAdjust="spacingAndGlyphs">子导线整档脱冰</text>
<text x="3110.5" y="596.5" font-size="66" font-family="'Liberation Serif', serif" font-weight="bold" fill="#191919" textLength="160" lengthAdjust="spacingAndGlyphs">Z-A-2</text>
<text x="3110.5" y="658.8" font-size="66" font-family="'Liberation Serif', serif" font-weight="bold" fill="#191919" textLength="160" lengthAdjust="spacingAndGlyphs">Z-B-2</text>
<text x="3110.5" y="721.0" font-size="66" font-family="'Liberation Serif', serif" font-weight="bold" fill="#191919" textLength="160" lengthAdjust="spacingAndGlyphs">Z-C-2</text>
<line x1="968.4" y1="1464.3" x2="1092" y2="1464.3" stroke="#41733d" stroke-width="5"/>
<line x1="968.4" y1="1530" x2="1092" y2="1530" stroke="#181818" stroke-width="5"/>
<line x1="968.4" y1="1596.5" x2="1092" y2="1596.5" stroke="#de4830" stroke-width="5"/>
<line x1="968.4" y1="1662.6" x2="1092" y2="1662.6" stroke="#2c4f8f" stroke-width="5"/>
<text x="1102.8" y="1482.5" font-size="62" font-family="'Liberation Serif', 'Noto Serif CJK SC', serif" font-weight="700" fill="#191919" textLength="449" lengthAdjust="spacingAndGlyphs">子导线整档脱冰</text>
<text x="1104.3" y="1549.0" font-size="66" font-family="'Liberation Serif', serif" font-weight="bold" fill="#191919" textLength="156" lengthAdjust="spacingAndGlyphs">Z-A-1</text>
<text x="1104.3" y="1615.5" font-size="66" font-family="'Liberation Serif', serif" font-weight="bold" fill="#191919" textLength="156" lengthAdjust="spacingAndGlyphs">Z-B-1</text>
<text x="1104.3" y="1682.2" font-size="66" font-family="'Liberation Serif', serif" font-weight="bold" fill="#191919" textLength="156" lengthAdjust="spacingAndGlyphs">Z-C-1</text>
<line x1="3006.9" y1="1457" x2="3132.6" y2="1457" stroke="#41733d" stroke-width="5"/>
<line x1="3006.9" y1="1524.9" x2="3132.6" y2="1524.9" stroke="#181818" stroke-width="5"/>
<line x1="3006.9" y1="1593" x2="3132.6" y2="1593" stroke="#de4830" stroke-width="5"/>
<line x1="3006.9" y1="1660.2" x2="3132.6" y2="1660.2" stroke="#2c4f8f" stroke-width="5"/>
<text x="3148.1" y="1482.5" font-size="62" font-family="'Liberation Serif', 'Noto Serif CJK SC', serif" font-weight="700" fill="#191919" textLength="449" lengthAdjust="spacingAndGlyphs">子导线整档脱冰</text>
<text x="3149.5" y="1548.5" font-size="66" font-family="'Liberation Serif', serif" font-weight="bold" fill="#191919" textLength="160" lengthAdjust="spacingAndGlyphs">Z-A-2</text>
<text x="3149.5" y="1615.5" font-size="66" font-family="'Liberation Serif', serif" font-weight="bold" fill="#191919" textLength="160" lengthAdjust="spacingAndGlyphs">Z-B-2</text>
<text x="3149.5" y="1681.3" font-size="66" font-family="'Liberation Serif', serif" font-weight="bold" fill="#191919" textLength="160" lengthAdjust="spacingAndGlyphs">Z-C-2</text>
<text x="1309.6" y="1317.0" font-size="74" font-family="'Liberation Serif', serif" fill="#191919">(</text>
<text x="1348.4" y="1316.4" font-size="68" font-family="'Liberation Serif', serif" font-weight="bold" fill="#191919">c</text>
<text x="1399.9" y="1317.0" font-size="74" font-family="'Liberation Serif', serif" fill="#191919">)</text>
<text x="1442.9" y="1318.6" font-size="72" font-family="'Liberation Serif', 'Noto Serif CJK SC', serif" font-weight="600" fill="#191919">挂点支反力</text>
<text x="1807.8" y="1316.4" font-size="73" font-family="'Liberation Serif', serif" font-weight="bold" font-style="italic" fill="#191919">F</text>
<text x="1852.0" y="1332.2" font-size="46" font-family="'Liberation Serif', serif" stroke="#191919" stroke-width="1.2" fill="#191919">R</text>
<text x="1884.5" y="1332.2" font-size="46" font-family="'Liberation Serif', serif" font-style="italic" font-weight="bold" fill="#191919">x</text>
<text x="1908.9" y="1318.6" font-size="72" font-family="'Liberation Serif', 'Noto Serif CJK SC', serif" font-weight="600" fill="#191919">时程曲线</text>
<text x="1309.6" y="2751.0" font-size="74" font-family="'Liberation Serif', serif" fill="#191919">(</text>
<text x="1347.4" y="2751.4" font-size="70" font-family="'Liberation Serif', serif" font-weight="bold" fill="#191919">d</text>
<text x="1403.0" y="2751.0" font-size="74" font-family="'Liberation Serif', serif" fill="#191919">)</text>
<text x="1446.0" y="2752.6" font-size="72" font-family="'Liberation Serif', 'Noto Serif CJK SC', serif" font-weight="600" fill="#191919">挂点支反力</text>
<text x="1810.9" y="2750.4" font-size="73" font-family="'Liberation Serif', serif" font-weight="bold" font-style="italic" fill="#191919">F</text>
<text x="1855.1" y="2766.2" font-size="46" font-family="'Liberation Serif', serif" stroke="#191919" stroke-width="1.2" fill="#191919">R</text>
<text x="1891.6" y="2767.2" font-size="46" font-family="'Liberation Serif', serif" font-style="italic" font-weight="bold" fill="#191919">y</text>
<text x="1913.0" y="2752.6" font-size="72" font-family="'Liberation Serif', 'Noto Serif CJK SC', serif" font-weight="600" fill="#191919">时程曲线</text>
</svg></body></html>
